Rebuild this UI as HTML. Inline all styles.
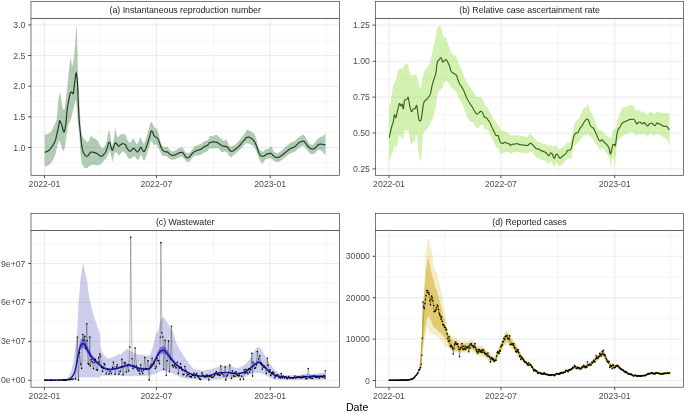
<!DOCTYPE html>
<html><head><meta charset="utf-8"><title>Figure</title>
<style>
html,body{margin:0;padding:0;background:#fff;}
svg{display:block;font-family:"Liberation Sans",Arial,Helvetica,sans-serif;}
</style></head><body>
<svg width="685" height="413" viewBox="0 0 685 413">
<rect width="685" height="413" fill="#fff"/>
<defs><clipPath id="cp_a"><rect x="31.0" y="18.5" width="308.5" height="156.8"/></clipPath><clipPath id="cp_b"><rect x="375.5" y="18.5" width="307.9" height="156.8"/></clipPath><clipPath id="cp_c"><rect x="31.0" y="230.4" width="308.5" height="156.8"/></clipPath><clipPath id="cp_d"><rect x="375.5" y="230.4" width="307.9" height="156.8"/></clipPath></defs>
<rect x="31.0" y="18.5" width="308.5" height="156.8" fill="#fff"/>
<line x1="31.0" x2="339.5" y1="162.8" y2="162.8" stroke="#ebebeb" stroke-width="0.5"/>
<line x1="31.0" x2="339.5" y1="132.2" y2="132.2" stroke="#ebebeb" stroke-width="0.5"/>
<line x1="31.0" x2="339.5" y1="101.5" y2="101.5" stroke="#ebebeb" stroke-width="0.5"/>
<line x1="31.0" x2="339.5" y1="70.9" y2="70.9" stroke="#ebebeb" stroke-width="0.5"/>
<line x1="31.0" x2="339.5" y1="40.2" y2="40.2" stroke="#ebebeb" stroke-width="0.5"/>
<line x1="100.5" x2="100.5" y1="18.5" y2="175.3" stroke="#ebebeb" stroke-width="0.5"/>
<line x1="213.3" x2="213.3" y1="18.5" y2="175.3" stroke="#ebebeb" stroke-width="0.5"/>
<line x1="326.2" x2="326.2" y1="18.5" y2="175.3" stroke="#ebebeb" stroke-width="0.5"/>
<line x1="31.0" x2="339.5" y1="147.5" y2="147.5" stroke="#ebebeb" stroke-width="1.0"/>
<line x1="31.0" x2="339.5" y1="116.8" y2="116.8" stroke="#ebebeb" stroke-width="1.0"/>
<line x1="31.0" x2="339.5" y1="86.2" y2="86.2" stroke="#ebebeb" stroke-width="1.0"/>
<line x1="31.0" x2="339.5" y1="55.5" y2="55.5" stroke="#ebebeb" stroke-width="1.0"/>
<line x1="31.0" x2="339.5" y1="24.9" y2="24.9" stroke="#ebebeb" stroke-width="1.0"/>
<line x1="44.5" x2="44.5" y1="18.5" y2="175.3" stroke="#ebebeb" stroke-width="1.0"/>
<line x1="156.4" x2="156.4" y1="18.5" y2="175.3" stroke="#ebebeb" stroke-width="1.0"/>
<line x1="270.2" x2="270.2" y1="18.5" y2="175.3" stroke="#ebebeb" stroke-width="1.0"/>
<g clip-path="url(#cp_a)">
<path d="M44.7 134.6L45.1 134.6L45.5 134.5L45.9 134.5L46.3 134.4L46.7 134.2L47.1 134.1L47.5 133.9L47.9 133.8L48.3 133.6L48.7 133.4L49.1 133.2L49.5 133.0L49.9 132.6L50.3 132.3L50.7 131.9L51.1 131.4L51.5 130.9L51.9 130.3L52.3 129.7L52.7 128.8L53.1 127.8L53.5 126.7L53.9 125.8L54.3 124.9L54.7 124.2L55.1 123.4L55.5 122.6L55.9 121.7L56.3 120.8L56.7 118.6L57.1 114.4L57.5 109.7L57.9 105.2L58.3 100.5L58.7 97.0L59.1 94.6L59.5 93.3L59.9 93.5L60.3 94.3L60.7 95.5L61.1 98.6L61.5 102.1L61.9 104.3L62.3 106.0L62.7 107.6L63.1 109.0L63.5 109.9L63.9 110.3L64.3 109.7L64.7 107.7L65.1 104.9L65.5 101.7L65.9 98.7L66.3 95.7L66.7 92.5L67.1 89.1L67.5 85.3L67.9 81.1L68.3 76.8L68.7 72.8L69.1 69.2L69.5 65.4L69.9 61.7L70.3 58.9L70.7 58.1L71.1 59.8L71.5 62.7L71.9 65.3L72.3 65.8L72.7 64.7L73.1 62.6L73.5 59.9L73.9 56.9L74.3 53.4L74.7 48.6L75.1 43.2L75.5 38.0L75.9 31.9L76.3 27.0L76.7 26.6L77.1 36.0L77.5 52.3L77.9 72.1L78.3 80.2L78.7 86.5L79.1 94.6L79.5 103.3L79.9 111.5L80.3 119.1L80.7 126.0L81.1 130.4L81.5 132.7L81.9 134.5L82.3 135.8L82.7 136.8L83.1 137.6L83.5 138.2L83.9 138.7L84.3 139.2L84.7 139.6L85.1 140.0L85.5 140.4L85.9 140.8L86.3 141.2L86.7 141.6L87.1 141.9L87.5 142.1L87.9 142.2L88.3 141.8L88.7 141.1L89.1 140.0L89.5 139.0L89.9 138.1L90.3 137.2L90.7 136.4L91.1 136.1L91.5 136.3L91.9 136.7L92.3 137.1L92.7 137.6L93.1 137.8L93.5 138.1L93.9 138.3L94.3 138.4L94.7 138.6L95.1 138.8L95.5 139.0L95.9 139.3L96.3 139.5L96.7 139.8L97.1 140.1L97.5 140.4L97.9 140.8L98.3 141.4L98.7 142.3L99.1 143.4L99.5 144.5L99.9 145.4L100.3 146.2L100.7 147.1L101.1 147.9L101.5 148.4L101.9 148.4L102.3 148.3L102.7 148.1L103.1 147.8L103.5 147.4L103.9 147.0L104.3 146.5L104.7 146.0L105.1 145.3L105.5 144.5L105.9 143.5L106.3 142.4L106.7 141.2L107.1 139.4L107.5 136.6L107.9 133.8L108.3 132.1L108.7 131.2L109.1 130.7L109.5 130.8L109.9 132.4L110.3 134.5L110.7 137.5L111.1 141.5L111.5 144.8L111.9 145.9L112.3 145.4L112.7 144.4L113.1 143.0L113.5 141.4L113.9 138.7L114.3 135.5L114.7 132.7L115.1 129.7L115.5 127.8L115.9 129.1L116.3 132.9L116.7 134.6L117.1 135.7L117.5 136.6L117.9 137.0L118.3 137.1L118.7 136.8L119.1 136.4L119.5 135.8L119.9 135.3L120.3 134.8L120.7 134.6L121.1 134.4L121.5 134.2L121.9 134.1L122.3 134.0L122.7 134.0L123.1 134.0L123.5 134.1L123.9 134.2L124.3 134.3L124.7 134.4L125.1 134.6L125.5 135.1L125.9 136.1L126.3 137.3L126.7 138.4L127.1 139.3L127.5 140.0L127.9 140.9L128.3 141.6L128.7 142.2L129.1 142.6L129.5 142.8L129.9 142.7L130.3 142.5L130.7 142.2L131.1 141.8L131.5 141.4L131.9 140.7L132.3 139.8L132.7 138.9L133.1 138.4L133.5 138.5L133.9 139.0L134.3 139.8L134.7 140.6L135.1 141.2L135.5 142.0L135.9 142.7L136.3 143.4L136.7 143.9L137.1 144.0L137.5 143.7L137.9 143.1L138.3 142.3L138.7 141.4L139.1 140.5L139.5 139.2L139.9 138.0L140.3 137.2L140.7 137.3L141.1 138.2L141.5 139.4L141.9 140.5L142.3 141.3L142.7 142.1L143.1 142.9L143.5 143.3L143.9 143.4L144.3 142.9L144.7 142.1L145.1 141.2L145.5 140.2L145.9 139.0L146.3 137.6L146.7 136.1L147.1 134.7L147.5 133.3L147.9 132.0L148.3 130.7L148.7 129.4L149.1 128.0L149.5 126.2L149.9 124.4L150.3 123.0L150.7 122.5L151.1 122.2L151.5 122.0L151.9 122.0L152.3 122.7L152.7 123.7L153.1 124.6L153.5 125.5L153.9 126.4L154.3 127.2L154.7 127.7L155.1 128.0L155.5 128.2L155.9 128.4L156.3 128.7L156.7 129.1L157.1 129.8L157.5 130.7L157.9 131.7L158.3 132.9L158.7 134.1L159.1 135.7L159.5 137.5L159.9 139.2L160.3 140.8L160.7 142.1L161.1 143.3L161.5 144.5L161.9 145.4L162.3 146.0L162.7 146.4L163.1 146.8L163.5 147.0L163.9 147.2L164.3 147.2L164.7 147.1L165.1 147.0L165.5 146.8L165.9 146.7L166.3 146.6L166.7 146.6L167.1 146.7L167.5 147.1L167.9 147.5L168.3 148.1L168.7 148.6L169.1 149.0L169.5 149.4L169.9 149.8L170.3 150.2L170.7 150.7L171.1 151.0L171.5 151.3L171.9 151.5L172.3 151.6L172.7 151.6L173.1 151.5L173.5 151.3L173.9 151.1L174.3 150.9L174.7 150.7L175.1 150.5L175.5 150.3L175.9 150.1L176.3 149.9L176.7 149.6L177.1 149.3L177.5 149.1L177.9 148.8L178.3 148.6L178.7 148.4L179.1 148.2L179.5 148.0L179.9 147.8L180.3 147.6L180.7 147.4L181.1 147.3L181.5 147.2L181.9 147.2L182.3 147.4L182.7 147.8L183.1 148.4L183.5 148.9L183.9 149.5L184.3 150.2L184.7 151.0L185.1 151.7L185.5 152.2L185.9 152.5L186.3 152.8L186.7 153.1L187.1 153.3L187.5 153.4L187.9 153.5L188.3 153.5L188.7 153.3L189.1 153.0L189.5 152.6L189.9 152.3L190.3 151.9L190.7 151.4L191.1 150.9L191.5 150.3L191.9 149.8L192.3 149.3L192.7 148.8L193.1 148.3L193.5 147.9L193.9 147.4L194.3 147.0L194.7 146.6L195.1 146.3L195.5 146.0L195.9 145.8L196.3 145.6L196.7 145.4L197.1 145.3L197.5 145.1L197.9 145.0L198.3 144.8L198.7 144.7L199.1 144.5L199.5 144.4L199.9 144.3L200.3 144.1L200.7 144.0L201.1 143.8L201.5 143.6L201.9 143.4L202.3 143.0L202.7 142.7L203.1 142.3L203.5 142.0L203.9 141.6L204.3 141.3L204.7 141.1L205.1 140.9L205.5 140.8L205.9 140.7L206.3 140.6L206.7 140.5L207.1 140.4L207.5 140.3L207.9 139.9L208.3 139.0L208.7 137.9L209.1 137.1L209.5 136.7L209.9 136.3L210.3 136.0L210.7 135.9L211.1 135.9L211.5 136.1L211.9 136.3L212.3 136.4L212.7 136.5L213.1 136.3L213.5 136.0L213.9 135.6L214.3 135.3L214.7 135.2L215.1 135.1L215.5 135.0L215.9 134.9L216.3 134.8L216.7 134.9L217.1 135.1L217.5 135.5L217.9 136.0L218.3 136.5L218.7 136.9L219.1 137.2L219.5 137.6L219.9 137.9L220.3 138.2L220.7 138.5L221.1 138.7L221.5 139.0L221.9 139.4L222.3 139.8L222.7 140.2L223.1 140.5L223.5 140.8L223.9 140.9L224.3 140.8L224.7 140.5L225.1 140.1L225.5 139.8L225.9 139.6L226.3 139.8L226.7 140.3L227.1 140.9L227.5 141.7L227.9 142.9L228.3 143.9L228.7 144.6L229.1 145.4L229.5 146.0L229.9 146.4L230.3 146.6L230.7 146.5L231.1 146.5L231.5 146.4L231.9 146.2L232.3 146.1L232.7 146.0L233.1 145.8L233.5 145.6L233.9 145.4L234.3 145.1L234.7 144.9L235.1 144.6L235.5 144.3L235.9 144.0L236.3 143.6L236.7 143.3L237.1 142.9L237.5 142.5L237.9 142.1L238.3 141.6L238.7 141.1L239.1 140.6L239.5 140.1L239.9 139.6L240.3 139.1L240.7 138.6L241.1 138.1L241.5 137.6L241.9 137.1L242.3 136.6L242.7 136.1L243.1 135.6L243.5 135.1L243.9 134.6L244.3 134.1L244.7 133.6L245.1 133.1L245.5 132.5L245.9 131.7L246.3 130.8L246.7 130.1L247.1 129.6L247.5 129.6L247.9 129.7L248.3 130.0L248.7 130.3L249.1 130.5L249.5 130.8L249.9 131.0L250.3 131.2L250.7 131.5L251.1 131.7L251.5 132.0L251.9 132.2L252.3 132.5L252.7 132.7L253.1 133.0L253.5 133.3L253.9 133.6L254.3 134.1L254.7 134.7L255.1 135.6L255.5 136.6L255.9 137.8L256.3 139.2L256.7 141.1L257.1 143.1L257.5 144.5L257.9 145.6L258.3 146.6L258.7 147.5L259.1 148.2L259.5 148.9L259.9 149.6L260.3 150.2L260.7 150.8L261.1 151.3L261.5 151.5L261.9 151.6L262.3 151.6L262.7 151.6L263.1 151.6L263.5 151.6L263.9 151.5L264.3 150.9L264.7 150.1L265.1 149.4L265.5 149.1L265.9 149.1L266.3 149.1L266.7 149.1L267.1 149.1L267.5 149.1L267.9 149.1L268.3 149.0L268.7 148.6L269.1 148.1L269.5 147.6L269.9 147.2L270.3 147.0L270.7 146.8L271.1 146.7L271.5 146.6L271.9 146.6L272.3 147.6L272.7 149.2L273.1 150.4L273.5 150.9L273.9 151.4L274.3 151.8L274.7 152.1L275.1 152.3L275.5 152.5L275.9 152.7L276.3 152.9L276.7 153.1L277.1 153.2L277.5 153.2L277.9 153.1L278.3 152.8L278.7 152.5L279.1 152.2L279.5 152.0L279.9 151.8L280.3 151.6L280.7 151.3L281.1 151.1L281.5 150.8L281.9 150.4L282.3 150.0L282.7 149.6L283.1 149.1L283.5 148.7L283.9 148.3L284.3 147.9L284.7 147.5L285.1 147.2L285.5 146.9L285.9 146.6L286.3 146.3L286.7 145.9L287.1 145.6L287.5 145.3L287.9 145.0L288.3 144.6L288.7 144.3L289.1 143.9L289.5 143.6L289.9 143.3L290.3 143.0L290.7 142.8L291.1 142.6L291.5 142.4L291.9 142.3L292.3 142.1L292.7 142.0L293.1 141.8L293.5 141.7L293.9 141.5L294.3 141.2L294.7 141.0L295.1 140.7L295.5 140.3L295.9 140.0L296.3 139.7L296.7 139.3L297.1 138.9L297.5 138.4L297.9 138.0L298.3 137.6L298.7 137.2L299.1 137.0L299.5 136.7L299.9 136.6L300.3 136.4L300.7 136.2L301.1 136.0L301.5 135.8L301.9 135.5L302.3 135.1L302.7 134.8L303.1 134.6L303.5 134.6L303.9 134.9L304.3 135.4L304.7 136.0L305.1 136.6L305.5 137.3L305.9 137.9L306.3 138.6L306.7 139.3L307.1 140.1L307.5 140.9L307.9 141.6L308.3 142.1L308.7 142.7L309.1 143.2L309.5 143.7L309.9 144.2L310.3 144.5L310.7 144.7L311.1 144.7L311.5 144.7L311.9 144.7L312.3 144.7L312.7 144.7L313.1 144.6L313.5 144.3L313.9 143.9L314.3 143.3L314.7 142.8L315.1 142.3L315.5 141.8L315.9 141.3L316.3 140.8L316.7 140.2L317.1 139.7L317.5 139.3L317.9 138.9L318.3 138.5L318.7 138.2L319.1 137.9L319.5 137.6L319.9 137.3L320.3 137.1L320.7 136.9L321.1 136.8L321.5 136.6L321.9 136.5L322.3 136.4L322.7 136.2L323.1 135.9L323.5 135.5L323.9 135.1L324.3 134.6L324.7 134.1L325.1 133.5L325.5 132.8L325.5 132.7L325.5 155.8L325.5 155.7L325.1 155.1L324.7 154.5L324.3 154.0L323.9 153.4L323.5 152.9L323.1 152.5L322.7 152.0L322.3 151.5L321.9 151.0L321.5 150.7L321.1 150.4L320.7 150.3L320.3 150.2L319.9 150.1L319.5 150.0L319.1 150.0L318.7 150.0L318.3 150.0L317.9 150.1L317.5 150.4L317.1 150.9L316.7 151.3L316.3 151.8L315.9 152.2L315.5 152.6L315.1 152.9L314.7 153.3L314.3 153.7L313.9 154.0L313.5 154.1L313.1 154.1L312.7 154.1L312.3 154.1L311.9 154.1L311.5 154.1L311.1 154.1L310.7 154.1L310.3 153.9L309.9 153.6L309.5 153.1L309.1 152.6L308.7 152.1L308.3 151.6L307.9 151.1L307.5 150.6L307.1 150.1L306.7 149.6L306.3 149.1L305.9 148.6L305.5 148.1L305.1 147.5L304.7 146.8L304.3 146.3L303.9 146.0L303.5 145.9L303.1 146.0L302.7 146.1L302.3 146.2L301.9 146.4L301.5 146.5L301.1 146.7L300.7 146.8L300.3 147.0L299.9 147.2L299.5 147.4L299.1 147.7L298.7 147.9L298.3 148.3L297.9 148.7L297.5 149.1L297.1 149.6L296.7 150.0L296.3 150.4L295.9 150.7L295.5 151.1L295.1 151.4L294.7 151.7L294.3 152.0L293.9 152.2L293.5 152.4L293.1 152.5L292.7 152.6L292.3 152.7L291.9 152.8L291.5 152.9L291.1 153.1L290.7 153.2L290.3 153.4L289.9 153.6L289.5 153.9L289.1 154.2L288.7 154.5L288.3 154.8L287.9 155.1L287.5 155.4L287.1 155.7L286.7 156.0L286.3 156.3L285.9 156.7L285.5 157.0L285.1 157.3L284.7 157.6L284.3 158.0L283.9 158.3L283.5 158.6L283.1 159.0L282.7 159.3L282.3 159.6L281.9 159.9L281.5 160.2L281.1 160.5L280.7 160.8L280.3 161.0L279.9 161.3L279.5 161.6L279.1 161.8L278.7 161.9L278.3 162.0L277.9 162.1L277.5 162.1L277.1 162.1L276.7 162.0L276.3 162.0L275.9 161.9L275.5 161.8L275.1 161.6L274.7 161.5L274.3 161.3L273.9 161.0L273.5 160.7L273.1 160.4L272.7 160.0L272.3 159.6L271.9 159.1L271.5 158.6L271.1 158.2L270.7 157.9L270.3 157.9L269.9 158.0L269.5 158.2L269.1 158.4L268.7 158.5L268.3 158.6L267.9 158.7L267.5 158.8L267.1 158.9L266.7 159.0L266.3 159.1L265.9 159.3L265.5 159.6L265.1 160.1L264.7 160.5L264.3 161.0L263.9 161.6L263.5 162.3L263.1 162.9L262.7 163.4L262.3 163.6L261.9 163.3L261.5 162.8L261.1 162.3L260.7 161.7L260.3 161.1L259.9 160.4L259.5 159.7L259.1 158.9L258.7 157.9L258.3 156.8L257.9 155.7L257.5 154.5L257.1 153.4L256.7 152.3L256.3 151.1L255.9 150.0L255.5 149.2L255.1 148.5L254.7 147.9L254.3 147.4L253.9 146.9L253.5 146.5L253.1 146.1L252.7 145.8L252.3 145.5L251.9 145.2L251.5 144.9L251.1 144.7L250.7 144.4L250.3 144.2L249.9 143.9L249.5 143.7L249.1 143.5L248.7 143.4L248.3 143.4L247.9 143.4L247.5 143.4L247.1 143.4L246.7 143.4L246.3 143.4L245.9 143.4L245.5 143.6L245.1 143.9L244.7 144.4L244.3 144.9L243.9 145.5L243.5 145.9L243.1 146.3L242.7 146.8L242.3 147.2L241.9 147.7L241.5 148.1L241.1 148.6L240.7 149.0L240.3 149.4L239.9 149.8L239.5 150.2L239.1 150.6L238.7 151.0L238.3 151.4L237.9 151.7L237.5 152.0L237.1 152.3L236.7 152.7L236.3 153.0L235.9 153.3L235.5 153.5L235.1 153.8L234.7 154.1L234.3 154.4L233.9 154.6L233.5 154.9L233.1 155.3L232.7 155.7L232.3 156.2L231.9 156.7L231.5 157.0L231.1 157.2L230.7 157.2L230.3 157.0L229.9 156.5L229.5 156.0L229.1 155.5L228.7 155.0L228.3 154.4L227.9 153.8L227.5 153.3L227.1 152.8L226.7 152.5L226.3 152.1L225.9 151.8L225.5 151.6L225.1 151.6L224.7 151.6L224.3 151.7L223.9 151.8L223.5 152.0L223.1 152.1L222.7 152.2L222.3 152.2L221.9 152.2L221.5 152.0L221.1 151.6L220.7 151.1L220.3 150.5L219.9 150.0L219.5 149.7L219.1 149.3L218.7 148.9L218.3 148.5L217.9 148.2L217.5 147.9L217.1 147.8L216.7 147.9L216.3 148.0L215.9 148.1L215.5 148.2L215.1 148.4L214.7 148.4L214.3 148.4L213.9 148.4L213.5 148.4L213.1 148.3L212.7 148.2L212.3 148.2L211.9 148.2L211.5 148.2L211.1 148.2L210.7 148.3L210.3 148.3L209.9 148.4L209.5 148.4L209.1 148.7L208.7 149.3L208.3 150.0L207.9 150.6L207.5 151.0L207.1 151.3L206.7 151.5L206.3 151.7L205.9 151.9L205.5 152.0L205.1 152.2L204.7 152.4L204.3 152.6L203.9 152.8L203.5 152.9L203.1 153.1L202.7 153.4L202.3 153.7L201.9 154.1L201.5 154.4L201.1 154.6L200.7 154.8L200.3 154.9L199.9 155.1L199.5 155.2L199.1 155.3L198.7 155.4L198.3 155.4L197.9 155.5L197.5 155.5L197.1 155.5L196.7 155.6L196.3 155.6L195.9 155.6L195.5 155.7L195.1 155.7L194.7 155.8L194.3 156.0L193.9 156.3L193.5 156.7L193.1 157.1L192.7 157.6L192.3 158.0L191.9 158.4L191.5 158.9L191.1 159.5L190.7 160.1L190.3 160.7L189.9 161.2L189.5 161.6L189.1 161.8L188.7 162.0L188.3 162.1L187.9 162.2L187.5 162.3L187.1 162.2L186.7 161.9L186.3 161.4L185.9 160.9L185.5 160.4L185.1 159.9L184.7 159.3L184.3 158.7L183.9 158.2L183.5 157.8L183.1 157.4L182.7 157.1L182.3 156.8L181.9 156.6L181.5 156.6L181.1 156.7L180.7 156.8L180.3 156.9L179.9 157.1L179.5 157.2L179.1 157.4L178.7 157.6L178.3 157.8L177.9 157.9L177.5 158.1L177.1 158.4L176.7 158.6L176.3 158.9L175.9 159.1L175.5 159.3L175.1 159.5L174.7 159.5L174.3 159.6L173.9 159.6L173.5 159.7L173.1 159.7L172.7 159.8L172.3 159.8L171.9 159.8L171.5 159.8L171.1 159.7L170.7 159.5L170.3 159.2L169.9 158.9L169.5 158.6L169.1 158.3L168.7 158.0L168.3 157.7L167.9 157.4L167.5 157.0L167.1 156.6L166.7 156.3L166.3 156.1L165.9 156.0L165.5 156.0L165.1 156.0L164.7 156.0L164.3 156.0L163.9 156.0L163.5 156.0L163.1 155.9L162.7 155.7L162.3 155.3L161.9 154.8L161.5 154.2L161.1 153.7L160.7 153.0L160.3 152.1L159.9 151.1L159.5 150.1L159.1 149.1L158.7 148.2L158.3 147.3L157.9 146.4L157.5 145.7L157.1 145.2L156.7 144.8L156.3 144.4L155.9 144.1L155.5 144.0L155.1 144.5L154.7 145.2L154.3 145.8L153.9 145.8L153.5 145.0L153.1 143.7L152.7 142.5L152.3 141.8L151.9 141.3L151.5 141.0L151.1 141.0L150.7 141.9L150.3 143.4L149.9 145.0L149.5 146.3L149.1 147.6L148.7 148.7L148.3 149.9L147.9 151.1L147.5 152.4L147.1 153.6L146.7 154.9L146.3 156.1L145.9 157.2L145.5 158.2L145.1 159.2L144.7 160.0L144.3 160.4L143.9 160.3L143.5 159.9L143.1 159.4L142.7 158.5L142.3 157.1L141.9 155.5L141.5 154.8L141.1 155.0L140.7 155.7L140.3 156.5L139.9 157.2L139.5 158.0L139.1 158.9L138.7 159.5L138.3 159.8L137.9 159.7L137.5 159.6L137.1 159.5L136.7 159.3L136.3 159.1L135.9 158.4L135.5 157.5L135.1 156.6L134.7 156.1L134.3 156.0L133.9 156.2L133.5 156.5L133.1 156.9L132.7 157.2L132.3 157.5L131.9 157.9L131.5 158.3L131.1 158.7L130.7 159.0L130.3 159.1L129.9 159.1L129.5 159.0L129.1 158.7L128.7 158.4L128.3 158.0L127.9 157.6L127.5 157.2L127.1 156.5L126.7 155.8L126.3 154.9L125.9 154.1L125.5 153.4L125.1 152.9L124.7 152.6L124.3 152.3L123.9 152.0L123.5 151.8L123.1 151.7L122.7 151.6L122.3 151.7L121.9 152.0L121.5 152.4L121.1 153.0L120.7 153.4L120.3 153.9L119.9 154.4L119.5 154.9L119.1 155.3L118.7 155.4L118.3 155.1L117.9 154.4L117.5 153.7L117.1 153.1L116.7 152.8L116.3 152.6L115.9 152.4L115.5 152.3L115.1 152.2L114.7 152.5L114.3 153.7L113.9 155.3L113.5 156.9L113.1 159.1L112.7 160.9L112.3 161.1L111.9 159.7L111.5 157.5L111.1 155.6L110.7 153.5L110.3 151.7L109.9 151.0L109.5 151.5L109.1 152.5L108.7 153.4L108.3 154.3L107.9 155.1L107.5 156.0L107.1 156.7L106.7 157.4L106.3 158.0L105.9 158.5L105.5 159.0L105.1 159.5L104.7 159.9L104.3 160.4L103.9 160.8L103.5 161.2L103.1 161.7L102.7 162.1L102.3 162.4L101.9 162.8L101.5 163.2L101.1 163.5L100.7 163.9L100.3 164.2L99.9 164.5L99.5 164.7L99.1 164.9L98.7 165.0L98.3 165.2L97.9 165.3L97.5 165.4L97.1 165.4L96.7 165.5L96.3 165.4L95.9 165.3L95.5 165.2L95.1 165.0L94.7 164.9L94.3 164.8L93.9 164.8L93.5 164.8L93.1 164.8L92.7 164.8L92.3 164.8L91.9 164.8L91.5 164.8L91.1 165.0L90.7 165.2L90.3 165.4L89.9 165.8L89.5 166.1L89.1 166.4L88.7 166.7L88.3 167.1L87.9 167.6L87.5 167.9L87.1 168.2L86.7 168.3L86.3 168.3L85.9 168.2L85.5 168.1L85.1 167.9L84.7 167.7L84.3 167.5L83.9 167.2L83.5 166.7L83.1 166.1L82.7 165.3L82.3 164.4L81.9 163.2L81.5 161.6L81.1 159.4L80.7 155.9L80.3 150.3L79.9 144.1L79.5 136.9L79.1 132.2L78.7 129.0L78.3 126.2L77.9 122.8L77.5 117.6L77.1 111.3L76.7 106.7L76.3 103.1L75.9 100.6L75.5 100.4L75.1 101.5L74.7 103.4L74.3 105.4L73.9 107.1L73.5 108.7L73.1 110.4L72.7 112.1L72.3 113.7L71.9 115.2L71.5 116.7L71.1 118.1L70.7 119.4L70.3 120.6L69.9 121.7L69.5 122.5L69.1 123.1L68.7 123.8L68.3 124.8L67.9 126.7L67.5 129.4L67.1 132.2L66.7 135.0L66.3 137.8L65.9 140.6L65.5 143.3L65.1 146.0L64.7 148.1L64.3 149.3L63.9 150.3L63.5 150.9L63.1 150.8L62.7 150.1L62.3 148.9L61.9 147.5L61.5 146.0L61.1 144.7L60.7 143.8L60.3 142.9L59.9 142.0L59.5 141.3L59.1 140.9L58.7 141.1L58.3 142.0L57.9 143.5L57.5 145.3L57.1 147.0L56.7 148.6L56.3 150.5L55.9 152.5L55.5 154.2L55.1 155.5L54.7 156.6L54.3 157.5L53.9 158.3L53.5 159.0L53.1 159.7L52.7 160.3L52.3 160.9L51.9 161.5L51.5 162.0L51.1 162.6L50.7 163.1L50.3 163.5L49.9 164.0L49.5 164.3L49.1 164.6L48.7 164.9L48.3 165.2L47.9 165.4L47.5 165.7L47.1 165.9L46.7 166.1L46.3 166.3L45.9 166.4L45.5 166.6L45.1 166.7L44.7 166.7Z" fill="#236a28" fill-opacity="0.35" stroke="none"/>
<path d="M44.7 152.2L45.1 152.2L45.5 152.1L45.9 152.0L46.3 151.8L46.7 151.6L47.1 151.4L47.5 151.2L47.9 151.0L48.3 150.7L48.7 150.4L49.1 150.2L49.5 149.8L49.9 149.4L50.3 148.9L50.7 148.4L51.1 147.9L51.5 147.3L51.9 146.7L52.3 146.1L52.7 145.6L53.1 144.9L53.5 144.3L53.9 143.6L54.3 142.8L54.7 142.0L55.1 141.0L55.5 139.9L55.9 138.4L56.3 136.6L56.7 134.8L57.1 133.1L57.5 131.4L57.9 129.6L58.3 127.7L58.7 125.8L59.1 123.3L59.5 120.7L59.9 120.9L60.3 121.5L60.7 122.4L61.1 123.4L61.5 124.4L61.9 125.5L62.3 127.0L62.7 128.6L63.1 130.1L63.5 131.3L63.9 131.9L64.3 131.8L64.7 130.5L65.1 128.6L65.5 126.2L65.9 123.6L66.3 119.6L66.7 114.6L67.1 110.4L67.5 107.5L67.9 104.8L68.3 102.5L68.7 100.4L69.1 98.5L69.5 96.6L69.9 94.7L70.3 93.1L70.7 92.2L71.1 92.1L71.5 92.2L71.9 92.5L72.3 92.8L72.7 93.6L73.1 93.9L73.5 92.4L73.9 89.2L74.3 85.6L74.7 82.4L75.1 79.2L75.5 75.9L75.9 73.4L76.3 72.9L76.7 74.8L77.1 78.5L77.5 83.4L77.9 93.5L78.3 103.6L78.7 111.7L79.1 118.7L79.5 124.0L79.9 128.0L80.3 131.7L80.7 135.9L81.1 140.3L81.5 143.9L81.9 146.6L82.3 148.7L82.7 150.4L83.1 151.6L83.5 152.7L83.9 153.5L84.3 154.2L84.7 154.7L85.1 155.1L85.5 155.4L85.9 155.7L86.3 156.0L86.7 156.2L87.1 156.2L87.5 156.2L87.9 155.9L88.3 155.3L88.7 154.7L89.1 154.2L89.5 153.7L89.9 153.1L90.3 152.5L90.7 152.1L91.1 152.0L91.5 152.0L91.9 152.0L92.3 152.1L92.7 152.2L93.1 152.3L93.5 152.3L93.9 152.4L94.3 152.5L94.7 152.6L95.1 152.7L95.5 152.9L95.9 153.0L96.3 153.2L96.7 153.4L97.1 153.6L97.5 153.8L97.9 154.1L98.3 154.4L98.7 154.8L99.1 155.2L99.5 155.5L99.9 155.8L100.3 155.9L100.7 156.1L101.1 156.2L101.5 156.3L101.9 156.2L102.3 155.9L102.7 155.5L103.1 155.1L103.5 154.6L103.9 154.2L104.3 153.8L104.7 153.4L105.1 152.9L105.5 152.3L105.9 151.5L106.3 150.5L106.7 149.3L107.1 148.1L107.5 146.9L107.9 145.5L108.3 143.8L108.7 142.6L109.1 142.2L109.5 142.3L109.9 142.7L110.3 143.8L110.7 145.7L111.1 147.5L111.5 148.6L111.9 149.7L112.3 150.3L112.7 150.1L113.1 148.8L113.5 147.2L113.9 146.1L114.3 144.8L114.7 143.7L115.1 142.9L115.5 142.8L115.9 143.0L116.3 143.4L116.7 143.9L117.1 144.3L117.5 144.9L117.9 145.5L118.3 145.9L118.7 146.2L119.1 146.1L119.5 145.8L119.9 145.4L120.3 144.9L120.7 144.6L121.1 144.4L121.5 144.1L121.9 143.8L122.3 143.7L122.7 143.7L123.1 143.7L123.5 143.8L123.9 143.9L124.3 144.1L124.7 144.2L125.1 144.4L125.5 144.8L125.9 145.6L126.3 146.5L126.7 147.4L127.1 148.3L127.5 149.0L127.9 149.4L128.3 149.9L128.7 150.4L129.1 150.7L129.5 151.0L129.9 151.2L130.3 151.2L130.7 151.0L131.1 150.6L131.5 150.2L131.9 149.8L132.3 149.4L132.7 148.9L133.1 148.5L133.5 148.2L133.9 148.3L134.3 148.6L134.7 149.1L135.1 149.6L135.5 150.1L135.9 150.5L136.3 151.1L136.7 151.6L137.1 151.9L137.5 152.0L137.9 151.7L138.3 151.3L138.7 150.7L139.1 150.1L139.5 149.4L139.9 148.5L140.3 147.7L140.7 147.2L141.1 147.4L141.5 148.0L141.9 148.9L142.3 149.7L142.7 150.3L143.1 150.9L143.5 151.4L143.9 151.6L144.3 151.4L144.7 150.9L145.1 150.1L145.5 149.3L145.9 148.4L146.3 147.4L146.7 146.2L147.1 144.9L147.5 143.6L147.9 142.3L148.3 141.0L148.7 139.6L149.1 138.3L149.5 136.9L149.9 135.5L150.3 133.8L150.7 132.2L151.1 131.2L151.5 131.1L151.9 131.3L152.3 131.6L152.7 132.1L153.1 133.2L153.5 134.5L153.9 135.4L154.3 135.9L154.7 136.4L155.1 136.7L155.5 137.0L155.9 137.2L156.3 137.3L156.7 137.5L157.1 137.7L157.5 138.1L157.9 138.7L158.3 139.6L158.7 140.6L159.1 141.6L159.5 142.7L159.9 144.0L160.3 145.3L160.7 146.5L161.1 147.5L161.5 148.3L161.9 149.0L162.3 149.7L162.7 150.2L163.1 150.6L163.5 150.9L163.9 151.2L164.3 151.4L164.7 151.6L165.1 151.7L165.5 151.7L165.9 151.8L166.3 151.8L166.7 151.9L167.1 151.9L167.5 152.1L167.9 152.3L168.3 152.7L168.7 153.1L169.1 153.5L169.5 153.9L169.9 154.2L170.3 154.5L170.7 154.7L171.1 155.0L171.5 155.2L171.9 155.3L172.3 155.4L172.7 155.4L173.1 155.3L173.5 155.3L173.9 155.2L174.3 155.1L174.7 155.0L175.1 154.9L175.5 154.8L175.9 154.5L176.3 154.3L176.7 154.1L177.1 153.9L177.5 153.7L177.9 153.5L178.3 153.3L178.7 153.1L179.1 152.9L179.5 152.7L179.9 152.6L180.3 152.5L180.7 152.4L181.1 152.3L181.5 152.3L181.9 152.2L182.3 152.3L182.7 152.6L183.1 153.1L183.5 153.6L183.9 154.1L184.3 154.7L184.7 155.4L185.1 156.1L185.5 156.6L185.9 157.0L186.3 157.3L186.7 157.6L187.1 157.8L187.5 157.9L187.9 157.8L188.3 157.7L188.7 157.5L189.1 157.2L189.5 156.9L189.9 156.4L190.3 155.9L190.7 155.4L191.1 154.9L191.5 154.4L191.9 154.0L192.3 153.5L192.7 153.1L193.1 152.7L193.5 152.4L193.9 152.1L194.3 151.8L194.7 151.5L195.1 151.3L195.5 151.1L195.9 150.9L196.3 150.7L196.7 150.5L197.1 150.4L197.5 150.3L197.9 150.2L198.3 150.1L198.7 150.0L199.1 149.9L199.5 149.7L199.9 149.6L200.3 149.5L200.7 149.3L201.1 149.2L201.5 148.9L201.9 148.5L202.3 148.1L202.7 147.7L203.1 147.4L203.5 147.1L203.9 146.8L204.3 146.6L204.7 146.4L205.1 146.2L205.5 146.0L205.9 145.9L206.3 145.8L206.7 145.7L207.1 145.5L207.5 145.4L207.9 145.0L208.3 144.4L208.7 143.8L209.1 143.1L209.5 142.8L209.9 142.6L210.3 142.4L210.7 142.3L211.1 142.2L211.5 142.1L211.9 142.1L212.3 142.0L212.7 142.0L213.1 141.9L213.5 141.9L213.9 141.9L214.3 141.9L214.7 141.9L215.1 142.0L215.5 142.0L215.9 142.1L216.3 142.1L216.7 142.2L217.1 142.4L217.5 142.6L217.9 142.9L218.3 143.2L218.7 143.5L219.1 143.8L219.5 144.0L219.9 144.3L220.3 144.6L220.7 144.9L221.1 145.1L221.5 145.3L221.9 145.5L222.3 145.7L222.7 145.8L223.1 145.9L223.5 146.1L223.9 146.2L224.3 146.2L224.7 146.3L225.1 146.3L225.5 146.4L225.9 146.4L226.3 146.5L226.7 146.6L227.1 146.9L227.5 147.4L227.9 147.9L228.3 148.4L228.7 148.9L229.1 149.5L229.5 150.2L229.9 150.7L230.3 151.0L230.7 151.1L231.1 151.1L231.5 151.2L231.9 151.2L232.3 151.2L232.7 151.1L233.1 150.9L233.5 150.6L233.9 150.3L234.3 150.0L234.7 149.7L235.1 149.4L235.5 149.1L235.9 148.8L236.3 148.5L236.7 148.2L237.1 147.9L237.5 147.5L237.9 147.2L238.3 146.8L238.7 146.4L239.1 146.0L239.5 145.5L239.9 145.1L240.3 144.6L240.7 144.1L241.1 143.6L241.5 143.0L241.9 142.5L242.3 142.1L242.7 141.7L243.1 141.3L243.5 140.9L243.9 140.5L244.3 140.1L244.7 139.7L245.1 139.2L245.5 138.6L245.9 138.0L246.3 137.6L246.7 137.4L247.1 137.3L247.5 137.2L247.9 137.1L248.3 137.1L248.7 137.1L249.1 137.2L249.5 137.3L249.9 137.5L250.3 137.7L250.7 137.9L251.1 138.1L251.5 138.4L251.9 138.7L252.3 139.0L252.7 139.4L253.1 139.8L253.5 140.3L253.9 140.8L254.3 141.4L254.7 142.0L255.1 142.7L255.5 143.5L255.9 144.4L256.3 145.5L256.7 146.6L257.1 147.8L257.5 148.9L257.9 150.0L258.3 151.2L258.7 152.3L259.1 153.2L259.5 154.0L259.9 154.7L260.3 155.3L260.7 155.8L261.1 156.0L261.5 156.1L261.9 156.2L262.3 156.2L262.7 156.2L263.1 156.3L263.5 156.2L263.9 156.0L264.3 155.7L264.7 155.5L265.1 155.3L265.5 155.0L265.9 154.6L266.3 154.4L266.7 154.1L267.1 154.0L267.5 153.9L267.9 153.9L268.3 153.8L268.7 153.7L269.1 153.6L269.5 153.5L269.9 153.3L270.3 153.3L270.7 153.2L271.1 153.4L271.5 153.8L271.9 154.2L272.3 154.6L272.7 155.0L273.1 155.4L273.5 155.9L273.9 156.3L274.3 156.6L274.7 156.9L275.1 157.1L275.5 157.3L275.9 157.5L276.3 157.5L276.7 157.5L277.1 157.5L277.5 157.4L277.9 157.4L278.3 157.3L278.7 157.3L279.1 157.2L279.5 157.0L279.9 156.7L280.3 156.4L280.7 156.1L281.1 155.8L281.5 155.6L281.9 155.3L282.3 155.0L282.7 154.6L283.1 154.3L283.5 154.0L283.9 153.6L284.3 153.3L284.7 153.0L285.1 152.7L285.5 152.3L285.9 152.0L286.3 151.7L286.7 151.4L287.1 151.0L287.5 150.7L287.9 150.4L288.3 150.1L288.7 149.8L289.1 149.5L289.5 149.2L289.9 148.9L290.3 148.7L290.7 148.4L291.1 148.2L291.5 148.1L291.9 147.9L292.3 147.8L292.7 147.7L293.1 147.5L293.5 147.3L293.9 147.1L294.3 146.9L294.7 146.6L295.1 146.3L295.5 146.0L295.9 145.7L296.3 145.3L296.7 145.0L297.1 144.5L297.5 144.1L297.9 143.7L298.3 143.2L298.7 142.9L299.1 142.6L299.5 142.4L299.9 142.1L300.3 141.9L300.7 141.7L301.1 141.6L301.5 141.5L301.9 141.4L302.3 141.3L302.7 141.2L303.1 141.2L303.5 141.1L303.9 141.2L304.3 141.5L304.7 141.9L305.1 142.5L305.5 143.1L305.9 143.5L306.3 144.0L306.7 144.6L307.1 145.1L307.5 145.6L307.9 146.1L308.3 146.6L308.7 147.0L309.1 147.4L309.5 147.8L309.9 148.2L310.3 148.5L310.7 148.7L311.1 148.8L311.5 148.9L311.9 148.9L312.3 149.0L312.7 149.0L313.1 149.1L313.5 149.1L313.9 148.9L314.3 148.7L314.7 148.3L315.1 147.9L315.5 147.5L315.9 147.2L316.3 146.8L316.7 146.3L317.1 145.8L317.5 145.4L317.9 145.0L318.3 144.7L318.7 144.5L319.1 144.3L319.5 144.2L319.9 144.1L320.3 144.0L320.7 144.1L321.1 144.1L321.5 144.2L321.9 144.2L322.3 144.3L322.7 144.4L323.1 144.5L323.5 144.5L323.9 144.6L324.3 144.7L324.7 144.8L325.1 144.8L325.5 144.9L325.5 144.9" fill="none" stroke="#1c3a1f" stroke-width="1.15" stroke-opacity="1" stroke-linejoin="round"/>
</g>
<rect x="31.0" y="18.5" width="308.5" height="156.8" fill="none" stroke="#333" stroke-width="0.65"/>
<rect x="31.0" y="1.5" width="308.5" height="17.0" fill="#fff" stroke="#333" stroke-width="0.65"/>
<text x="185.2" y="13.3" text-anchor="middle" font-size="8.75" fill="#1a1a1a">(a) Instantaneous reproduction number</text>
<line x1="28.1" x2="31.0" y1="147.5" y2="147.5" stroke="#333" stroke-width="0.85"/>
<text x="25.4" y="150.5" text-anchor="end" font-size="8.70" fill="#4d4d4d">1.0</text>
<line x1="28.1" x2="31.0" y1="116.8" y2="116.8" stroke="#333" stroke-width="0.85"/>
<text x="25.4" y="119.8" text-anchor="end" font-size="8.70" fill="#4d4d4d">1.5</text>
<line x1="28.1" x2="31.0" y1="86.2" y2="86.2" stroke="#333" stroke-width="0.85"/>
<text x="25.4" y="89.2" text-anchor="end" font-size="8.70" fill="#4d4d4d">2.0</text>
<line x1="28.1" x2="31.0" y1="55.5" y2="55.5" stroke="#333" stroke-width="0.85"/>
<text x="25.4" y="58.5" text-anchor="end" font-size="8.70" fill="#4d4d4d">2.5</text>
<line x1="28.1" x2="31.0" y1="24.9" y2="24.9" stroke="#333" stroke-width="0.85"/>
<text x="25.4" y="27.9" text-anchor="end" font-size="8.70" fill="#4d4d4d">3.0</text>
<line x1="44.5" x2="44.5" y1="175.3" y2="178.2" stroke="#333" stroke-width="0.85"/>
<text x="44.5" y="187.0" text-anchor="middle" font-size="8.70" fill="#4d4d4d">2022-01</text>
<line x1="156.4" x2="156.4" y1="175.3" y2="178.2" stroke="#333" stroke-width="0.85"/>
<text x="156.4" y="187.0" text-anchor="middle" font-size="8.70" fill="#4d4d4d">2022-07</text>
<line x1="270.2" x2="270.2" y1="175.3" y2="178.2" stroke="#333" stroke-width="0.85"/>
<text x="270.2" y="187.0" text-anchor="middle" font-size="8.70" fill="#4d4d4d">2023-01</text>
<rect x="375.5" y="18.5" width="307.9" height="156.8" fill="#fff"/>
<line x1="375.5" x2="683.4" y1="151.0" y2="151.0" stroke="#ebebeb" stroke-width="0.5"/>
<line x1="375.5" x2="683.4" y1="115.0" y2="115.0" stroke="#ebebeb" stroke-width="0.5"/>
<line x1="375.5" x2="683.4" y1="79.2" y2="79.2" stroke="#ebebeb" stroke-width="0.5"/>
<line x1="375.5" x2="683.4" y1="43.2" y2="43.2" stroke="#ebebeb" stroke-width="0.5"/>
<line x1="445.0" x2="445.0" y1="18.5" y2="175.3" stroke="#ebebeb" stroke-width="0.5"/>
<line x1="557.8" x2="557.8" y1="18.5" y2="175.3" stroke="#ebebeb" stroke-width="0.5"/>
<line x1="670.7" x2="670.7" y1="18.5" y2="175.3" stroke="#ebebeb" stroke-width="0.5"/>
<line x1="375.5" x2="683.4" y1="168.9" y2="168.9" stroke="#ebebeb" stroke-width="1.0"/>
<line x1="375.5" x2="683.4" y1="133.0" y2="133.0" stroke="#ebebeb" stroke-width="1.0"/>
<line x1="375.5" x2="683.4" y1="97.1" y2="97.1" stroke="#ebebeb" stroke-width="1.0"/>
<line x1="375.5" x2="683.4" y1="61.3" y2="61.3" stroke="#ebebeb" stroke-width="1.0"/>
<line x1="375.5" x2="683.4" y1="25.2" y2="25.2" stroke="#ebebeb" stroke-width="1.0"/>
<line x1="389.0" x2="389.0" y1="18.5" y2="175.3" stroke="#ebebeb" stroke-width="1.0"/>
<line x1="500.9" x2="500.9" y1="18.5" y2="175.3" stroke="#ebebeb" stroke-width="1.0"/>
<line x1="614.7" x2="614.7" y1="18.5" y2="175.3" stroke="#ebebeb" stroke-width="1.0"/>
<g clip-path="url(#cp_b)">
<path d="M389.1 107.8L389.5 106.6L389.9 105.1L390.3 103.4L390.7 101.5L391.1 99.2L391.5 96.2L391.9 93.2L392.3 90.5L392.7 88.4L393.1 86.8L393.5 85.3L393.9 84.0L394.3 83.0L394.7 82.2L395.1 81.7L395.5 81.2L395.9 80.3L396.3 78.6L396.7 76.5L397.1 74.6L397.5 72.7L397.9 70.9L398.3 70.0L398.7 69.5L399.1 69.1L399.5 68.8L399.9 68.6L400.3 68.4L400.7 68.4L401.1 68.5L401.5 68.8L401.9 69.0L402.3 68.9L402.7 68.4L403.1 67.6L403.5 66.8L403.9 65.9L404.3 65.0L404.7 64.5L405.1 64.2L405.5 64.0L405.9 63.8L406.3 63.6L406.7 63.5L407.1 63.4L407.5 63.3L407.9 63.7L408.3 65.8L408.7 68.6L409.1 70.5L409.5 72.0L409.9 73.3L410.3 74.4L410.7 75.0L411.1 75.0L411.5 74.7L411.9 74.5L412.3 74.4L412.7 74.7L413.1 75.1L413.5 75.4L413.9 75.7L414.3 75.5L414.7 75.1L415.1 74.5L415.5 74.0L415.9 73.8L416.3 74.4L416.7 75.8L417.1 77.4L417.5 78.8L417.9 80.5L418.3 82.2L418.7 83.7L419.1 85.3L419.5 86.6L419.9 87.4L420.3 88.0L420.7 88.3L421.1 86.8L421.5 84.2L421.9 81.9L422.3 79.3L422.7 76.9L423.1 74.9L423.5 73.1L423.9 71.6L424.3 71.0L424.7 70.6L425.1 70.3L425.5 69.8L425.9 69.4L426.3 69.0L426.7 68.5L427.1 68.0L427.5 67.5L427.9 66.9L428.3 66.2L428.7 65.4L429.1 64.5L429.5 63.4L429.9 62.2L430.3 60.8L430.7 59.4L431.1 58.0L431.5 56.2L431.9 54.3L432.3 52.3L432.7 50.4L433.1 48.6L433.5 47.1L433.9 45.6L434.3 44.1L434.7 42.3L435.1 40.2L435.5 37.7L435.9 35.2L436.3 32.9L436.7 30.5L437.1 28.6L437.5 27.7L437.9 27.1L438.3 26.7L438.7 26.3L439.1 26.2L439.5 26.2L439.9 26.2L440.3 26.3L440.7 26.4L441.1 26.6L441.5 28.0L441.9 30.6L442.3 32.9L442.7 34.5L443.1 35.9L443.5 36.8L443.9 37.0L444.3 37.1L444.7 37.2L445.1 37.2L445.5 37.3L445.9 37.4L446.3 37.8L446.7 39.1L447.1 40.9L447.5 42.3L447.9 43.4L448.3 44.5L448.7 45.5L449.1 46.5L449.5 47.6L449.9 48.7L450.3 49.9L450.7 50.9L451.1 51.9L451.5 52.7L451.9 53.6L452.3 54.3L452.7 54.9L453.1 55.2L453.5 55.3L453.9 55.4L454.3 55.5L454.7 55.5L455.1 55.6L455.5 55.8L455.9 56.1L456.3 56.8L456.7 57.7L457.1 58.7L457.5 59.7L457.9 60.8L458.3 62.1L458.7 63.4L459.1 64.6L459.5 65.6L459.9 66.4L460.3 67.1L460.7 67.8L461.1 68.5L461.5 69.2L461.9 70.1L462.3 71.1L462.7 72.2L463.1 73.3L463.5 74.5L463.9 75.7L464.3 76.9L464.7 78.0L465.1 79.0L465.5 79.9L465.9 80.7L466.3 81.5L466.7 82.3L467.1 83.1L467.5 83.8L467.9 84.4L468.3 85.0L468.7 85.6L469.1 86.1L469.5 86.6L469.9 87.2L470.3 87.7L470.7 88.3L471.1 88.8L471.5 89.4L471.9 89.9L472.3 90.5L472.7 91.1L473.1 91.6L473.5 92.2L473.9 92.7L474.3 93.4L474.7 94.1L475.1 94.8L475.5 95.5L475.9 96.2L476.3 96.7L476.7 97.0L477.1 97.1L477.5 97.1L477.9 97.1L478.3 97.1L478.7 97.1L479.1 97.1L479.5 97.1L479.9 97.1L480.3 97.1L480.7 97.1L481.1 97.2L481.5 97.4L481.9 97.9L482.3 98.5L482.7 99.2L483.1 99.9L483.5 100.6L483.9 101.7L484.3 103.0L484.7 104.2L485.1 105.1L485.5 105.7L485.9 106.1L486.3 106.5L486.7 106.8L487.1 107.1L487.5 107.5L487.9 108.1L488.3 108.7L488.7 109.5L489.1 110.4L489.5 111.3L489.9 112.2L490.3 113.0L490.7 113.7L491.1 114.5L491.5 115.2L491.9 116.0L492.3 116.7L492.7 117.4L493.1 118.0L493.5 118.7L493.9 119.3L494.3 119.9L494.7 120.4L495.1 121.0L495.5 121.5L495.9 122.0L496.3 122.5L496.7 122.9L497.1 123.4L497.5 123.8L497.9 124.3L498.3 124.9L498.7 125.7L499.1 126.5L499.5 127.3L499.9 128.1L500.3 128.9L500.7 129.8L501.1 130.4L501.5 130.8L501.9 130.9L502.3 130.9L502.7 130.9L503.1 131.0L503.5 131.0L503.9 131.0L504.3 131.1L504.7 131.2L505.1 131.4L505.5 131.5L505.9 131.7L506.3 131.9L506.7 132.1L507.1 132.4L507.5 132.7L507.9 133.0L508.3 133.4L508.7 133.7L509.1 134.0L509.5 134.2L509.9 134.5L510.3 134.7L510.7 135.0L511.1 135.1L511.5 135.2L511.9 135.2L512.3 135.2L512.7 135.2L513.1 135.2L513.5 135.2L513.9 135.2L514.3 135.2L514.7 135.2L515.1 135.2L515.5 135.2L515.9 135.2L516.3 135.3L516.7 135.3L517.1 135.3L517.5 135.4L517.9 135.4L518.3 135.5L518.7 135.5L519.1 135.6L519.5 135.6L519.9 135.7L520.3 135.7L520.7 135.8L521.1 135.8L521.5 135.9L521.9 135.9L522.3 136.0L522.7 136.1L523.1 136.1L523.5 136.2L523.9 136.4L524.3 136.5L524.7 136.6L525.1 136.8L525.5 136.9L525.9 137.0L526.3 137.1L526.7 137.1L527.1 137.0L527.5 136.6L527.9 136.1L528.3 135.6L528.7 135.2L529.1 134.7L529.5 134.2L529.9 133.7L530.3 133.6L530.7 133.8L531.1 134.3L531.5 134.8L531.9 135.4L532.3 135.8L532.7 136.4L533.1 136.9L533.5 137.4L533.9 137.9L534.3 138.4L534.7 138.8L535.1 139.3L535.5 139.7L535.9 140.1L536.3 140.5L536.7 140.8L537.1 141.1L537.5 141.3L537.9 141.5L538.3 141.7L538.7 141.9L539.1 142.0L539.5 142.2L539.9 142.4L540.3 142.6L540.7 142.7L541.1 142.9L541.5 143.1L541.9 143.2L542.3 143.4L542.7 143.5L543.1 143.7L543.5 143.8L543.9 143.9L544.3 143.9L544.7 144.0L545.1 144.1L545.5 144.1L545.9 144.2L546.3 144.4L546.7 144.6L547.1 145.0L547.5 145.9L547.9 145.9L548.3 145.8L548.7 145.7L549.1 145.5L549.5 145.4L549.9 145.3L550.3 145.3L550.7 145.4L551.1 145.6L551.5 145.7L551.9 145.9L552.3 146.1L552.7 146.2L553.1 146.4L553.5 146.5L553.9 146.6L554.3 146.5L554.7 146.2L555.1 145.9L555.5 145.7L555.9 145.4L556.3 145.3L556.7 145.6L557.1 146.5L557.5 147.7L557.9 148.7L558.3 149.1L558.7 149.1L559.1 149.0L559.5 148.9L559.9 148.8L560.3 148.6L560.7 148.5L561.1 148.3L561.5 148.1L561.9 147.8L562.3 147.4L562.7 147.1L563.1 146.7L563.5 146.4L563.9 146.0L564.3 145.6L564.7 145.2L565.1 144.8L565.5 144.4L565.9 144.0L566.3 143.5L566.7 142.9L567.1 142.5L567.5 142.2L567.9 142.2L568.3 142.3L568.7 142.5L569.1 142.7L569.5 142.8L569.9 142.6L570.3 142.1L570.7 141.2L571.1 140.2L571.5 139.0L571.9 137.2L572.3 134.7L572.7 132.3L573.1 130.2L573.5 128.1L573.9 126.2L574.3 124.7L574.7 123.3L575.1 122.3L575.5 121.7L575.9 121.2L576.3 120.9L576.7 120.6L577.1 120.3L577.5 120.0L577.9 119.7L578.3 119.3L578.7 118.7L579.1 118.0L579.5 117.2L579.9 116.4L580.3 115.5L580.7 114.6L581.1 113.7L581.5 112.7L581.9 111.7L582.3 110.7L582.7 109.7L583.1 108.9L583.5 108.4L583.9 107.9L584.3 107.5L584.7 107.3L585.1 107.2L585.5 107.3L585.9 107.6L586.3 107.8L586.7 107.1L587.1 105.4L587.5 104.1L587.9 104.3L588.3 105.4L588.7 106.7L589.1 107.7L589.5 108.8L589.9 109.8L590.3 110.8L590.7 111.6L591.1 112.4L591.5 113.2L591.9 114.0L592.3 114.8L592.7 115.5L593.1 116.3L593.5 117.1L593.9 117.9L594.3 118.8L594.7 119.9L595.1 121.1L595.5 122.3L595.9 123.5L596.3 124.8L596.7 125.8L597.1 126.8L597.5 127.7L597.9 128.5L598.3 129.3L598.7 129.8L599.1 130.2L599.5 130.3L599.9 130.3L600.3 130.4L600.7 130.4L601.1 130.4L601.5 130.5L601.9 130.6L602.3 130.9L602.7 131.4L603.1 131.9L603.5 132.5L603.9 133.0L604.3 133.4L604.7 133.7L605.1 134.0L605.5 134.3L605.9 134.6L606.3 134.9L606.7 135.2L607.1 135.5L607.5 135.8L607.9 136.1L608.3 136.4L608.7 136.7L609.1 137.0L609.5 137.3L609.9 137.8L610.3 138.2L610.7 138.4L611.1 137.8L611.5 135.9L611.9 134.1L612.3 132.2L612.7 130.4L613.1 129.5L613.5 129.3L613.9 129.2L614.3 129.2L614.7 129.0L615.1 128.8L615.5 128.4L615.9 127.7L616.3 126.7L616.7 124.3L617.1 121.9L617.5 120.4L617.9 119.0L618.3 117.8L618.7 116.7L619.1 115.5L619.5 114.5L619.9 113.5L620.3 112.5L620.7 111.2L621.1 109.8L621.5 109.2L621.9 108.6L622.3 108.2L622.7 107.8L623.1 107.6L623.5 107.4L623.9 107.2L624.3 107.1L624.7 107.0L625.1 107.0L625.5 106.9L625.9 106.8L626.3 106.6L626.7 106.4L627.1 106.2L627.5 105.9L627.9 105.6L628.3 105.4L628.7 105.2L629.1 105.1L629.5 105.1L629.9 105.1L630.3 105.1L630.7 105.2L631.1 105.2L631.5 105.3L631.9 105.3L632.3 105.4L632.7 105.5L633.1 105.7L633.5 106.0L633.9 106.3L634.3 106.7L634.7 107.5L635.1 108.7L635.5 109.9L635.9 110.9L636.3 111.1L636.7 110.9L637.1 110.6L637.5 110.3L637.9 110.1L638.3 110.1L638.7 110.2L639.1 110.2L639.5 110.3L639.9 110.5L640.3 110.7L640.7 111.2L641.1 111.8L641.5 112.2L641.9 112.4L642.3 112.2L642.7 111.8L643.1 111.5L643.5 111.2L643.9 111.2L644.3 111.6L644.7 112.3L645.1 113.0L645.5 113.5L645.9 113.8L646.3 114.0L646.7 114.1L647.1 114.2L647.5 114.3L647.9 114.1L648.3 113.6L648.7 113.0L649.1 112.6L649.5 112.4L649.9 112.3L650.3 112.2L650.7 112.2L651.1 112.1L651.5 112.2L651.9 112.4L652.3 112.7L652.7 113.1L653.1 113.4L653.5 113.4L653.9 113.5L654.3 113.6L654.7 113.6L655.1 113.6L655.5 113.4L655.9 112.9L656.3 112.3L656.7 111.9L657.1 111.7L657.5 111.8L657.9 111.9L658.3 112.0L658.7 112.1L659.1 112.3L659.5 112.4L659.9 112.5L660.3 112.6L660.7 112.7L661.1 112.8L661.5 112.9L661.9 113.0L662.3 113.1L662.7 113.2L663.1 113.3L663.5 113.5L663.9 113.6L664.3 113.6L664.7 113.6L665.1 113.6L665.5 113.4L665.9 113.3L666.3 113.1L666.7 113.0L667.1 113.0L667.5 113.1L667.9 113.2L668.3 113.5L668.7 113.8L669.1 114.1L669.5 114.6L669.5 114.6L669.5 144.9L669.5 144.7L669.1 144.0L668.7 143.3L668.3 142.6L667.9 141.7L667.5 140.8L667.1 139.9L666.7 139.1L666.3 138.7L665.9 138.5L665.5 138.2L665.1 138.1L664.7 137.9L664.3 137.8L663.9 137.6L663.5 137.3L663.1 137.1L662.7 136.9L662.3 136.6L661.9 136.4L661.5 136.1L661.1 135.9L660.7 135.6L660.3 135.3L659.9 135.0L659.5 134.7L659.1 134.5L658.7 134.4L658.3 134.2L657.9 134.1L657.5 134.0L657.1 133.9L656.7 133.8L656.3 133.8L655.9 134.1L655.5 134.7L655.1 135.4L654.7 136.0L654.3 136.0L653.9 135.8L653.5 135.4L653.1 134.9L652.7 134.5L652.3 134.2L651.9 134.0L651.5 133.8L651.1 133.6L650.7 133.5L650.3 133.6L649.9 133.9L649.5 134.3L649.1 134.7L648.7 135.1L648.3 135.7L647.9 136.4L647.5 136.9L647.1 136.9L646.7 136.6L646.3 136.1L645.9 135.6L645.5 135.1L645.1 134.8L644.7 134.4L644.3 134.0L643.9 133.8L643.5 133.8L643.1 134.1L642.7 134.5L642.3 134.9L641.9 135.0L641.5 134.9L641.1 134.6L640.7 134.2L640.3 133.9L639.9 133.8L639.5 133.8L639.1 134.0L638.7 134.1L638.3 134.3L637.9 134.5L637.5 135.0L637.1 135.6L636.7 136.0L636.3 136.0L635.9 135.5L635.5 134.7L635.1 134.0L634.7 133.6L634.3 133.2L633.9 132.9L633.5 132.6L633.1 132.5L632.7 132.5L632.3 132.5L631.9 132.6L631.5 132.6L631.1 132.6L630.7 132.7L630.3 132.7L629.9 132.8L629.5 132.8L629.1 132.9L628.7 133.1L628.3 133.2L627.9 133.3L627.5 133.5L627.1 133.6L626.7 133.8L626.3 134.0L625.9 134.2L625.5 134.3L625.1 134.6L624.7 134.8L624.3 135.0L623.9 135.2L623.5 135.5L623.1 135.8L622.7 136.0L622.3 136.3L621.9 136.6L621.5 137.0L621.1 137.3L620.7 137.7L620.3 138.1L619.9 138.5L619.5 138.9L619.1 139.3L618.7 139.8L618.3 140.5L617.9 141.3L617.5 142.6L617.1 144.4L616.7 146.5L616.3 149.3L615.9 153.3L615.5 158.4L615.1 166.2L614.7 166.1L614.3 161.6L613.9 159.2L613.5 157.9L613.1 157.3L612.7 157.5L612.3 158.3L611.9 159.4L611.5 162.0L611.1 166.3L610.7 167.8L610.3 164.6L609.9 161.0L609.5 159.2L609.1 157.8L608.7 156.8L608.3 155.9L607.9 155.2L607.5 154.6L607.1 154.0L606.7 153.4L606.3 152.7L605.9 152.0L605.5 151.3L605.1 150.6L604.7 150.1L604.3 149.6L603.9 149.2L603.5 148.8L603.1 148.5L602.7 148.3L602.3 148.1L601.9 148.0L601.5 147.9L601.1 147.8L600.7 149.1L600.3 151.1L599.9 151.3L599.5 149.5L599.1 147.6L598.7 146.9L598.3 146.6L597.9 146.4L597.5 146.1L597.1 145.7L596.7 145.1L596.3 144.3L595.9 143.6L595.5 142.9L595.1 142.3L594.7 141.8L594.3 141.3L593.9 140.7L593.5 140.2L593.1 139.7L592.7 139.1L592.3 138.5L591.9 138.0L591.5 137.6L591.1 137.3L590.7 137.1L590.3 136.9L589.9 136.6L589.5 136.2L589.1 135.5L588.7 134.8L588.3 134.2L587.9 134.0L587.5 134.1L587.1 134.6L586.7 135.2L586.3 135.7L585.9 135.8L585.5 135.4L585.1 134.9L584.7 134.6L584.3 134.8L583.9 135.1L583.5 135.7L583.1 136.2L582.7 136.6L582.3 137.0L581.9 137.4L581.5 137.8L581.1 138.2L580.7 138.7L580.3 139.2L579.9 139.7L579.5 140.3L579.1 140.8L578.7 141.4L578.3 142.0L577.9 142.5L577.5 143.1L577.1 143.5L576.7 143.8L576.3 144.0L575.9 144.2L575.5 144.5L575.1 144.8L574.7 145.2L574.3 145.7L573.9 146.2L573.5 146.9L573.1 148.1L572.7 150.0L572.3 152.4L571.9 155.5L571.5 158.5L571.1 158.8L570.7 159.0L570.3 159.1L569.9 159.1L569.5 159.1L569.1 158.9L568.7 158.6L568.3 158.2L567.9 157.9L567.5 158.0L567.1 158.4L566.7 159.0L566.3 159.7L565.9 160.3L565.5 160.8L565.1 161.2L564.7 161.6L564.3 162.0L563.9 162.4L563.5 162.7L563.1 163.1L562.7 163.6L562.3 164.0L561.9 164.4L561.5 164.8L561.1 165.2L560.7 165.5L560.3 165.9L559.9 166.2L559.5 166.5L559.1 166.7L558.7 166.6L558.3 165.8L557.9 164.7L557.5 163.6L557.1 163.0L556.7 163.0L556.3 163.1L555.9 163.2L555.5 163.5L555.1 164.2L554.7 166.1L554.3 167.7L553.9 167.8L553.5 166.8L553.1 165.5L552.7 164.4L552.3 163.1L551.9 161.9L551.5 161.1L551.1 161.1L550.7 161.6L550.3 162.2L549.9 162.9L549.5 163.5L549.1 164.0L548.7 164.2L548.3 164.0L547.9 163.7L547.5 163.2L547.1 162.6L546.7 162.1L546.3 161.6L545.9 161.2L545.5 161.0L545.1 160.8L544.7 160.6L544.3 160.5L543.9 160.4L543.5 160.3L543.1 160.1L542.7 160.0L542.3 159.9L541.9 159.8L541.5 159.7L541.1 159.5L540.7 159.4L540.3 159.3L539.9 159.2L539.5 159.1L539.1 158.9L538.7 158.8L538.3 158.6L537.9 158.4L537.5 158.2L537.1 157.9L536.7 157.6L536.3 157.3L535.9 156.9L535.5 156.6L535.1 156.1L534.7 155.6L534.3 155.0L533.9 154.5L533.5 154.0L533.1 153.5L532.7 153.1L532.3 152.7L531.9 152.3L531.5 152.0L531.1 151.7L530.7 151.6L530.3 151.6L529.9 151.8L529.5 152.2L529.1 152.5L528.7 152.9L528.3 153.1L527.9 153.3L527.5 153.3L527.1 153.4L526.7 153.4L526.3 153.5L525.9 153.5L525.5 153.5L525.1 153.5L524.7 153.4L524.3 153.4L523.9 153.3L523.5 153.2L523.1 153.2L522.7 153.1L522.3 153.0L521.9 152.9L521.5 152.8L521.1 152.7L520.7 152.6L520.3 152.5L519.9 152.3L519.5 152.2L519.1 152.1L518.7 152.0L518.3 152.0L517.9 152.0L517.5 152.0L517.1 152.0L516.7 152.0L516.3 152.0L515.9 152.1L515.5 152.1L515.1 152.1L514.7 152.2L514.3 152.2L513.9 152.3L513.5 152.4L513.1 152.6L512.7 152.8L512.3 153.1L511.9 153.3L511.5 153.4L511.1 153.5L510.7 153.4L510.3 153.3L509.9 153.1L509.5 152.8L509.1 152.5L508.7 152.2L508.3 152.1L507.9 152.0L507.5 152.0L507.1 152.0L506.7 152.0L506.3 152.0L505.9 152.0L505.5 152.1L505.1 152.1L504.7 152.2L504.3 152.2L503.9 152.3L503.5 152.5L503.1 152.9L502.7 153.4L502.3 153.7L501.9 154.0L501.5 154.1L501.1 153.9L500.7 153.4L500.3 152.7L499.9 152.0L499.5 151.2L499.1 149.9L498.7 148.5L498.3 147.4L497.9 147.2L497.5 147.4L497.1 147.6L496.7 147.8L496.3 147.7L495.9 147.0L495.5 145.9L495.1 144.6L494.7 143.5L494.3 142.7L493.9 141.9L493.5 141.1L493.1 140.3L492.7 139.5L492.3 138.7L491.9 137.9L491.5 137.1L491.1 136.3L490.7 135.5L490.3 134.7L489.9 133.9L489.5 133.1L489.1 132.3L488.7 131.3L488.3 130.4L487.9 129.7L487.5 129.1L487.1 128.9L486.7 129.1L486.3 129.4L485.9 129.8L485.5 130.1L485.1 130.2L484.7 129.6L484.3 128.5L483.9 127.2L483.5 125.9L483.1 124.9L482.7 124.5L482.3 124.6L481.9 124.7L481.5 124.8L481.1 125.0L480.7 125.2L480.3 125.5L479.9 126.0L479.5 126.4L479.1 126.9L478.7 127.2L478.3 127.6L477.9 127.9L477.5 128.2L477.1 128.3L476.7 128.2L476.3 127.7L475.9 127.1L475.5 126.4L475.1 125.7L474.7 125.1L474.3 124.3L473.9 123.5L473.5 122.8L473.1 122.3L472.7 122.0L472.3 122.0L471.9 122.0L471.5 122.0L471.1 122.0L470.7 122.0L470.3 121.8L469.9 121.2L469.5 120.5L469.1 119.9L468.7 119.3L468.3 118.6L467.9 117.9L467.5 117.2L467.1 116.3L466.7 115.4L466.3 114.4L465.9 113.4L465.5 112.4L465.1 111.4L464.7 110.3L464.3 109.2L463.9 108.1L463.5 107.1L463.1 106.1L462.7 105.2L462.3 104.3L461.9 103.4L461.5 102.7L461.1 102.0L460.7 101.4L460.3 100.8L459.9 100.1L459.5 99.3L459.1 98.5L458.7 97.7L458.3 96.9L457.9 96.0L457.5 95.0L457.1 93.9L456.7 93.0L456.3 92.2L455.9 91.6L455.5 91.2L455.1 90.8L454.7 90.5L454.3 90.1L453.9 89.9L453.5 89.6L453.1 89.4L452.7 89.1L452.3 88.8L451.9 88.3L451.5 87.7L451.1 87.1L450.7 86.4L450.3 85.7L449.9 85.1L449.5 84.5L449.1 84.0L448.7 83.4L448.3 82.9L447.9 82.5L447.5 82.0L447.1 81.6L446.7 81.3L446.3 81.1L445.9 81.1L445.5 81.3L445.1 81.6L444.7 82.0L444.3 82.5L443.9 83.2L443.5 84.4L443.1 85.7L442.7 86.9L442.3 87.7L441.9 88.2L441.5 88.6L441.1 88.9L440.7 89.2L440.3 89.6L439.9 90.1L439.5 90.6L439.1 91.3L438.7 92.1L438.3 93.0L437.9 94.0L437.5 95.3L437.1 96.8L436.7 98.9L436.3 102.9L435.9 106.1L435.5 107.8L435.1 109.2L434.7 110.7L434.3 112.3L433.9 113.9L433.5 115.5L433.1 117.0L432.7 118.5L432.3 119.7L431.9 120.5L431.5 121.2L431.1 121.8L430.7 122.7L430.3 123.7L429.9 124.7L429.5 125.7L429.1 126.4L428.7 127.1L428.3 127.6L427.9 128.1L427.5 128.6L427.1 129.0L426.7 129.5L426.3 129.9L425.9 130.2L425.5 130.6L425.1 131.0L424.7 131.3L424.3 131.8L423.9 132.3L423.5 132.9L423.1 133.7L422.7 135.7L422.3 143.9L421.9 152.5L421.5 156.4L421.1 159.3L420.7 160.9L420.3 160.7L419.9 159.2L419.5 157.1L419.1 154.9L418.7 152.4L418.3 149.4L417.9 145.7L417.5 140.2L417.1 136.9L416.7 135.7L416.3 134.9L415.9 134.6L415.5 136.6L415.1 140.3L414.7 142.7L414.3 142.4L413.9 141.6L413.5 140.9L413.1 141.2L412.7 142.2L412.3 143.6L411.9 144.8L411.5 145.3L411.1 144.8L410.7 143.6L410.3 141.8L409.9 139.8L409.5 137.8L409.1 134.9L408.7 132.0L408.3 130.8L407.9 130.6L407.5 130.5L407.1 130.3L406.7 130.3L406.3 130.2L405.9 130.2L405.5 130.2L405.1 130.3L404.7 130.6L404.3 131.0L403.9 131.6L403.5 139.3L403.1 141.2L402.7 139.4L402.3 137.6L401.9 137.1L401.5 137.4L401.1 137.6L400.7 137.7L400.3 136.7L399.9 135.3L399.5 134.6L399.1 135.3L398.7 137.1L398.3 139.3L397.9 141.5L397.5 143.4L397.1 145.6L396.7 147.6L396.3 148.9L395.9 148.5L395.5 146.1L395.1 144.7L394.7 145.2L394.3 146.4L393.9 148.0L393.5 149.5L393.1 150.7L392.7 151.6L392.3 152.5L391.9 153.3L391.5 154.3L391.1 155.5L390.7 156.7L390.3 158.1L389.9 159.6L389.5 161.2L389.1 162.9Z" fill="#91de3c" fill-opacity="0.40" stroke="none"/>
<path d="M389.2 137.7L389.6 135.8L390.0 134.0L390.4 132.2L390.8 130.4L391.2 128.7L391.6 127.1L392.0 125.7L392.4 124.5L392.8 123.4L393.2 122.1L393.6 119.8L394.0 116.7L394.4 114.8L394.8 115.2L395.2 116.6L395.6 117.7L396.0 117.5L396.4 115.9L396.8 113.8L397.2 112.0L397.6 110.4L398.0 108.8L398.4 107.3L398.8 105.4L399.2 103.9L399.6 103.4L400.0 104.2L400.4 105.3L400.8 105.9L401.2 105.4L401.6 104.5L402.0 104.0L402.4 105.0L402.8 107.3L403.2 108.9L403.6 107.9L404.0 104.1L404.4 100.8L404.8 100.0L405.2 99.8L405.6 99.7L406.0 99.5L406.4 99.4L406.8 99.2L407.2 98.8L407.6 97.9L408.0 97.1L408.4 98.0L408.8 100.5L409.2 102.7L409.6 104.8L410.0 106.8L410.4 108.4L410.8 110.0L411.2 111.2L411.6 111.5L412.0 111.2L412.4 110.5L412.8 109.8L413.2 109.2L413.6 108.9L414.0 108.8L414.4 108.7L414.8 108.6L415.2 108.5L415.6 107.8L416.0 106.4L416.4 105.4L416.8 105.8L417.2 108.1L417.6 110.7L418.0 114.1L418.4 117.1L418.8 118.9L419.2 120.3L419.6 121.0L420.0 121.0L420.4 120.8L420.8 120.5L421.2 119.7L421.6 117.2L422.0 114.2L422.4 111.4L422.8 108.2L423.2 105.3L423.6 103.5L424.0 102.3L424.4 101.3L424.8 100.8L425.2 100.4L425.6 100.2L426.0 100.0L426.4 99.8L426.8 99.4L427.2 98.9L427.6 98.4L428.0 97.8L428.4 97.2L428.8 96.6L429.2 96.1L429.6 95.5L430.0 94.8L430.4 93.9L430.8 92.2L431.2 90.0L431.6 87.8L432.0 86.1L432.4 84.5L432.8 83.0L433.2 81.6L433.6 80.4L434.0 79.3L434.4 78.1L434.8 76.9L435.2 75.7L435.6 74.5L436.0 72.8L436.4 68.8L436.8 65.1L437.2 62.5L437.6 61.5L438.0 60.8L438.4 60.4L438.8 60.0L439.2 59.6L439.6 59.1L440.0 58.5L440.4 58.1L440.8 57.7L441.2 57.7L441.6 58.7L442.0 60.2L442.4 61.6L442.8 62.1L443.2 61.9L443.6 61.5L444.0 61.0L444.4 60.7L444.8 60.3L445.2 60.0L445.6 59.7L446.0 59.6L446.4 59.7L446.8 60.2L447.2 60.9L447.6 61.8L448.0 62.7L448.4 63.5L448.8 64.3L449.2 65.2L449.6 66.2L450.0 67.4L450.4 69.3L450.8 70.7L451.2 71.3L451.6 71.8L452.0 72.2L452.4 72.5L452.8 72.8L453.2 73.1L453.6 73.3L454.0 73.6L454.4 73.8L454.8 74.1L455.2 74.3L455.6 74.5L456.0 74.8L456.4 75.3L456.8 76.2L457.2 77.4L457.6 78.7L458.0 79.8L458.4 80.9L458.8 81.9L459.2 82.9L459.6 83.8L460.0 84.5L460.4 85.1L460.8 85.6L461.2 86.1L461.6 86.6L462.0 87.2L462.4 87.9L462.8 88.7L463.2 89.6L463.6 90.4L464.0 91.3L464.4 92.3L464.8 93.3L465.2 94.3L465.6 95.3L466.0 96.3L466.4 97.2L466.8 98.1L467.2 98.9L467.6 99.6L468.0 100.3L468.4 101.0L468.8 101.7L469.2 102.3L469.6 103.0L470.0 103.6L470.4 104.2L470.8 104.8L471.2 105.3L471.6 105.9L472.0 106.6L472.4 107.3L472.8 108.0L473.2 108.7L473.6 109.5L474.0 110.2L474.4 110.8L474.8 111.4L475.2 112.1L475.6 112.7L476.0 113.3L476.4 113.8L476.8 114.0L477.2 114.1L477.6 113.9L478.0 113.6L478.4 113.2L478.8 112.9L479.2 112.6L479.6 112.1L480.0 111.7L480.4 111.4L480.8 111.3L481.2 111.4L481.6 111.7L482.0 112.0L482.4 112.5L482.8 113.0L483.2 113.9L483.6 115.1L484.0 116.3L484.4 117.1L484.8 117.3L485.2 117.5L485.6 117.6L486.0 117.7L486.4 117.8L486.8 118.1L487.2 118.6L487.6 119.3L488.0 119.9L488.4 120.5L488.8 120.9L489.2 121.4L489.6 122.0L490.0 122.7L490.4 123.6L490.8 124.5L491.2 125.5L491.6 126.5L492.0 127.4L492.4 128.3L492.8 129.1L493.2 129.9L493.6 130.7L494.0 131.5L494.4 132.3L494.8 133.0L495.2 133.9L495.6 134.7L496.0 135.4L496.4 135.8L496.8 135.8L497.2 135.6L497.6 135.4L498.0 135.2L498.4 135.9L498.8 137.6L499.2 139.3L499.6 140.4L500.0 141.3L500.4 142.1L500.8 142.7L501.2 142.9L501.6 143.1L502.0 143.3L502.4 143.4L502.8 143.4L503.2 143.3L503.6 143.0L504.0 142.6L504.4 142.2L504.8 142.2L505.2 142.3L505.6 142.6L506.0 142.9L506.4 143.1L506.8 143.2L507.2 143.2L507.6 143.3L508.0 143.3L508.4 143.4L508.8 143.6L509.2 144.1L509.6 144.6L510.0 145.1L510.4 145.3L510.8 145.2L511.2 145.0L511.6 144.7L512.0 144.5L512.4 144.4L512.8 144.3L513.2 144.2L513.6 144.2L514.0 144.1L514.4 144.1L514.8 144.0L515.2 144.0L515.6 143.9L516.0 143.8L516.4 143.7L516.8 143.7L517.2 143.7L517.6 143.7L518.0 143.8L518.4 144.0L518.8 144.2L519.2 144.5L519.6 144.6L520.0 144.7L520.4 144.7L520.8 144.8L521.2 144.8L521.6 144.8L522.0 144.9L522.4 144.9L522.8 145.0L523.2 145.0L523.6 145.1L524.0 145.2L524.4 145.2L524.8 145.3L525.2 145.3L525.6 145.4L526.0 145.4L526.4 145.5L526.8 145.5L527.2 145.5L527.6 145.5L528.0 145.3L528.4 144.9L528.8 144.5L529.2 144.1L529.6 143.8L530.0 143.4L530.4 143.2L530.8 143.2L531.2 143.5L531.6 143.8L532.0 144.2L532.4 144.6L532.8 145.0L533.2 145.4L533.6 145.8L534.0 146.2L534.4 146.7L534.8 147.2L535.2 147.7L535.6 148.2L536.0 148.6L536.4 148.7L536.8 148.8L537.2 148.9L537.6 148.9L538.0 149.0L538.4 149.0L538.8 149.1L539.2 149.3L539.6 149.5L540.0 149.8L540.4 150.2L540.8 150.5L541.2 150.7L541.6 150.9L542.0 151.0L542.4 151.1L542.8 151.3L543.2 151.4L543.6 151.5L544.0 151.7L544.4 151.9L544.8 152.0L545.2 152.2L545.6 152.4L546.0 152.7L546.4 153.0L546.8 153.4L547.2 154.0L547.6 154.6L548.0 155.2L548.4 155.6L548.8 155.8L549.2 155.4L549.6 154.7L550.0 153.8L550.4 153.1L550.8 152.9L551.2 153.0L551.6 153.2L552.0 153.5L552.4 154.3L552.8 155.5L553.2 156.6L553.6 157.4L554.0 158.1L554.4 158.5L554.8 157.9L555.2 156.2L555.6 154.7L556.0 154.4L556.4 154.2L556.8 154.1L557.2 154.2L557.6 154.8L558.0 155.6L558.4 156.2L558.8 156.8L559.2 157.4L559.6 158.0L560.0 158.2L560.4 158.2L560.8 158.0L561.2 157.5L561.6 157.1L562.0 156.7L562.4 156.3L562.8 156.0L563.2 155.6L563.6 155.3L564.0 154.9L564.4 154.6L564.8 154.4L565.2 154.1L565.6 153.7L566.0 153.3L566.4 152.5L566.8 151.6L567.2 150.8L567.6 150.4L568.0 150.3L568.4 150.3L568.8 150.3L569.2 150.3L569.6 150.3L570.0 150.2L570.4 149.8L570.8 149.2L571.2 148.4L571.6 147.5L572.0 145.5L572.4 142.9L572.8 140.7L573.2 138.9L573.6 137.2L574.0 135.9L574.4 135.0L574.8 134.3L575.2 133.7L575.6 133.3L576.0 133.1L576.4 133.0L576.8 132.9L577.2 132.8L577.6 132.8L578.0 132.5L578.4 131.9L578.8 130.9L579.2 129.9L579.6 129.1L580.0 128.4L580.4 127.9L580.8 127.4L581.2 126.9L581.6 126.4L582.0 125.7L582.4 125.1L582.8 124.4L583.2 123.7L583.6 123.0L584.0 122.3L584.4 121.7L584.8 121.0L585.2 120.5L585.6 120.1L586.0 119.8L586.4 119.4L586.8 119.2L587.2 119.1L587.6 119.3L588.0 119.7L588.4 120.2L588.8 121.0L589.2 122.2L589.6 123.5L590.0 124.5L590.4 125.4L590.8 126.1L591.2 126.6L591.6 126.9L592.0 127.2L592.4 127.4L592.8 127.7L593.2 128.0L593.6 128.4L594.0 129.0L594.4 129.8L594.8 130.7L595.2 131.6L595.6 132.5L596.0 133.4L596.4 134.4L596.8 135.3L597.2 136.2L597.6 137.1L598.0 138.1L598.4 139.0L598.8 139.7L599.2 140.3L599.6 140.7L600.0 141.0L600.4 141.1L600.8 140.9L601.2 140.4L601.6 139.9L602.0 139.6L602.4 139.9L602.8 140.4L603.2 141.0L603.6 141.5L604.0 141.9L604.4 142.3L604.8 142.7L605.2 143.1L605.6 143.5L606.0 143.9L606.4 144.2L606.8 144.6L607.2 145.1L607.6 145.6L608.0 146.2L608.4 147.0L608.8 147.9L609.2 149.0L609.6 150.9L610.0 152.8L610.4 154.0L610.8 153.7L611.2 152.0L611.6 149.9L612.0 148.2L612.4 146.4L612.8 145.0L613.2 144.6L613.6 144.5L614.0 144.4L614.4 144.4L614.8 145.1L615.2 145.9L615.6 144.9L616.0 141.3L616.4 138.1L616.8 135.1L617.2 132.8L617.6 131.0L618.0 129.8L618.4 129.0L618.8 128.4L619.2 128.0L619.6 127.6L620.0 127.0L620.4 126.3L620.8 125.4L621.2 124.5L621.6 123.8L622.0 123.4L622.4 123.0L622.8 122.7L623.2 122.4L623.6 122.2L624.0 121.9L624.4 121.7L624.8 121.6L625.2 121.4L625.6 121.3L626.0 121.2L626.4 121.1L626.8 120.9L627.2 120.7L627.6 120.5L628.0 120.3L628.4 120.0L628.8 119.8L629.2 119.7L629.6 119.6L630.0 119.5L630.4 119.4L630.8 119.4L631.2 119.3L631.6 119.3L632.0 119.3L632.4 119.3L632.8 119.3L633.2 119.3L633.6 119.3L634.0 119.4L634.4 119.9L634.8 120.5L635.2 121.2L635.6 121.9L636.0 122.7L636.4 123.5L636.8 124.0L637.2 123.8L637.6 123.3L638.0 122.8L638.4 122.3L638.8 122.2L639.2 122.2L639.6 122.3L640.0 122.3L640.4 122.4L640.8 122.5L641.2 122.9L641.6 123.3L642.0 123.7L642.4 123.9L642.8 123.8L643.2 123.4L643.6 122.8L644.0 122.5L644.4 122.5L644.8 122.9L645.2 123.4L645.6 123.9L646.0 124.4L646.4 125.0L646.8 125.5L647.2 125.9L647.6 126.0L648.0 125.7L648.4 125.2L648.8 124.7L649.2 124.1L649.6 123.8L650.0 123.6L650.4 123.3L650.8 123.2L651.2 123.1L651.6 123.1L652.0 123.4L652.4 123.7L652.8 124.0L653.2 124.3L653.6 124.6L654.0 125.0L654.4 125.3L654.8 125.5L655.2 125.6L655.6 125.1L656.0 124.4L656.4 123.6L656.8 123.1L657.2 123.1L657.6 123.2L658.0 123.3L658.4 123.5L658.8 123.7L659.2 123.9L659.6 124.1L660.0 124.3L660.4 124.5L660.8 124.7L661.2 124.9L661.6 125.1L662.0 125.3L662.4 125.5L662.8 125.7L663.2 125.9L663.6 126.2L664.0 126.4L664.4 126.5L664.8 126.5L665.2 126.4L665.6 126.3L666.0 126.3L666.4 126.2L666.8 126.4L667.2 126.9L667.6 127.5L668.0 128.1L668.4 128.6L668.8 129.0L669.2 129.4L669.5 129.8" fill="none" stroke="#3a5a18" stroke-width="1.1" stroke-opacity="1" stroke-linejoin="round"/>
</g>
<rect x="375.5" y="18.5" width="307.9" height="156.8" fill="none" stroke="#333" stroke-width="0.65"/>
<rect x="375.5" y="1.5" width="307.9" height="17.0" fill="#fff" stroke="#333" stroke-width="0.65"/>
<text x="529.5" y="13.3" text-anchor="middle" font-size="8.75" fill="#1a1a1a">(b) Relative case ascertainment rate</text>
<line x1="372.6" x2="375.5" y1="168.9" y2="168.9" stroke="#333" stroke-width="0.85"/>
<text x="369.9" y="171.9" text-anchor="end" font-size="8.70" fill="#4d4d4d">0.25</text>
<line x1="372.6" x2="375.5" y1="133.0" y2="133.0" stroke="#333" stroke-width="0.85"/>
<text x="369.9" y="136.0" text-anchor="end" font-size="8.70" fill="#4d4d4d">0.50</text>
<line x1="372.6" x2="375.5" y1="97.1" y2="97.1" stroke="#333" stroke-width="0.85"/>
<text x="369.9" y="100.1" text-anchor="end" font-size="8.70" fill="#4d4d4d">0.75</text>
<line x1="372.6" x2="375.5" y1="61.3" y2="61.3" stroke="#333" stroke-width="0.85"/>
<text x="369.9" y="64.3" text-anchor="end" font-size="8.70" fill="#4d4d4d">1.00</text>
<line x1="372.6" x2="375.5" y1="25.2" y2="25.2" stroke="#333" stroke-width="0.85"/>
<text x="369.9" y="28.2" text-anchor="end" font-size="8.70" fill="#4d4d4d">1.25</text>
<line x1="389.0" x2="389.0" y1="175.3" y2="178.2" stroke="#333" stroke-width="0.85"/>
<text x="389.0" y="187.0" text-anchor="middle" font-size="8.70" fill="#4d4d4d">2022-01</text>
<line x1="500.9" x2="500.9" y1="175.3" y2="178.2" stroke="#333" stroke-width="0.85"/>
<text x="500.9" y="187.0" text-anchor="middle" font-size="8.70" fill="#4d4d4d">2022-07</text>
<line x1="614.7" x2="614.7" y1="175.3" y2="178.2" stroke="#333" stroke-width="0.85"/>
<text x="614.7" y="187.0" text-anchor="middle" font-size="8.70" fill="#4d4d4d">2023-01</text>
<rect x="31.0" y="230.4" width="308.5" height="156.8" fill="#fff"/>
<line x1="31.0" x2="339.5" y1="360.9" y2="360.9" stroke="#ebebeb" stroke-width="0.5"/>
<line x1="31.0" x2="339.5" y1="321.9" y2="321.9" stroke="#ebebeb" stroke-width="0.5"/>
<line x1="31.0" x2="339.5" y1="283.0" y2="283.0" stroke="#ebebeb" stroke-width="0.5"/>
<line x1="31.0" x2="339.5" y1="244.0" y2="244.0" stroke="#ebebeb" stroke-width="0.5"/>
<line x1="100.5" x2="100.5" y1="230.4" y2="387.2" stroke="#ebebeb" stroke-width="0.5"/>
<line x1="213.3" x2="213.3" y1="230.4" y2="387.2" stroke="#ebebeb" stroke-width="0.5"/>
<line x1="326.2" x2="326.2" y1="230.4" y2="387.2" stroke="#ebebeb" stroke-width="0.5"/>
<line x1="31.0" x2="339.5" y1="380.3" y2="380.3" stroke="#ebebeb" stroke-width="1.0"/>
<line x1="31.0" x2="339.5" y1="341.4" y2="341.4" stroke="#ebebeb" stroke-width="1.0"/>
<line x1="31.0" x2="339.5" y1="302.4" y2="302.4" stroke="#ebebeb" stroke-width="1.0"/>
<line x1="31.0" x2="339.5" y1="263.5" y2="263.5" stroke="#ebebeb" stroke-width="1.0"/>
<line x1="44.5" x2="44.5" y1="230.4" y2="387.2" stroke="#ebebeb" stroke-width="1.0"/>
<line x1="156.4" x2="156.4" y1="230.4" y2="387.2" stroke="#ebebeb" stroke-width="1.0"/>
<line x1="270.2" x2="270.2" y1="230.4" y2="387.2" stroke="#ebebeb" stroke-width="1.0"/>
<g clip-path="url(#cp_c)"><path d="M44.7 380.0L45.1 380.0L45.5 380.0L45.9 380.0L46.3 380.0L46.7 380.0L47.1 380.0L47.5 380.0L47.9 380.0L48.3 380.0L48.7 380.0L49.1 380.0L49.5 380.0L49.9 380.0L50.3 380.0L50.7 380.0L51.1 380.0L51.5 380.0L51.9 379.9L52.3 379.9L52.7 379.9L53.1 379.9L53.5 379.9L53.9 379.9L54.3 379.9L54.7 379.9L55.1 379.9L55.5 379.9L55.9 379.9L56.3 379.9L56.7 379.9L57.1 379.9L57.5 379.9L57.9 379.9L58.3 379.9L58.7 379.9L59.1 379.9L59.5 379.8L59.9 379.8L60.3 379.8L60.7 379.8L61.1 379.8L61.5 379.8L61.9 379.8L62.3 379.8L62.7 379.8L63.1 379.7L63.5 379.7L63.9 379.7L64.3 379.7L64.7 379.6L65.1 379.6L65.5 379.6L65.9 379.4L66.3 379.2L66.7 378.9L67.1 378.5L67.5 378.0L67.9 377.6L68.3 377.1L68.7 376.5L69.1 375.9L69.5 375.3L69.9 374.4L70.3 373.4L70.7 372.3L71.1 371.2L71.5 369.9L71.9 368.4L72.3 366.7L72.7 364.8L73.1 362.7L73.5 360.5L73.9 357.9L74.3 355.1L74.7 352.0L75.1 348.8L75.5 345.4L75.9 341.6L76.3 337.9L76.7 335.0L77.1 332.8L77.5 326.0L77.9 316.1L78.3 307.8L78.7 301.7L79.1 297.0L79.5 292.1L79.9 285.9L80.3 280.4L80.7 276.8L81.1 273.8L81.5 271.4L81.9 269.1L82.3 266.9L82.7 265.0L83.1 264.0L83.5 264.3L83.9 266.0L84.3 268.4L84.7 270.6L85.1 272.3L85.5 273.9L85.9 275.4L86.3 277.1L86.7 279.0L87.1 281.3L87.5 284.4L87.9 287.8L88.3 291.0L88.7 293.7L89.1 296.0L89.5 298.2L89.9 300.2L90.3 302.1L90.7 303.9L91.1 305.7L91.5 307.3L91.9 308.9L92.3 310.4L92.7 311.9L93.1 313.3L93.5 314.7L93.9 316.0L94.3 317.3L94.7 318.6L95.1 319.8L95.5 321.0L95.9 322.3L96.3 323.5L96.7 324.6L97.1 325.8L97.5 326.9L97.9 328.0L98.3 329.2L98.7 330.3L99.1 331.6L99.5 332.7L99.9 333.8L100.3 343.9L100.7 347.3L101.1 349.2L101.5 350.3L101.9 351.3L102.3 352.2L102.7 353.0L103.1 353.7L103.5 354.3L103.9 354.8L104.3 355.3L104.7 355.8L105.1 356.3L105.5 356.8L105.9 357.2L106.3 357.5L106.7 357.8L107.1 358.0L107.5 358.2L107.9 358.3L108.3 358.4L108.7 358.4L109.1 358.4L109.5 358.3L109.9 358.1L110.3 357.9L110.7 357.7L111.1 357.5L111.5 357.3L111.9 357.2L112.3 357.0L112.7 356.9L113.1 356.8L113.5 356.6L113.9 356.5L114.3 356.4L114.7 356.3L115.1 356.1L115.5 356.0L115.9 355.8L116.3 355.6L116.7 355.3L117.1 355.1L117.5 354.8L117.9 354.5L118.3 354.3L118.7 354.2L119.1 354.1L119.5 354.1L119.9 354.6L120.3 354.6L120.7 354.5L121.1 354.2L121.5 353.8L121.9 353.4L122.3 353.0L122.7 352.7L123.1 352.3L123.5 351.8L123.9 351.4L124.3 351.0L124.7 350.6L125.1 350.2L125.5 349.9L125.9 349.5L126.3 349.2L126.7 349.0L127.1 349.0L127.5 349.1L127.9 349.2L128.3 349.4L128.7 349.6L129.1 349.8L129.5 350.0L129.9 350.3L130.3 350.7L130.7 351.0L131.1 351.3L131.5 351.6L131.9 351.8L132.3 352.0L132.7 352.2L133.1 352.4L133.5 352.6L133.9 352.8L134.3 353.0L134.7 353.2L135.1 353.4L135.5 353.6L135.9 353.8L136.3 354.0L136.7 354.1L137.1 354.3L137.5 354.4L137.9 354.5L138.3 354.6L138.7 354.6L139.1 354.7L139.5 354.7L139.9 354.8L140.3 354.8L140.7 354.8L141.1 354.8L141.5 354.9L141.9 354.9L142.3 354.9L142.7 355.0L143.1 355.0L143.5 355.1L143.9 355.1L144.3 355.2L144.7 355.2L145.1 355.3L145.5 355.3L145.9 355.4L146.3 355.5L146.7 355.6L147.1 355.6L147.5 355.7L147.9 355.7L148.3 355.6L148.7 355.6L149.1 355.5L149.5 355.3L149.9 355.1L150.3 354.4L150.7 353.3L151.1 352.1L151.5 351.0L151.9 349.8L152.3 348.5L152.7 347.2L153.1 345.7L153.5 344.3L153.9 342.8L154.3 341.1L154.7 339.5L155.1 337.9L155.5 336.2L155.9 334.1L156.3 332.4L156.7 332.0L157.1 332.0L157.5 332.0L157.9 332.0L158.3 331.1L158.7 329.2L159.1 327.0L159.5 325.0L159.9 323.4L160.3 322.0L160.7 320.7L161.1 319.6L161.5 318.8L161.9 318.1L162.3 317.5L162.7 317.2L163.1 317.2L163.5 317.4L163.9 317.6L164.3 318.0L164.7 318.4L165.1 318.8L165.5 319.5L165.9 320.2L166.3 321.0L166.7 321.7L167.1 322.3L167.5 323.0L167.9 323.7L168.3 324.3L168.7 325.0L169.1 325.7L169.5 326.3L169.9 327.0L170.3 327.7L170.7 328.3L171.1 328.9L171.5 329.5L171.9 330.1L172.3 330.8L172.7 331.5L173.1 332.4L173.5 333.5L173.9 334.8L174.3 336.2L174.7 337.8L175.1 339.6L175.5 340.9L175.9 341.9L176.3 342.8L176.7 343.5L177.1 344.3L177.5 345.0L177.9 345.7L178.3 346.5L178.7 347.3L179.1 348.2L179.5 349.0L179.9 349.8L180.3 350.6L180.7 351.2L181.1 351.9L181.5 352.5L181.9 353.1L182.3 353.6L182.7 354.2L183.1 354.8L183.5 355.4L183.9 356.0L184.3 356.6L184.7 357.2L185.1 357.8L185.5 358.4L185.9 359.0L186.3 359.6L186.7 360.2L187.1 360.9L187.5 361.4L187.9 362.0L188.3 362.6L188.7 363.1L189.1 363.6L189.5 364.1L189.9 364.6L190.3 365.1L190.7 365.5L191.1 366.0L191.5 366.4L191.9 366.8L192.3 367.2L192.7 367.6L193.1 367.9L193.5 368.2L193.9 368.5L194.3 368.7L194.7 369.0L195.1 369.2L195.5 369.4L195.9 369.5L196.3 369.6L196.7 369.7L197.1 369.9L197.5 369.9L197.9 370.0L198.3 370.1L198.7 370.2L199.1 370.2L199.5 370.2L199.9 370.3L200.3 370.3L200.7 370.4L201.1 370.4L201.5 370.4L201.9 370.4L202.3 370.4L202.7 370.4L203.1 370.4L203.5 370.4L203.9 370.4L204.3 370.4L204.7 370.4L205.1 370.3L205.5 370.2L205.9 370.1L206.3 370.0L206.7 370.0L207.1 369.9L207.5 369.8L207.9 369.7L208.3 369.7L208.7 369.6L209.1 369.6L209.5 369.5L209.9 369.4L210.3 369.4L210.7 369.3L211.1 369.2L211.5 369.1L211.9 369.0L212.3 368.9L212.7 368.8L213.1 368.6L213.5 368.5L213.9 368.3L214.3 368.2L214.7 368.1L215.1 367.9L215.5 367.8L215.9 367.6L216.3 367.5L216.7 367.4L217.1 367.2L217.5 367.1L217.9 366.9L218.3 366.8L218.7 366.7L219.1 366.6L219.5 366.5L219.9 366.4L220.3 366.3L220.7 366.2L221.1 366.1L221.5 366.0L221.9 365.9L222.3 365.8L222.7 365.8L223.1 365.7L223.5 365.6L223.9 365.6L224.3 365.5L224.7 365.5L225.1 365.4L225.5 365.4L225.9 365.4L226.3 365.4L226.7 365.4L227.1 365.4L227.5 365.4L227.9 365.4L228.3 365.5L228.7 365.5L229.1 365.6L229.5 365.6L229.9 365.7L230.3 365.8L230.7 365.9L231.1 366.0L231.5 366.2L231.9 366.3L232.3 366.5L232.7 366.7L233.1 366.9L233.5 367.1L233.9 367.2L234.3 367.3L234.7 367.4L235.1 367.5L235.5 367.6L235.9 367.7L236.3 367.8L236.7 367.8L237.1 367.9L237.5 367.9L237.9 367.9L238.3 367.9L238.7 367.8L239.1 367.7L239.5 367.6L239.9 367.4L240.3 367.2L240.7 367.0L241.1 366.9L241.5 366.7L241.9 366.5L242.3 366.3L242.7 366.1L243.1 365.8L243.5 365.5L243.9 365.3L244.3 365.0L244.7 364.7L245.1 364.3L245.5 364.0L245.9 363.7L246.3 363.3L246.7 363.0L247.1 362.6L247.5 362.1L247.9 361.7L248.3 361.2L248.7 360.8L249.1 360.2L249.5 359.6L249.9 359.0L250.3 358.3L250.7 357.6L251.1 356.9L251.5 356.2L251.9 355.5L252.3 354.8L252.7 354.1L253.1 353.4L253.5 352.7L253.9 352.0L254.3 351.4L254.7 350.7L255.1 350.1L255.5 349.5L255.9 349.0L256.3 348.5L256.7 348.1L257.1 347.8L257.5 347.5L257.9 347.3L258.3 347.2L258.7 347.1L259.1 347.2L259.5 347.5L259.9 347.8L260.3 348.2L260.7 348.6L261.1 349.1L261.5 349.6L261.9 350.3L262.3 351.0L262.7 351.6L263.1 352.3L263.5 353.0L263.9 353.7L264.3 354.4L264.7 355.1L265.1 355.8L265.5 356.5L265.9 357.2L266.3 357.9L266.7 358.6L267.1 359.4L267.5 360.0L267.9 360.7L268.3 361.4L268.7 362.0L269.1 362.6L269.5 363.2L269.9 363.8L270.3 364.4L270.7 364.9L271.1 365.5L271.5 366.0L271.9 366.5L272.3 367.0L272.7 367.5L273.1 367.9L273.5 368.3L273.9 368.8L274.3 369.2L274.7 369.6L275.1 370.0L275.5 370.3L275.9 370.7L276.3 371.0L276.7 371.3L277.1 371.6L277.5 371.9L277.9 372.2L278.3 372.4L278.7 372.6L279.1 372.9L279.5 373.1L279.9 373.3L280.3 373.5L280.7 373.7L281.1 373.9L281.5 374.0L281.9 374.2L282.3 374.3L282.7 374.5L283.1 374.7L283.5 374.8L283.9 375.0L284.3 375.1L284.7 375.2L285.1 375.3L285.5 375.4L285.9 375.4L286.3 374.8L286.7 374.8L287.1 374.8L287.5 374.9L287.9 374.9L288.3 375.0L288.7 375.0L289.1 375.0L289.5 375.1L289.9 375.1L290.3 375.2L290.7 375.2L291.1 375.2L291.5 375.2L291.9 375.2L292.3 375.2L292.7 375.2L293.1 375.2L293.5 375.2L293.9 375.2L294.3 375.1L294.7 375.1L295.1 375.1L295.5 375.1L295.9 375.1L296.3 375.1L296.7 375.1L297.1 375.0L297.5 375.0L297.9 375.0L298.3 374.9L298.7 374.9L299.1 374.8L299.5 374.8L299.9 374.8L300.3 374.7L300.7 374.7L301.1 374.6L301.5 374.6L301.9 374.5L302.3 374.4L302.7 374.4L303.1 374.3L303.5 374.2L303.9 374.1L304.3 374.0L304.7 374.0L305.1 373.9L305.5 373.9L305.9 373.8L306.3 373.8L306.7 373.8L307.1 373.8L307.5 373.8L307.9 373.8L308.3 373.8L308.7 373.8L309.1 373.8L309.5 373.8L309.9 373.8L310.3 373.8L310.7 373.8L311.1 373.8L311.5 373.8L311.9 373.8L312.3 373.8L312.7 373.8L313.1 373.8L313.5 373.8L313.9 373.7L314.3 373.7L314.7 373.7L315.1 373.7L315.5 373.6L315.9 373.6L316.3 373.6L316.7 373.5L317.1 373.5L317.5 373.5L317.9 373.4L318.3 373.4L318.7 373.3L319.1 373.3L319.5 373.2L319.9 373.2L320.3 373.1L320.7 373.1L321.1 373.0L321.5 372.9L321.9 372.9L322.3 372.8L322.7 372.8L323.1 372.7L323.5 372.6L323.9 372.6L324.3 372.5L324.7 372.4L325.1 372.4L325.5 372.3L325.5 372.3L325.5 379.6L325.5 379.6L325.1 379.6L324.7 379.6L324.3 379.6L323.9 379.6L323.5 379.6L323.1 379.6L322.7 379.6L322.3 379.7L321.9 379.7L321.5 379.7L321.1 379.7L320.7 379.7L320.3 379.7L319.9 379.7L319.5 379.7L319.1 379.7L318.7 379.7L318.3 379.7L317.9 379.7L317.5 379.7L317.1 379.7L316.7 379.7L316.3 379.7L315.9 379.7L315.5 379.7L315.1 379.7L314.7 379.7L314.3 379.7L313.9 379.8L313.5 379.8L313.1 379.8L312.7 379.8L312.3 379.8L311.9 379.8L311.5 379.8L311.1 379.8L310.7 379.8L310.3 379.8L309.9 379.8L309.5 379.8L309.1 379.8L308.7 379.8L308.3 379.8L307.9 379.8L307.5 379.8L307.1 379.8L306.7 379.8L306.3 379.8L305.9 379.8L305.5 379.8L305.1 379.8L304.7 379.8L304.3 379.8L303.9 379.8L303.5 379.8L303.1 379.8L302.7 379.8L302.3 379.8L301.9 379.8L301.5 379.8L301.1 379.8L300.7 379.8L300.3 379.8L299.9 379.8L299.5 379.8L299.1 379.9L298.7 379.9L298.3 379.9L297.9 379.9L297.5 379.9L297.1 379.9L296.7 379.9L296.3 379.9L295.9 379.9L295.5 379.9L295.1 379.9L294.7 379.9L294.3 379.9L293.9 379.9L293.5 379.9L293.1 379.9L292.7 379.9L292.3 379.9L291.9 379.9L291.5 379.9L291.1 379.9L290.7 379.9L290.3 379.9L289.9 379.9L289.5 379.9L289.1 379.9L288.7 379.9L288.3 379.9L287.9 379.9L287.5 379.9L287.1 379.9L286.7 379.9L286.3 379.9L285.9 379.9L285.5 379.9L285.1 379.9L284.7 379.8L284.3 379.8L283.9 379.8L283.5 379.8L283.1 379.8L282.7 379.8L282.3 379.8L281.9 379.8L281.5 379.8L281.1 379.8L280.7 379.7L280.3 379.7L279.9 379.7L279.5 379.7L279.1 379.7L278.7 379.6L278.3 379.6L277.9 379.6L277.5 379.6L277.1 379.5L276.7 379.5L276.3 379.4L275.9 379.4L275.5 379.3L275.1 379.3L274.7 379.2L274.3 379.1L273.9 379.0L273.5 378.9L273.1 378.9L272.7 378.8L272.3 378.6L271.9 378.5L271.5 378.3L271.1 378.2L270.7 378.0L270.3 377.8L269.9 377.6L269.5 377.4L269.1 377.2L268.7 377.0L268.3 376.8L267.9 376.6L267.5 376.4L267.1 376.2L266.7 376.0L266.3 375.8L265.9 375.6L265.5 375.4L265.1 375.2L264.7 375.0L264.3 374.8L263.9 374.6L263.5 374.4L263.1 374.2L262.7 374.1L262.3 373.9L261.9 373.7L261.5 373.5L261.1 373.4L260.7 373.2L260.3 373.1L259.9 373.0L259.5 372.9L259.1 372.9L258.7 372.9L258.3 372.9L257.9 372.9L257.5 372.9L257.1 372.9L256.7 372.9L256.3 372.9L255.9 372.9L255.5 372.9L255.1 373.0L254.7 373.0L254.3 373.1L253.9 373.3L253.5 373.4L253.1 373.6L252.7 373.8L252.3 374.0L251.9 374.2L251.5 374.4L251.1 374.6L250.7 374.7L250.3 374.9L249.9 375.0L249.5 375.1L249.1 375.3L248.7 375.4L248.3 375.5L247.9 375.6L247.5 375.8L247.1 375.9L246.7 376.0L246.3 376.1L245.9 376.2L245.5 376.4L245.1 376.5L244.7 376.6L244.3 376.7L243.9 376.8L243.5 376.9L243.1 377.0L242.7 377.1L242.3 377.1L241.9 377.2L241.5 377.3L241.1 377.4L240.7 377.5L240.3 377.6L239.9 377.7L239.5 377.7L239.1 377.8L238.7 377.9L238.3 377.9L237.9 378.0L237.5 378.0L237.1 378.0L236.7 378.1L236.3 378.1L235.9 378.2L235.5 378.2L235.1 378.2L234.7 378.3L234.3 378.3L233.9 378.3L233.5 378.4L233.1 378.4L232.7 378.4L232.3 378.4L231.9 378.5L231.5 378.5L231.1 378.5L230.7 378.5L230.3 378.6L229.9 378.6L229.5 378.6L229.1 378.6L228.7 378.6L228.3 378.7L227.9 378.7L227.5 378.7L227.1 378.7L226.7 378.8L226.3 378.8L225.9 378.8L225.5 378.8L225.1 378.9L224.7 378.9L224.3 378.9L223.9 378.9L223.5 379.0L223.1 379.0L222.7 379.0L222.3 379.0L221.9 379.1L221.5 379.1L221.1 379.1L220.7 379.1L220.3 379.2L219.9 379.2L219.5 379.2L219.1 379.2L218.7 379.3L218.3 379.3L217.9 379.3L217.5 379.3L217.1 379.4L216.7 379.4L216.3 379.4L215.9 379.4L215.5 379.5L215.1 379.5L214.7 379.5L214.3 379.5L213.9 379.5L213.5 379.6L213.1 379.6L212.7 379.6L212.3 379.6L211.9 379.6L211.5 379.7L211.1 379.7L210.7 379.7L210.3 379.7L209.9 379.7L209.5 379.8L209.1 379.8L208.7 379.8L208.3 379.8L207.9 379.8L207.5 379.8L207.1 379.8L206.7 379.9L206.3 379.9L205.9 379.9L205.5 379.9L205.1 379.9L204.7 379.8L204.3 379.8L203.9 379.8L203.5 379.8L203.1 379.8L202.7 379.8L202.3 379.8L201.9 379.8L201.5 379.8L201.1 379.7L200.7 379.7L200.3 379.7L199.9 379.7L199.5 379.7L199.1 379.7L198.7 379.6L198.3 379.6L197.9 379.6L197.5 379.6L197.1 379.5L196.7 379.5L196.3 379.5L195.9 379.5L195.5 379.4L195.1 379.4L194.7 379.4L194.3 379.3L193.9 379.3L193.5 379.3L193.1 379.2L192.7 379.2L192.3 379.2L191.9 379.1L191.5 379.1L191.1 379.1L190.7 379.1L190.3 379.0L189.9 379.0L189.5 379.0L189.1 378.9L188.7 378.9L188.3 378.9L187.9 378.8L187.5 378.8L187.1 378.7L186.7 378.7L186.3 378.6L185.9 378.6L185.5 378.5L185.1 378.4L184.7 378.3L184.3 378.3L183.9 378.2L183.5 378.1L183.1 378.0L182.7 377.9L182.3 377.8L181.9 377.7L181.5 377.5L181.1 377.4L180.7 377.3L180.3 377.1L179.9 377.0L179.5 376.8L179.1 376.7L178.7 376.5L178.3 376.3L177.9 376.1L177.5 375.9L177.1 375.7L176.7 375.5L176.3 375.3L175.9 375.0L175.5 374.8L175.1 374.6L174.7 374.4L174.3 374.2L173.9 374.0L173.5 373.8L173.1 373.6L172.7 373.4L172.3 373.2L171.9 373.0L171.5 372.9L171.1 372.7L170.7 372.5L170.3 372.3L169.9 372.2L169.5 372.0L169.1 371.9L168.7 371.7L168.3 371.6L167.9 371.4L167.5 371.3L167.1 371.2L166.7 371.0L166.3 370.9L165.9 370.8L165.5 370.8L165.1 370.8L164.7 370.8L164.3 370.8L163.9 370.8L163.5 370.9L163.1 370.9L162.7 370.9L162.3 371.0L161.9 371.0L161.5 371.1L161.1 371.1L160.7 371.2L160.3 371.3L159.9 371.5L159.5 371.6L159.1 371.8L158.7 371.9L158.3 372.1L157.9 372.3L157.5 372.4L157.1 372.6L156.7 372.8L156.3 373.0L155.9 373.3L155.5 373.5L155.1 373.7L154.7 373.9L154.3 374.1L153.9 374.2L153.5 374.4L153.1 374.6L152.7 374.7L152.3 374.9L151.9 375.0L151.5 375.2L151.1 375.3L150.7 375.4L150.3 375.4L149.9 375.5L149.5 375.5L149.1 375.6L148.7 375.6L148.3 375.6L147.9 375.7L147.5 375.7L147.1 375.7L146.7 375.8L146.3 375.8L145.9 375.8L145.5 375.8L145.1 375.8L144.7 375.9L144.3 375.9L143.9 375.9L143.5 375.9L143.1 375.9L142.7 375.9L142.3 376.0L141.9 376.0L141.5 376.0L141.1 376.0L140.7 376.0L140.3 376.0L139.9 376.0L139.5 376.1L139.1 376.1L138.7 376.1L138.3 376.1L137.9 376.1L137.5 376.1L137.1 376.2L136.7 376.2L136.3 376.2L135.9 376.2L135.5 376.3L135.1 376.3L134.7 376.3L134.3 376.3L133.9 376.3L133.5 376.3L133.1 376.3L132.7 376.3L132.3 376.3L131.9 376.3L131.5 376.3L131.1 376.3L130.7 376.3L130.3 376.3L129.9 376.2L129.5 376.2L129.1 376.2L128.7 376.2L128.3 376.1L127.9 376.1L127.5 376.1L127.1 376.1L126.7 376.1L126.3 376.1L125.9 376.1L125.5 376.1L125.1 376.1L124.7 376.1L124.3 376.1L123.9 376.1L123.5 376.1L123.1 376.1L122.7 376.1L122.3 376.1L121.9 376.1L121.5 376.1L121.1 376.1L120.7 376.1L120.3 376.1L119.9 376.1L119.5 376.0L119.1 375.8L118.7 375.6L118.3 375.5L117.9 375.5L117.5 375.5L117.1 375.5L116.7 375.5L116.3 375.5L115.9 375.5L115.5 375.5L115.1 375.5L114.7 375.5L114.3 375.5L113.9 375.5L113.5 375.6L113.1 375.6L112.7 375.6L112.3 375.6L111.9 375.6L111.5 375.6L111.1 375.7L110.7 375.7L110.3 375.7L109.9 375.7L109.5 375.7L109.1 375.7L108.7 375.7L108.3 375.7L107.9 375.7L107.5 375.7L107.1 375.7L106.7 375.7L106.3 375.7L105.9 375.7L105.5 375.7L105.1 375.7L104.7 375.7L104.3 375.7L103.9 375.7L103.5 375.8L103.1 375.8L102.7 375.8L102.3 375.8L101.9 375.8L101.5 375.8L101.1 375.8L100.7 375.8L100.3 375.8L99.9 377.6L99.5 377.6L99.1 377.6L98.7 377.6L98.3 377.6L97.9 377.6L97.5 377.6L97.1 377.6L96.7 377.6L96.3 377.6L95.9 377.6L95.5 377.6L95.1 377.6L94.7 377.6L94.3 377.6L93.9 377.6L93.5 377.6L93.1 377.6L92.7 377.6L92.3 377.6L91.9 377.6L91.5 377.6L91.1 377.6L90.7 377.6L90.3 377.6L89.9 377.6L89.5 377.6L89.1 377.6L88.7 377.6L88.3 377.6L87.9 377.6L87.5 377.6L87.1 377.6L86.7 377.6L86.3 377.6L85.9 377.6L85.5 377.6L85.1 377.6L84.7 377.6L84.3 377.6L83.9 377.6L83.5 377.6L83.1 377.6L82.7 377.6L82.3 377.6L81.9 377.6L81.5 377.6L81.1 377.6L80.7 377.6L80.3 377.6L79.9 377.6L79.5 377.6L79.1 377.7L78.7 377.8L78.3 377.9L77.9 378.0L77.5 378.1L77.1 378.2L76.7 378.3L76.3 378.5L75.9 378.7L75.5 378.9L75.1 379.2L74.7 379.3L74.3 379.5L73.9 379.6L73.5 379.7L73.1 379.9L72.7 380.0L72.3 380.0L71.9 380.1L71.5 380.1L71.1 380.1L70.7 380.1L70.3 380.1L69.9 380.1L69.5 380.2L69.1 380.2L68.7 380.2L68.3 380.2L67.9 380.2L67.5 380.2L67.1 380.2L66.7 380.2L66.3 380.2L65.9 380.2L65.5 380.2L65.1 380.2L64.7 380.2L64.3 380.2L63.9 380.3L63.5 380.3L63.1 380.3L62.7 380.3L62.3 380.3L61.9 380.3L61.5 380.3L61.1 380.3L60.7 380.3L60.3 380.3L59.9 380.3L59.5 380.3L59.1 380.3L58.7 380.3L58.3 380.3L57.9 380.3L57.5 380.3L57.1 380.3L56.7 380.3L56.3 380.3L55.9 380.3L55.5 380.3L55.1 380.3L54.7 380.3L54.3 380.3L53.9 380.3L53.5 380.3L53.1 380.3L52.7 380.3L52.3 380.4L51.9 380.4L51.5 380.4L51.1 380.4L50.7 380.4L50.3 380.4L49.9 380.4L49.5 380.4L49.1 380.4L48.7 380.4L48.3 380.4L47.9 380.4L47.5 380.4L47.1 380.4L46.7 380.4L46.3 380.4L45.9 380.4L45.5 380.4L45.1 380.4L44.7 380.4Z" fill="#1e22a5" fill-opacity="0.225" stroke="none"/>
<path d="M44.7 380.0L45.9 380.0L47.1 380.2L49.6 380.0L50.9 380.0L52.7 380.0L55.2 380.2L57.6 380.1L59.5 380.2L62.0 380.0L63.2 380.2L64.5 380.1L65.7 380.2L66.9 380.0L69.4 379.8L70.6 379.5L71.9 379.4L73.1 379.1L75.6 378.9L77.4 337.3L78.4 379.9L79.5 352.6L80.7 364.1L81.6 368.5L82.8 334.5L83.8 340.3L84.7 336.4L86.0 348.4L86.8 323.8L87.2 340.8L88.1 363.6L88.9 364.4L89.8 337.1L90.3 366.0L91.2 359.7L92.3 361.8L93.4 368.6L94.1 362.6L95.3 359.4L96.4 369.7L97.5 370.1L98.6 357.5L99.1 362.3L99.7 354.1L100.5 356.3L101.5 367.2L102.6 371.4L103.2 368.2L104.1 363.5L104.8 364.8L106.3 373.9L107.9 368.9L109.1 374.1L110.2 371.2L111.4 373.6L112.6 367.6L113.4 362.3L115.1 374.2L116.4 366.7L117.3 364.8L118.9 374.2L120.2 371.4L121.7 366.7L121.9 359.4L123.1 374.7L124.3 362.9L125.2 362.6L126.4 371.9L127.5 365.8L128.7 371.0L129.8 347.1L130.7 237.3L132.0 358.7L133.0 368.6L134.1 365.8L135.1 348.1L136.4 366.0L137.3 369.4L138.3 371.0L139.1 370.1L139.9 374.0L140.8 364.7L141.7 371.2L142.7 373.6L143.7 370.0L144.8 357.6L145.9 368.6L146.9 368.9L148.0 360.7L149.2 379.9L150.2 366.3L151.2 364.5L152.1 358.2L153.2 364.0L154.2 362.4L155.3 368.5L156.1 366.8L156.9 358.2L157.8 360.3L158.6 360.9L159.5 363.8L160.3 337.3L160.9 242.6L161.9 332.8L162.8 337.0L163.8 369.2L165.1 340.2L166.3 375.5L167.2 360.7L168.5 341.1L169.4 371.7L170.4 358.7L171.4 326.3L172.3 365.4L173.2 367.0L174.2 364.9L175.1 366.2L176.0 367.9L177.3 362.2L178.4 373.4L179.4 367.9L180.5 363.5L181.3 367.3L182.1 369.9L183.0 374.8L183.9 374.5L184.9 366.6L185.8 370.3L186.8 376.1L187.7 374.2L188.6 374.5L189.6 376.3L190.5 376.7L191.4 376.9L192.2 375.1L193.0 375.5L194.0 373.3L194.9 377.4L195.9 374.6L196.8 373.6L197.8 376.4L198.7 377.7L199.7 379.1L200.6 379.6L201.9 372.9L202.8 375.1L203.8 376.1L205.0 377.3L206.0 376.5L206.9 374.8L207.9 376.8L208.8 379.9L209.8 376.2L210.7 376.3L211.6 377.5L212.6 377.3L213.5 377.0L214.5 375.5L215.4 373.0L216.4 371.7L217.3 374.7L218.3 374.8L219.2 374.9L220.2 375.5L220.8 365.8L221.7 373.5L222.7 374.2L223.9 376.1L225.2 367.0L225.8 379.9L226.8 375.9L227.7 374.8L228.8 372.3L229.8 365.0L231.5 378.6L232.4 370.7L233.4 376.1L234.2 373.2L235.1 376.4L235.9 371.7L236.8 374.7L237.8 375.5L238.6 375.9L239.5 374.9L240.3 379.6L241.8 376.1L243.5 379.2L244.3 369.7L245.1 373.4L246.0 369.2L246.9 372.5L247.9 373.6L248.8 368.9L249.7 372.3L250.8 369.8L251.9 353.4L252.6 376.1L253.1 362.2L254.8 368.5L255.6 367.7L256.5 365.0L257.3 351.5L258.6 359.1L259.8 355.7L260.7 363.4L261.5 364.7L262.3 369.2L263.3 367.0L264.2 366.0L265.3 367.7L266.3 373.5L267.4 358.2L268.0 365.4L269.0 371.9L269.9 369.8L270.8 375.4L271.8 373.6L272.7 372.1L273.7 372.9L274.6 378.0L275.6 376.1L276.5 375.4L277.5 374.8L279.1 377.6L280.6 378.0L281.2 373.6L282.2 377.8L283.1 376.1L284.4 378.0L286.0 377.0L287.2 378.7L288.5 376.5L289.7 377.6L290.9 377.7L292.2 377.7L293.4 378.3L294.7 376.1L295.9 378.1L297.1 377.1L298.4 377.4L299.6 376.7L300.8 378.1L301.8 377.6L302.7 376.1L303.9 377.5L305.2 376.2L306.1 378.9L307.0 378.3L308.3 368.5L309.5 377.8L310.4 377.5L311.4 378.2L312.6 378.4L313.8 375.8L315.1 377.3L316.0 376.5L316.9 377.6L318.2 377.2L319.4 378.1L320.6 376.6L321.9 376.8L323.1 377.3L324.0 375.5L325.0 378.2L325.3 370.8" fill="none" stroke="#000" stroke-width="0.28" stroke-linejoin="round"/>
<path d="M44.7 379.9L45.1 379.9L45.5 379.9L45.9 379.9L46.3 379.9L46.7 379.9L47.1 379.9L47.5 379.9L47.9 379.9L48.3 379.9L48.7 379.9L49.1 379.9L49.5 379.9L49.9 379.9L50.3 379.9L50.7 379.9L51.1 379.9L51.5 379.9L51.9 379.9L52.3 379.9L52.7 379.9L53.1 379.9L53.5 379.8L53.9 379.8L54.3 379.8L54.7 379.8L55.1 379.8L55.5 379.8L55.9 379.8L56.3 379.8L56.7 379.8L57.1 379.8L57.5 379.8L57.9 379.8L58.3 379.7L58.7 379.7L59.1 379.7L59.5 379.7L59.9 379.7L60.3 379.7L60.7 379.7L61.1 379.7L61.5 379.7L61.9 379.6L62.3 379.6L62.7 379.6L63.1 379.6L63.5 379.6L63.9 379.6L64.3 379.6L64.7 379.5L65.1 379.5L65.5 379.5L65.9 379.5L66.3 379.4L66.7 379.4L67.1 379.3L67.5 379.2L67.9 379.2L68.3 379.1L68.7 379.0L69.1 378.8L69.5 378.7L69.9 378.4L70.3 378.1L70.7 377.7L71.1 377.3L71.5 376.9L71.9 376.5L72.3 376.0L72.7 375.4L73.1 374.7L73.5 374.0L73.9 373.2L74.3 372.2L74.7 371.0L75.1 369.6L75.5 367.9L75.9 366.1L76.3 364.1L76.7 361.7L77.1 359.1L77.5 356.4L77.9 354.0L78.3 351.7L78.7 349.3L79.1 347.0L79.5 345.1L79.9 343.5L80.3 342.0L80.7 340.6L81.1 339.6L81.5 339.0L81.9 338.5L82.3 338.1L82.7 337.9L83.1 337.9L83.5 338.1L83.9 338.4L84.3 338.8L84.7 339.6L85.1 340.6L85.5 341.5L85.9 342.4L86.3 343.3L86.7 344.2L87.1 345.0L87.5 345.9L87.9 346.8L88.3 347.7L88.7 348.5L89.1 349.4L89.5 350.2L89.9 351.0L90.3 351.7L90.7 352.5L91.1 353.2L91.5 353.9L91.9 354.6L92.3 355.2L92.7 355.7L93.1 356.2L93.5 356.7L93.9 357.1L94.3 357.5L94.7 358.0L95.1 358.5L95.5 358.9L95.9 359.4L96.3 359.9L96.7 360.3L97.1 360.8L97.5 361.2L97.9 361.6L98.3 362.0L98.7 362.4L99.1 362.7L99.5 363.1L99.9 363.5L100.3 363.9L100.7 364.2L101.1 364.6L101.5 365.0L101.9 365.3L102.3 365.6L102.7 366.0L103.1 366.3L103.5 366.6L103.9 366.8L104.3 367.1L104.7 367.3L105.1 367.5L105.5 367.6L105.9 367.8L106.3 367.9L106.7 368.1L107.1 368.2L107.5 368.2L107.9 368.3L108.3 368.4L108.7 368.4L109.1 368.5L109.5 368.5L109.9 368.5L110.3 368.5L110.7 368.4L111.1 368.4L111.5 368.3L111.9 368.2L112.3 368.1L112.7 368.0L113.1 368.0L113.5 367.9L113.9 367.9L114.3 367.8L114.7 367.7L115.1 367.6L115.5 367.6L115.9 367.5L116.3 367.4L116.7 367.3L117.1 367.2L117.5 367.1L117.9 367.0L118.3 366.9L118.7 366.7L119.1 366.6L119.5 366.4L119.9 366.3L120.3 366.2L120.7 366.1L121.1 365.9L121.5 365.8L121.9 365.7L122.3 365.6L122.7 365.5L123.1 365.3L123.5 365.2L123.9 365.0L124.3 364.8L124.7 364.6L125.1 364.4L125.5 364.2L125.9 364.0L126.3 363.9L126.7 363.8L127.1 363.7L127.5 363.6L127.9 363.5L128.3 363.5L128.7 363.5L129.1 363.5L129.5 363.5L129.9 363.7L130.3 363.8L130.7 364.0L131.1 364.2L131.5 364.3L131.9 364.5L132.3 364.7L132.7 364.8L133.1 365.0L133.5 365.1L133.9 365.3L134.3 365.5L134.7 365.6L135.1 365.8L135.5 365.9L135.9 366.1L136.3 366.2L136.7 366.4L137.1 366.5L137.5 366.7L137.9 366.8L138.3 366.9L138.7 367.0L139.1 367.2L139.5 367.3L139.9 367.4L140.3 367.5L140.7 367.6L141.1 367.6L141.5 367.7L141.9 367.7L142.3 367.7L142.7 367.7L143.1 367.8L143.5 367.8L143.9 367.8L144.3 367.8L144.7 367.9L145.1 367.9L145.5 368.0L145.9 368.1L146.3 368.1L146.7 368.1L147.1 368.1L147.5 368.0L147.9 368.0L148.3 367.9L148.7 367.9L149.1 367.8L149.5 367.6L149.9 367.3L150.3 366.9L150.7 366.4L151.1 365.9L151.5 365.3L151.9 364.7L152.3 364.0L152.7 363.2L153.1 362.4L153.5 361.5L153.9 360.6L154.3 359.8L154.7 358.8L155.1 357.9L155.5 356.9L155.9 356.0L156.3 355.1L156.7 354.2L157.1 353.3L157.5 352.4L157.9 351.5L158.3 350.6L158.7 349.9L159.1 349.2L159.5 348.6L159.9 348.0L160.3 347.5L160.7 347.1L161.1 346.9L161.5 346.6L161.9 346.4L162.3 346.3L162.7 346.2L163.1 346.2L163.5 346.3L163.9 346.5L164.3 346.7L164.7 346.9L165.1 347.2L165.5 347.7L165.9 348.2L166.3 348.8L166.7 349.3L167.1 349.9L167.5 350.5L167.9 351.2L168.3 351.9L168.7 352.5L169.1 353.1L169.5 353.8L169.9 354.4L170.3 355.0L170.7 355.6L171.1 356.2L171.5 356.8L171.9 357.4L172.3 358.0L172.7 358.5L173.1 359.1L173.5 359.6L173.9 360.1L174.3 360.6L174.7 361.1L175.1 361.6L175.5 362.1L175.9 362.5L176.3 362.9L176.7 363.4L177.1 363.8L177.5 364.1L177.9 364.5L178.3 364.9L178.7 365.2L179.1 365.6L179.5 365.9L179.9 366.2L180.3 366.5L180.7 366.9L181.1 367.2L181.5 367.5L181.9 367.9L182.3 368.2L182.7 368.5L183.1 368.8L183.5 369.1L183.9 369.4L184.3 369.7L184.7 369.9L185.1 370.2L185.5 370.4L185.9 370.6L186.3 370.9L186.7 371.1L187.1 371.3L187.5 371.5L187.9 371.7L188.3 371.9L188.7 372.1L189.1 372.4L189.5 372.6L189.9 372.8L190.3 373.0L190.7 373.2L191.1 373.4L191.5 373.6L191.9 373.8L192.3 373.9L192.7 374.1L193.1 374.2L193.5 374.4L193.9 374.5L194.3 374.6L194.7 374.7L195.1 374.8L195.5 374.9L195.9 375.0L196.3 375.0L196.7 375.1L197.1 375.2L197.5 375.2L197.9 375.3L198.3 375.3L198.7 375.4L199.1 375.4L199.5 375.5L199.9 375.5L200.3 375.6L200.7 375.6L201.1 375.6L201.5 375.6L201.9 375.6L202.3 375.6L202.7 375.6L203.1 375.6L203.5 375.6L203.9 375.6L204.3 375.6L204.7 375.5L205.1 375.5L205.5 375.5L205.9 375.5L206.3 375.4L206.7 375.4L207.1 375.3L207.5 375.3L207.9 375.3L208.3 375.2L208.7 375.1L209.1 375.1L209.5 375.0L209.9 374.9L210.3 374.8L210.7 374.7L211.1 374.6L211.5 374.5L211.9 374.3L212.3 374.2L212.7 374.1L213.1 373.9L213.5 373.7L213.9 373.6L214.3 373.4L214.7 373.3L215.1 373.2L215.5 373.0L215.9 372.9L216.3 372.8L216.7 372.7L217.1 372.6L217.5 372.5L217.9 372.4L218.3 372.3L218.7 372.2L219.1 372.2L219.5 372.1L219.9 372.1L220.3 372.0L220.7 371.9L221.1 371.9L221.5 371.9L221.9 371.8L222.3 371.8L222.7 371.8L223.1 371.8L223.5 371.8L223.9 371.8L224.3 371.8L224.7 371.8L225.1 371.8L225.5 371.8L225.9 371.8L226.3 371.8L226.7 371.8L227.1 371.8L227.5 371.8L227.9 371.9L228.3 371.9L228.7 372.0L229.1 372.0L229.5 372.1L229.9 372.2L230.3 372.2L230.7 372.2L231.1 372.3L231.5 372.3L231.9 372.4L232.3 372.4L232.7 372.5L233.1 372.5L233.5 372.6L233.9 372.6L234.3 372.6L234.7 372.7L235.1 372.7L235.5 372.7L235.9 372.8L236.3 372.8L236.7 372.8L237.1 372.9L237.5 372.9L237.9 372.9L238.3 372.9L238.7 372.8L239.1 372.8L239.5 372.7L239.9 372.6L240.3 372.5L240.7 372.4L241.1 372.3L241.5 372.2L241.9 372.1L242.3 372.0L242.7 371.9L243.1 371.8L243.5 371.6L243.9 371.5L244.3 371.3L244.7 371.2L245.1 371.0L245.5 370.8L245.9 370.6L246.3 370.3L246.7 370.0L247.1 369.7L247.5 369.4L247.9 369.1L248.3 368.8L248.7 368.5L249.1 368.1L249.5 367.8L249.9 367.4L250.3 367.1L250.7 366.7L251.1 366.3L251.5 365.9L251.9 365.6L252.3 365.2L252.7 364.8L253.1 364.4L253.5 364.1L253.9 363.7L254.3 363.3L254.7 362.9L255.1 362.5L255.5 362.2L255.9 361.9L256.3 361.6L256.7 361.3L257.1 361.0L257.5 360.7L257.9 360.5L258.3 360.3L258.7 360.3L259.1 360.4L259.5 360.5L259.9 360.7L260.3 360.9L260.7 361.2L261.1 361.5L261.5 362.0L261.9 362.5L262.3 363.0L262.7 363.5L263.1 364.0L263.5 364.4L263.9 364.9L264.3 365.3L264.7 365.8L265.1 366.2L265.5 366.7L265.9 367.1L266.3 367.6L266.7 368.0L267.1 368.5L267.5 368.9L267.9 369.3L268.3 369.7L268.7 370.0L269.1 370.4L269.5 370.7L269.9 371.0L270.3 371.3L270.7 371.6L271.1 372.0L271.5 372.3L271.9 372.6L272.3 373.0L272.7 373.3L273.1 373.6L273.5 373.8L273.9 374.1L274.3 374.3L274.7 374.5L275.1 374.7L275.5 374.9L275.9 375.0L276.3 375.1L276.7 375.2L277.1 375.3L277.5 375.4L277.9 375.5L278.3 375.6L278.7 375.7L279.1 375.8L279.5 375.8L279.9 375.9L280.3 376.0L280.7 376.1L281.1 376.1L281.5 376.2L281.9 376.2L282.3 376.3L282.7 376.3L283.1 376.3L283.5 376.3L283.9 376.4L284.3 376.4L284.7 376.4L285.1 376.4L285.5 376.5L285.9 376.6L286.3 377.3L286.7 377.3L287.1 377.3L287.5 377.3L287.9 377.3L288.3 377.3L288.7 377.3L289.1 377.3L289.5 377.3L289.9 377.3L290.3 377.3L290.7 377.3L291.1 377.3L291.5 377.3L291.9 377.3L292.3 377.3L292.7 377.2L293.1 377.2L293.5 377.2L293.9 377.1L294.3 377.1L294.7 377.0L295.1 377.0L295.5 377.0L295.9 376.9L296.3 376.9L296.7 376.9L297.1 376.8L297.5 376.8L297.9 376.8L298.3 376.8L298.7 376.8L299.1 376.7L299.5 376.7L299.9 376.7L300.3 376.7L300.7 376.7L301.1 376.6L301.5 376.6L301.9 376.6L302.3 376.6L302.7 376.5L303.1 376.5L303.5 376.5L303.9 376.4L304.3 376.4L304.7 376.4L305.1 376.3L305.5 376.3L305.9 376.3L306.3 376.2L306.7 376.2L307.1 376.2L307.5 376.1L307.9 376.1L308.3 376.0L308.7 376.0L309.1 376.0L309.5 375.9L309.9 375.9L310.3 375.9L310.7 375.8L311.1 375.8L311.5 375.8L311.9 375.8L312.3 375.8L312.7 375.8L313.1 375.8L313.5 375.8L313.9 375.8L314.3 375.8L314.7 375.8L315.1 375.8L315.5 375.8L315.9 375.8L316.3 375.8L316.7 375.8L317.1 375.8L317.5 375.8L317.9 375.8L318.3 375.8L318.7 375.8L319.1 375.8L319.5 375.8L319.9 375.8L320.3 375.8L320.7 375.8L321.1 375.8L321.5 375.8L321.9 375.8L322.3 375.8L322.7 375.8L323.1 375.8L323.5 375.7L323.9 375.7L324.3 375.7L324.7 375.6L325.1 375.6L325.5 375.6L325.5 375.6L325.5 376.5L325.5 376.5L325.1 376.5L324.7 376.6L324.3 376.6L323.9 376.6L323.5 376.6L323.1 376.7L322.7 376.7L322.3 376.7L321.9 376.7L321.5 376.7L321.1 376.7L320.7 376.7L320.3 376.7L319.9 376.7L319.5 376.7L319.1 376.7L318.7 376.7L318.3 376.7L317.9 376.7L317.5 376.7L317.1 376.7L316.7 376.7L316.3 376.7L315.9 376.7L315.5 376.7L315.1 376.7L314.7 376.7L314.3 376.7L313.9 376.7L313.5 376.7L313.1 376.7L312.7 376.7L312.3 376.7L311.9 376.7L311.5 376.7L311.1 376.7L310.7 376.7L310.3 376.8L309.9 376.8L309.5 376.8L309.1 376.8L308.7 376.9L308.3 376.9L307.9 377.0L307.5 377.0L307.1 377.0L306.7 377.1L306.3 377.1L305.9 377.1L305.5 377.2L305.1 377.2L304.7 377.2L304.3 377.2L303.9 377.3L303.5 377.3L303.1 377.3L302.7 377.4L302.3 377.4L301.9 377.4L301.5 377.4L301.1 377.5L300.7 377.5L300.3 377.5L299.9 377.5L299.5 377.5L299.1 377.6L298.7 377.6L298.3 377.6L297.9 377.6L297.5 377.6L297.1 377.6L296.7 377.7L296.3 377.7L295.9 377.7L295.5 377.7L295.1 377.8L294.7 377.8L294.3 377.9L293.9 377.9L293.5 377.9L293.1 378.0L292.7 378.0L292.3 378.0L291.9 378.0L291.5 378.0L291.1 378.1L290.7 378.1L290.3 378.1L289.9 378.1L289.5 378.1L289.1 378.1L288.7 378.1L288.3 378.1L287.9 378.1L287.5 378.1L287.1 378.1L286.7 378.1L286.3 378.1L285.9 377.4L285.5 377.3L285.1 377.3L284.7 377.2L284.3 377.2L283.9 377.2L283.5 377.2L283.1 377.2L282.7 377.1L282.3 377.1L281.9 377.1L281.5 377.0L281.1 377.0L280.7 376.9L280.3 376.9L279.9 376.8L279.5 376.7L279.1 376.7L278.7 376.6L278.3 376.5L277.9 376.4L277.5 376.4L277.1 376.3L276.7 376.2L276.3 376.1L275.9 376.0L275.5 375.8L275.1 375.7L274.7 375.5L274.3 375.3L273.9 375.1L273.5 374.9L273.1 374.7L272.7 374.4L272.3 374.2L271.9 373.9L271.5 373.6L271.1 373.3L270.7 373.0L270.3 372.7L269.9 372.5L269.5 372.2L269.1 371.9L268.7 371.6L268.3 371.3L267.9 371.0L267.5 370.7L267.1 370.3L266.7 369.9L266.3 369.6L265.9 369.2L265.5 368.8L265.1 368.4L264.7 368.1L264.3 367.7L263.9 367.3L263.5 367.0L263.1 366.6L262.7 366.2L262.3 365.8L261.9 365.4L261.5 365.0L261.1 364.7L260.7 364.4L260.3 364.2L259.9 364.0L259.5 363.9L259.1 363.8L258.7 363.7L258.3 363.7L257.9 363.8L257.5 364.0L257.1 364.2L256.7 364.5L256.3 364.7L255.9 364.9L255.5 365.2L255.1 365.5L254.7 365.7L254.3 366.1L253.9 366.4L253.5 366.7L253.1 367.0L252.7 367.3L252.3 367.6L251.9 367.9L251.5 368.2L251.1 368.5L250.7 368.8L250.3 369.1L249.9 369.5L249.5 369.7L249.1 370.0L248.7 370.3L248.3 370.6L247.9 370.9L247.5 371.1L247.1 371.4L246.7 371.6L246.3 371.9L245.9 372.1L245.5 372.3L245.1 372.4L244.7 372.6L244.3 372.7L243.9 372.9L243.5 373.0L243.1 373.1L242.7 373.2L242.3 373.3L241.9 373.4L241.5 373.5L241.1 373.6L240.7 373.7L240.3 373.8L239.9 373.9L239.5 373.9L239.1 374.0L238.7 374.0L238.3 374.1L237.9 374.1L237.5 374.1L237.1 374.1L236.7 374.1L236.3 374.0L235.9 374.0L235.5 374.0L235.1 373.9L234.7 373.9L234.3 373.9L233.9 373.8L233.5 373.8L233.1 373.8L232.7 373.7L232.3 373.7L231.9 373.7L231.5 373.6L231.1 373.6L230.7 373.5L230.3 373.5L229.9 373.5L229.5 373.4L229.1 373.4L228.7 373.3L228.3 373.3L227.9 373.2L227.5 373.2L227.1 373.2L226.7 373.1L226.3 373.1L225.9 373.1L225.5 373.1L225.1 373.1L224.7 373.1L224.3 373.1L223.9 373.1L223.5 373.1L223.1 373.1L222.7 373.1L222.3 373.1L221.9 373.2L221.5 373.2L221.1 373.2L220.7 373.3L220.3 373.3L219.9 373.4L219.5 373.4L219.1 373.5L218.7 373.5L218.3 373.6L217.9 373.7L217.5 373.8L217.1 373.8L216.7 373.9L216.3 374.0L215.9 374.1L215.5 374.2L215.1 374.3L214.7 374.5L214.3 374.6L213.9 374.7L213.5 374.9L213.1 375.0L212.7 375.1L212.3 375.3L211.9 375.4L211.5 375.5L211.1 375.6L210.7 375.7L210.3 375.8L209.9 375.9L209.5 375.9L209.1 376.0L208.7 376.1L208.3 376.2L207.9 376.2L207.5 376.2L207.1 376.3L206.7 376.3L206.3 376.4L205.9 376.4L205.5 376.4L205.1 376.4L204.7 376.5L204.3 376.5L203.9 376.5L203.5 376.5L203.1 376.5L202.7 376.5L202.3 376.5L201.9 376.5L201.5 376.5L201.1 376.5L200.7 376.5L200.3 376.5L199.9 376.4L199.5 376.4L199.1 376.4L198.7 376.3L198.3 376.3L197.9 376.2L197.5 376.2L197.1 376.1L196.7 376.1L196.3 376.0L195.9 375.9L195.5 375.9L195.1 375.8L194.7 375.7L194.3 375.6L193.9 375.5L193.5 375.4L193.1 375.3L192.7 375.2L192.3 375.0L191.9 374.9L191.5 374.7L191.1 374.6L190.7 374.4L190.3 374.2L189.9 374.0L189.5 373.8L189.1 373.6L188.7 373.5L188.3 373.3L187.9 373.1L187.5 372.9L187.1 372.7L186.7 372.5L186.3 372.3L185.9 372.1L185.5 371.9L185.1 371.7L184.7 371.5L184.3 371.3L183.9 371.1L183.5 370.9L183.1 370.6L182.7 370.4L182.3 370.1L181.9 369.8L181.5 369.5L181.1 369.2L180.7 369.0L180.3 368.7L179.9 368.4L179.5 368.2L179.1 367.9L178.7 367.6L178.3 367.3L177.9 367.0L177.5 366.7L177.1 366.4L176.7 366.1L176.3 365.8L175.9 365.4L175.5 365.1L175.1 364.7L174.7 364.4L174.3 364.0L173.9 363.6L173.5 363.2L173.1 362.8L172.7 362.3L172.3 361.9L171.9 361.5L171.5 361.0L171.1 360.6L170.7 360.2L170.3 359.7L169.9 359.2L169.5 358.8L169.1 358.3L168.7 357.9L168.3 357.4L167.9 356.9L167.5 356.5L167.1 356.0L166.7 355.6L166.3 355.2L165.9 354.8L165.5 354.4L165.1 354.1L164.7 353.9L164.3 353.8L163.9 353.6L163.5 353.5L163.1 353.4L162.7 353.4L162.3 353.5L161.9 353.6L161.5 353.7L161.1 353.9L160.7 354.1L160.3 354.4L159.9 354.7L159.5 355.1L159.1 355.5L158.7 356.0L158.3 356.5L157.9 357.1L157.5 357.8L157.1 358.4L156.7 359.1L156.3 359.7L155.9 360.4L155.5 361.1L155.1 361.9L154.7 362.6L154.3 363.3L153.9 364.0L153.5 364.6L153.1 365.3L152.7 366.0L152.3 366.7L151.9 367.2L151.5 367.7L151.1 368.1L150.7 368.6L150.3 369.0L149.9 369.3L149.5 369.6L149.1 369.7L148.7 369.8L148.3 369.9L147.9 369.9L147.5 369.9L147.1 370.0L146.7 370.0L146.3 370.0L145.9 370.0L145.5 369.9L145.1 369.9L144.7 369.8L144.3 369.8L143.9 369.7L143.5 369.7L143.1 369.7L142.7 369.7L142.3 369.7L141.9 369.7L141.5 369.6L141.1 369.6L140.7 369.5L140.3 369.5L139.9 369.4L139.5 369.3L139.1 369.2L138.7 369.1L138.3 369.0L137.9 368.9L137.5 368.8L137.1 368.7L136.7 368.6L136.3 368.4L135.9 368.3L135.5 368.2L135.1 368.1L134.7 367.9L134.3 367.8L133.9 367.7L133.5 367.5L133.1 367.4L132.7 367.3L132.3 367.2L131.9 367.0L131.5 366.9L131.1 366.8L130.7 366.6L130.3 366.5L129.9 366.4L129.5 366.3L129.1 366.2L128.7 366.2L128.3 366.2L127.9 366.3L127.5 366.3L127.1 366.4L126.7 366.5L126.3 366.5L125.9 366.6L125.5 366.8L125.1 366.9L124.7 367.1L124.3 367.3L123.9 367.4L123.5 367.6L123.1 367.7L122.7 367.8L122.3 367.9L121.9 368.0L121.5 368.1L121.1 368.2L120.7 368.3L120.3 368.4L119.9 368.5L119.5 368.6L119.1 368.7L118.7 368.9L118.3 369.0L117.9 369.1L117.5 369.2L117.1 369.3L116.7 369.3L116.3 369.4L115.9 369.5L115.5 369.5L115.1 369.6L114.7 369.7L114.3 369.7L113.9 369.8L113.5 369.8L113.1 369.9L112.7 369.9L112.3 370.0L111.9 370.1L111.5 370.1L111.1 370.2L110.7 370.3L110.3 370.3L109.9 370.3L109.5 370.3L109.1 370.3L108.7 370.3L108.3 370.2L107.9 370.2L107.5 370.1L107.1 370.0L106.7 370.0L106.3 369.9L105.9 369.7L105.5 369.6L105.1 369.5L104.7 369.3L104.3 369.1L103.9 368.9L103.5 368.7L103.1 368.5L102.7 368.2L102.3 368.0L101.9 367.7L101.5 367.4L101.1 367.1L100.7 366.8L100.3 366.5L99.9 366.2L99.5 365.9L99.1 365.6L98.7 365.3L98.3 365.0L97.9 364.7L97.5 364.4L97.1 364.1L96.7 363.7L96.3 363.4L95.9 363.0L95.5 362.6L95.1 362.3L94.7 361.9L94.3 361.6L93.9 361.3L93.5 360.9L93.1 360.6L92.7 360.2L92.3 359.8L91.9 359.4L91.5 358.9L91.1 358.4L90.7 357.8L90.3 357.3L89.9 356.7L89.5 356.2L89.1 355.6L88.7 355.0L88.3 354.4L87.9 353.8L87.5 353.2L87.1 352.6L86.7 352.0L86.3 351.4L85.9 350.9L85.5 350.3L85.1 349.7L84.7 349.0L84.3 348.5L83.9 348.3L83.5 348.1L83.1 348.0L82.7 348.0L82.3 348.1L81.9 348.3L81.5 348.7L81.1 349.0L80.7 349.7L80.3 350.6L79.9 351.6L79.5 352.7L79.1 354.0L78.7 355.6L78.3 357.2L77.9 359.0L77.5 360.8L77.1 362.7L76.7 364.8L76.3 366.7L75.9 368.4L75.5 369.8L75.1 371.2L74.7 372.5L74.3 373.5L73.9 374.4L73.5 375.1L73.1 375.8L72.7 376.3L72.3 376.8L71.9 377.3L71.5 377.7L71.1 378.1L70.7 378.5L70.3 378.8L69.9 379.1L69.5 379.3L69.1 379.5L68.7 379.6L68.3 379.7L67.9 379.8L67.5 379.9L67.1 379.9L66.7 380.0L66.3 380.0L65.9 380.1L65.5 380.1L65.1 380.1L64.7 380.1L64.3 380.2L63.9 380.2L63.5 380.2L63.1 380.2L62.7 380.2L62.3 380.2L61.9 380.2L61.5 380.3L61.1 380.3L60.7 380.3L60.3 380.3L59.9 380.3L59.5 380.3L59.1 380.3L58.7 380.3L58.3 380.3L57.9 380.3L57.5 380.4L57.1 380.4L56.7 380.4L56.3 380.4L55.9 380.4L55.5 380.4L55.1 380.4L54.7 380.4L54.3 380.4L53.9 380.4L53.5 380.4L53.1 380.4L52.7 380.4L52.3 380.4L51.9 380.5L51.5 380.5L51.1 380.5L50.7 380.5L50.3 380.5L49.9 380.5L49.5 380.5L49.1 380.5L48.7 380.5L48.3 380.5L47.9 380.5L47.5 380.5L47.1 380.5L46.7 380.5L46.3 380.5L45.9 380.5L45.5 380.5L45.1 380.5L44.7 380.5Z" fill="#1e1eb4" fill-opacity="0.48" stroke="none"/>
<path d="M44.7 380.2L45.1 380.2L45.5 380.2L45.9 380.2L46.3 380.2L46.7 380.2L47.1 380.2L47.5 380.2L47.9 380.2L48.3 380.2L48.7 380.2L49.1 380.2L49.5 380.2L49.9 380.2L50.3 380.2L50.7 380.2L51.1 380.2L51.5 380.2L51.9 380.2L52.3 380.2L52.7 380.2L53.1 380.2L53.5 380.2L53.9 380.2L54.3 380.2L54.7 380.2L55.1 380.1L55.5 380.1L55.9 380.1L56.3 380.1L56.7 380.1L57.1 380.1L57.5 380.1L57.9 380.1L58.3 380.1L58.7 380.1L59.1 380.1L59.5 380.1L59.9 380.0L60.3 380.0L60.7 380.0L61.1 380.0L61.5 380.0L61.9 380.0L62.3 380.0L62.7 380.0L63.1 379.9L63.5 379.9L63.9 379.9L64.3 379.9L64.7 379.9L65.1 379.9L65.5 379.8L65.9 379.8L66.3 379.8L66.7 379.7L67.1 379.7L67.5 379.6L67.9 379.5L68.3 379.4L68.7 379.3L69.1 379.2L69.5 379.0L69.9 378.8L70.3 378.5L70.7 378.1L71.1 377.8L71.5 377.4L71.9 376.9L72.3 376.5L72.7 375.9L73.1 375.3L73.5 374.6L73.9 373.9L74.3 373.0L74.7 371.8L75.1 370.5L75.5 369.0L75.9 367.4L76.3 365.6L76.7 363.4L77.1 361.1L77.5 358.9L77.9 356.8L78.3 354.8L78.7 352.8L79.1 351.0L79.5 349.4L79.9 348.0L80.3 346.8L80.7 345.7L81.1 344.9L81.5 344.4L81.9 344.1L82.3 343.8L82.7 343.6L83.1 343.6L83.5 343.7L83.9 344.0L84.3 344.3L84.7 344.9L85.1 345.7L85.5 346.4L85.9 347.2L86.3 347.9L86.7 348.6L87.1 349.3L87.5 350.0L87.9 350.8L88.3 351.5L88.7 352.2L89.1 352.9L89.5 353.6L89.9 354.2L90.3 354.9L90.7 355.5L91.1 356.1L91.5 356.7L91.9 357.3L92.3 357.8L92.7 358.3L93.1 358.7L93.5 359.1L93.9 359.5L94.3 359.8L94.7 360.2L95.1 360.6L95.5 361.0L95.9 361.4L96.3 361.8L96.7 362.2L97.1 362.6L97.5 363.0L97.9 363.4L98.3 363.7L98.7 364.0L99.1 364.4L99.5 364.7L99.9 365.0L100.3 365.4L100.7 365.7L101.1 366.0L101.5 366.4L101.9 366.7L102.3 367.0L102.7 367.2L103.1 367.5L103.5 367.8L103.9 368.0L104.3 368.2L104.7 368.4L105.1 368.6L105.5 368.8L105.9 368.9L106.3 369.0L106.7 369.1L107.1 369.2L107.5 369.3L107.9 369.4L108.3 369.4L108.7 369.5L109.1 369.5L109.5 369.5L109.9 369.5L110.3 369.5L110.7 369.5L111.1 369.4L111.5 369.3L111.9 369.3L112.3 369.2L112.7 369.1L113.1 369.1L113.5 369.0L113.9 368.9L114.3 368.9L114.7 368.8L115.1 368.8L115.5 368.7L115.9 368.6L116.3 368.5L116.7 368.5L117.1 368.4L117.5 368.3L117.9 368.2L118.3 368.1L118.7 367.9L119.1 367.8L119.5 367.7L119.9 367.5L120.3 367.4L120.7 367.3L121.1 367.2L121.5 367.1L121.9 367.0L122.3 366.9L122.7 366.8L123.1 366.7L123.5 366.5L123.9 366.4L124.3 366.2L124.7 366.0L125.1 365.8L125.5 365.6L125.9 365.5L126.3 365.4L126.7 365.3L127.1 365.2L127.5 365.1L127.9 365.1L128.3 365.0L128.7 365.0L129.1 365.0L129.5 365.1L129.9 365.2L130.3 365.3L130.7 365.5L131.1 365.7L131.5 365.8L131.9 365.9L132.3 366.1L132.7 366.2L133.1 366.4L133.5 366.5L133.9 366.6L134.3 366.8L134.7 366.9L135.1 367.1L135.5 367.2L135.9 367.3L136.3 367.5L136.7 367.6L137.1 367.7L137.5 367.9L137.9 368.0L138.3 368.1L138.7 368.2L139.1 368.3L139.5 368.4L139.9 368.5L140.3 368.6L140.7 368.7L141.1 368.7L141.5 368.8L141.9 368.8L142.3 368.8L142.7 368.8L143.1 368.9L143.5 368.9L143.9 368.9L144.3 368.9L144.7 369.0L145.1 369.0L145.5 369.1L145.9 369.1L146.3 369.2L146.7 369.2L147.1 369.1L147.5 369.1L147.9 369.1L148.3 369.0L148.7 369.0L149.1 368.9L149.5 368.7L149.9 368.4L150.3 368.1L150.7 367.6L151.1 367.1L151.5 366.7L151.9 366.1L152.3 365.5L152.7 364.8L153.1 364.0L153.5 363.3L153.9 362.5L154.3 361.7L154.7 360.9L155.1 360.1L155.5 359.3L155.9 358.5L156.3 357.7L156.7 356.9L157.1 356.2L157.5 355.4L157.9 354.7L158.3 353.9L158.7 353.3L159.1 352.8L159.5 352.3L159.9 351.8L160.3 351.4L160.7 351.1L161.1 350.8L161.5 350.6L161.9 350.5L162.3 350.3L162.7 350.3L163.1 350.3L163.5 350.4L163.9 350.5L164.3 350.7L164.7 350.9L165.1 351.1L165.5 351.5L165.9 351.9L166.3 352.4L166.7 352.9L167.1 353.3L167.5 353.9L167.9 354.4L168.3 355.0L168.7 355.5L169.1 356.1L169.5 356.6L169.9 357.1L170.3 357.7L170.7 358.2L171.1 358.7L171.5 359.2L171.9 359.7L172.3 360.2L172.7 360.7L173.1 361.2L173.5 361.6L173.9 362.1L174.3 362.5L174.7 363.0L175.1 363.4L175.5 363.8L175.9 364.2L176.3 364.5L176.7 364.9L177.1 365.3L177.5 365.6L177.9 365.9L178.3 366.3L178.7 366.6L179.1 366.9L179.5 367.2L179.9 367.5L180.3 367.8L180.7 368.1L181.1 368.4L181.5 368.7L181.9 369.0L182.3 369.3L182.7 369.6L183.1 369.8L183.5 370.1L183.9 370.4L184.3 370.6L184.7 370.8L185.1 371.1L185.5 371.3L185.9 371.5L186.3 371.7L186.7 371.9L187.1 372.1L187.5 372.3L187.9 372.5L188.3 372.7L188.7 372.9L189.1 373.1L189.5 373.3L189.9 373.5L190.3 373.7L190.7 373.9L191.1 374.0L191.5 374.2L191.9 374.4L192.3 374.5L192.7 374.7L193.1 374.8L193.5 374.9L193.9 375.1L194.3 375.2L194.7 375.3L195.1 375.3L195.5 375.4L195.9 375.5L196.3 375.6L196.7 375.6L197.1 375.7L197.5 375.7L197.9 375.8L198.3 375.9L198.7 375.9L199.1 376.0L199.5 376.0L199.9 376.0L200.3 376.1L200.7 376.1L201.1 376.1L201.5 376.1L201.9 376.1L202.3 376.1L202.7 376.1L203.1 376.1L203.5 376.1L203.9 376.1L204.3 376.1L204.7 376.1L205.1 376.0L205.5 376.0L205.9 376.0L206.3 376.0L206.7 375.9L207.1 375.9L207.5 375.8L207.9 375.8L208.3 375.7L208.7 375.7L209.1 375.6L209.5 375.5L209.9 375.4L210.3 375.3L210.7 375.2L211.1 375.1L211.5 375.0L211.9 374.9L212.3 374.8L212.7 374.7L213.1 374.5L213.5 374.4L213.9 374.2L214.3 374.1L214.7 373.9L215.1 373.8L215.5 373.7L215.9 373.6L216.3 373.5L216.7 373.4L217.1 373.3L217.5 373.2L217.9 373.1L218.3 373.0L218.7 373.0L219.1 372.9L219.5 372.9L219.9 372.8L220.3 372.7L220.7 372.7L221.1 372.6L221.5 372.6L221.9 372.6L222.3 372.6L222.7 372.6L223.1 372.6L223.5 372.6L223.9 372.6L224.3 372.6L224.7 372.6L225.1 372.6L225.5 372.6L225.9 372.6L226.3 372.6L226.7 372.6L227.1 372.6L227.5 372.6L227.9 372.6L228.3 372.7L228.7 372.7L229.1 372.8L229.5 372.8L229.9 372.9L230.3 372.9L230.7 373.0L231.1 373.0L231.5 373.1L231.9 373.1L232.3 373.1L232.7 373.2L233.1 373.2L233.5 373.3L233.9 373.3L234.3 373.3L234.7 373.4L235.1 373.4L235.5 373.4L235.9 373.5L236.3 373.5L236.7 373.5L237.1 373.5L237.5 373.6L237.9 373.6L238.3 373.5L238.7 373.5L239.1 373.5L239.5 373.4L239.9 373.3L240.3 373.2L240.7 373.1L241.1 373.0L241.5 373.0L241.9 372.9L242.3 372.8L242.7 372.7L243.1 372.5L243.5 372.4L243.9 372.3L244.3 372.1L244.7 372.0L245.1 371.8L245.5 371.6L245.9 371.4L246.3 371.2L246.7 370.9L247.1 370.7L247.5 370.4L247.9 370.1L248.3 369.8L248.7 369.5L249.1 369.2L249.5 368.9L249.9 368.6L250.3 368.2L250.7 367.9L251.1 367.6L251.5 367.2L251.9 366.9L252.3 366.5L252.7 366.2L253.1 365.9L253.5 365.5L253.9 365.2L254.3 364.8L254.7 364.5L255.1 364.2L255.5 363.9L255.9 363.6L256.3 363.4L256.7 363.1L257.1 362.8L257.5 362.6L257.9 362.4L258.3 362.3L258.7 362.2L259.1 362.3L259.5 362.4L259.9 362.6L260.3 362.8L260.7 363.0L261.1 363.3L261.5 363.7L261.9 364.1L262.3 364.6L262.7 365.0L263.1 365.5L263.5 365.9L263.9 366.3L264.3 366.7L264.7 367.1L265.1 367.5L265.5 367.9L265.9 368.3L266.3 368.7L266.7 369.1L267.1 369.5L267.5 369.9L267.9 370.3L268.3 370.6L268.7 370.9L269.1 371.2L269.5 371.5L269.9 371.8L270.3 372.1L270.7 372.4L271.1 372.7L271.5 373.0L271.9 373.4L272.3 373.7L272.7 373.9L273.1 374.2L273.5 374.4L273.9 374.7L274.3 374.9L274.7 375.1L275.1 375.3L275.5 375.4L275.9 375.5L276.3 375.7L276.7 375.8L277.1 375.9L277.5 376.0L277.9 376.0L278.3 376.1L278.7 376.2L279.1 376.3L279.5 376.3L279.9 376.4L280.3 376.5L280.7 376.5L281.1 376.6L281.5 376.7L281.9 376.7L282.3 376.7L282.7 376.8L283.1 376.8L283.5 376.8L283.9 376.8L284.3 376.8L284.7 376.9L285.1 376.9L285.5 377.0L285.9 377.1L286.3 377.7L286.7 377.7L287.1 377.7L287.5 377.7L287.9 377.7L288.3 377.7L288.7 377.7L289.1 377.7L289.5 377.7L289.9 377.7L290.3 377.7L290.7 377.7L291.1 377.7L291.5 377.7L291.9 377.7L292.3 377.7L292.7 377.7L293.1 377.6L293.5 377.6L293.9 377.6L294.3 377.5L294.7 377.5L295.1 377.4L295.5 377.4L295.9 377.4L296.3 377.3L296.7 377.3L297.1 377.3L297.5 377.3L297.9 377.3L298.3 377.2L298.7 377.2L299.1 377.2L299.5 377.2L299.9 377.2L300.3 377.1L300.7 377.1L301.1 377.1L301.5 377.1L301.9 377.1L302.3 377.0L302.7 377.0L303.1 377.0L303.5 376.9L303.9 376.9L304.3 376.9L304.7 376.8L305.1 376.8L305.5 376.8L305.9 376.7L306.3 376.7L306.7 376.7L307.1 376.7L307.5 376.6L307.9 376.6L308.3 376.5L308.7 376.5L309.1 376.5L309.5 376.4L309.9 376.4L310.3 376.4L310.7 376.3L311.1 376.3L311.5 376.3L311.9 376.3L312.3 376.3L312.7 376.3L313.1 376.3L313.5 376.3L313.9 376.3L314.3 376.3L314.7 376.3L315.1 376.3L315.5 376.3L315.9 376.3L316.3 376.3L316.7 376.3L317.1 376.3L317.5 376.3L317.9 376.3L318.3 376.3L318.7 376.3L319.1 376.3L319.5 376.3L319.9 376.3L320.3 376.3L320.7 376.3L321.1 376.3L321.5 376.3L321.9 376.3L322.3 376.3L322.7 376.3L323.1 376.3L323.5 376.3L323.9 376.2L324.3 376.2L324.7 376.2L325.1 376.1L325.5 376.1L325.5 376.1" fill="none" stroke="#1212b4" stroke-width="1.4" stroke-opacity="1" stroke-linejoin="round"/>
<g fill="#000"><circle cx="44.7" cy="380.0" r="0.8"/><circle cx="45.9" cy="380.0" r="0.8"/><circle cx="47.1" cy="380.2" r="0.8"/><circle cx="49.6" cy="380.0" r="0.8"/><circle cx="50.9" cy="380.0" r="0.8"/><circle cx="52.7" cy="380.0" r="0.8"/><circle cx="55.2" cy="380.2" r="0.8"/><circle cx="57.6" cy="380.1" r="0.8"/><circle cx="59.5" cy="380.2" r="0.8"/><circle cx="62.0" cy="380.0" r="0.8"/><circle cx="63.2" cy="380.2" r="0.8"/><circle cx="64.5" cy="380.1" r="0.8"/><circle cx="65.7" cy="380.2" r="0.8"/><circle cx="66.9" cy="380.0" r="0.8"/><circle cx="69.4" cy="379.8" r="0.8"/><circle cx="70.6" cy="379.5" r="0.8"/><circle cx="71.9" cy="379.4" r="0.8"/><circle cx="73.1" cy="379.1" r="0.8"/><circle cx="75.6" cy="378.9" r="0.8"/><circle cx="77.4" cy="337.3" r="0.8"/><circle cx="78.4" cy="379.9" r="0.8"/><circle cx="79.5" cy="352.6" r="0.8"/><circle cx="80.7" cy="364.1" r="0.8"/><circle cx="81.6" cy="368.5" r="0.8"/><circle cx="82.8" cy="334.5" r="0.8"/><circle cx="83.8" cy="340.3" r="0.8"/><circle cx="84.7" cy="336.4" r="0.8"/><circle cx="86.0" cy="348.4" r="0.8"/><circle cx="86.8" cy="323.8" r="0.8"/><circle cx="87.2" cy="340.8" r="0.8"/><circle cx="88.1" cy="363.6" r="0.8"/><circle cx="88.9" cy="364.4" r="0.8"/><circle cx="89.8" cy="337.1" r="0.8"/><circle cx="90.3" cy="366.0" r="0.8"/><circle cx="91.2" cy="359.7" r="0.8"/><circle cx="92.3" cy="361.8" r="0.8"/><circle cx="93.4" cy="368.6" r="0.8"/><circle cx="94.1" cy="362.6" r="0.8"/><circle cx="95.3" cy="359.4" r="0.8"/><circle cx="96.4" cy="369.7" r="0.8"/><circle cx="97.5" cy="370.1" r="0.8"/><circle cx="98.6" cy="357.5" r="0.8"/><circle cx="99.1" cy="362.3" r="0.8"/><circle cx="99.7" cy="354.1" r="0.8"/><circle cx="100.5" cy="356.3" r="0.8"/><circle cx="101.5" cy="367.2" r="0.8"/><circle cx="102.6" cy="371.4" r="0.8"/><circle cx="103.2" cy="368.2" r="0.8"/><circle cx="104.1" cy="363.5" r="0.8"/><circle cx="104.8" cy="364.8" r="0.8"/><circle cx="106.3" cy="373.9" r="0.8"/><circle cx="107.9" cy="368.9" r="0.8"/><circle cx="109.1" cy="374.1" r="0.8"/><circle cx="110.2" cy="371.2" r="0.8"/><circle cx="111.4" cy="373.6" r="0.8"/><circle cx="112.6" cy="367.6" r="0.8"/><circle cx="113.4" cy="362.3" r="0.8"/><circle cx="115.1" cy="374.2" r="0.8"/><circle cx="116.4" cy="366.7" r="0.8"/><circle cx="117.3" cy="364.8" r="0.8"/><circle cx="118.9" cy="374.2" r="0.8"/><circle cx="120.2" cy="371.4" r="0.8"/><circle cx="121.7" cy="366.7" r="0.8"/><circle cx="121.9" cy="359.4" r="0.8"/><circle cx="123.1" cy="374.7" r="0.8"/><circle cx="124.3" cy="362.9" r="0.8"/><circle cx="125.2" cy="362.6" r="0.8"/><circle cx="126.4" cy="371.9" r="0.8"/><circle cx="127.5" cy="365.8" r="0.8"/><circle cx="128.7" cy="371.0" r="0.8"/><circle cx="129.8" cy="347.1" r="0.8"/><circle cx="130.7" cy="237.3" r="0.8"/><circle cx="132.0" cy="358.7" r="0.8"/><circle cx="133.0" cy="368.6" r="0.8"/><circle cx="134.1" cy="365.8" r="0.8"/><circle cx="135.1" cy="348.1" r="0.8"/><circle cx="136.4" cy="366.0" r="0.8"/><circle cx="137.3" cy="369.4" r="0.8"/><circle cx="138.3" cy="371.0" r="0.8"/><circle cx="139.1" cy="370.1" r="0.8"/><circle cx="139.9" cy="374.0" r="0.8"/><circle cx="140.8" cy="364.7" r="0.8"/><circle cx="141.7" cy="371.2" r="0.8"/><circle cx="142.7" cy="373.6" r="0.8"/><circle cx="143.7" cy="370.0" r="0.8"/><circle cx="144.8" cy="357.6" r="0.8"/><circle cx="145.9" cy="368.6" r="0.8"/><circle cx="146.9" cy="368.9" r="0.8"/><circle cx="148.0" cy="360.7" r="0.8"/><circle cx="149.2" cy="379.9" r="0.8"/><circle cx="150.2" cy="366.3" r="0.8"/><circle cx="151.2" cy="364.5" r="0.8"/><circle cx="152.1" cy="358.2" r="0.8"/><circle cx="153.2" cy="364.0" r="0.8"/><circle cx="154.2" cy="362.4" r="0.8"/><circle cx="155.3" cy="368.5" r="0.8"/><circle cx="156.1" cy="366.8" r="0.8"/><circle cx="156.9" cy="358.2" r="0.8"/><circle cx="157.8" cy="360.3" r="0.8"/><circle cx="158.6" cy="360.9" r="0.8"/><circle cx="159.5" cy="363.8" r="0.8"/><circle cx="160.3" cy="337.3" r="0.8"/><circle cx="160.9" cy="242.6" r="0.8"/><circle cx="161.9" cy="332.8" r="0.8"/><circle cx="162.8" cy="337.0" r="0.8"/><circle cx="163.8" cy="369.2" r="0.8"/><circle cx="165.1" cy="340.2" r="0.8"/><circle cx="166.3" cy="375.5" r="0.8"/><circle cx="167.2" cy="360.7" r="0.8"/><circle cx="168.5" cy="341.1" r="0.8"/><circle cx="169.4" cy="371.7" r="0.8"/><circle cx="170.4" cy="358.7" r="0.8"/><circle cx="171.4" cy="326.3" r="0.8"/><circle cx="172.3" cy="365.4" r="0.8"/><circle cx="173.2" cy="367.0" r="0.8"/><circle cx="174.2" cy="364.9" r="0.8"/><circle cx="175.1" cy="366.2" r="0.8"/><circle cx="176.0" cy="367.9" r="0.8"/><circle cx="177.3" cy="362.2" r="0.8"/><circle cx="178.4" cy="373.4" r="0.8"/><circle cx="179.4" cy="367.9" r="0.8"/><circle cx="180.5" cy="363.5" r="0.8"/><circle cx="181.3" cy="367.3" r="0.8"/><circle cx="182.1" cy="369.9" r="0.8"/><circle cx="183.0" cy="374.8" r="0.8"/><circle cx="183.9" cy="374.5" r="0.8"/><circle cx="184.9" cy="366.6" r="0.8"/><circle cx="185.8" cy="370.3" r="0.8"/><circle cx="186.8" cy="376.1" r="0.8"/><circle cx="187.7" cy="374.2" r="0.8"/><circle cx="188.6" cy="374.5" r="0.8"/><circle cx="189.6" cy="376.3" r="0.8"/><circle cx="190.5" cy="376.7" r="0.8"/><circle cx="191.4" cy="376.9" r="0.8"/><circle cx="192.2" cy="375.1" r="0.8"/><circle cx="193.0" cy="375.5" r="0.8"/><circle cx="194.0" cy="373.3" r="0.8"/><circle cx="194.9" cy="377.4" r="0.8"/><circle cx="195.9" cy="374.6" r="0.8"/><circle cx="196.8" cy="373.6" r="0.8"/><circle cx="197.8" cy="376.4" r="0.8"/><circle cx="198.7" cy="377.7" r="0.8"/><circle cx="199.7" cy="379.1" r="0.8"/><circle cx="200.6" cy="379.6" r="0.8"/><circle cx="201.9" cy="372.9" r="0.8"/><circle cx="202.8" cy="375.1" r="0.8"/><circle cx="203.8" cy="376.1" r="0.8"/><circle cx="205.0" cy="377.3" r="0.8"/><circle cx="206.0" cy="376.5" r="0.8"/><circle cx="206.9" cy="374.8" r="0.8"/><circle cx="207.9" cy="376.8" r="0.8"/><circle cx="208.8" cy="379.9" r="0.8"/><circle cx="209.8" cy="376.2" r="0.8"/><circle cx="210.7" cy="376.3" r="0.8"/><circle cx="211.6" cy="377.5" r="0.8"/><circle cx="212.6" cy="377.3" r="0.8"/><circle cx="213.5" cy="377.0" r="0.8"/><circle cx="214.5" cy="375.5" r="0.8"/><circle cx="215.4" cy="373.0" r="0.8"/><circle cx="216.4" cy="371.7" r="0.8"/><circle cx="217.3" cy="374.7" r="0.8"/><circle cx="218.3" cy="374.8" r="0.8"/><circle cx="219.2" cy="374.9" r="0.8"/><circle cx="220.2" cy="375.5" r="0.8"/><circle cx="220.8" cy="365.8" r="0.8"/><circle cx="221.7" cy="373.5" r="0.8"/><circle cx="222.7" cy="374.2" r="0.8"/><circle cx="223.9" cy="376.1" r="0.8"/><circle cx="225.2" cy="367.0" r="0.8"/><circle cx="225.8" cy="379.9" r="0.8"/><circle cx="226.8" cy="375.9" r="0.8"/><circle cx="227.7" cy="374.8" r="0.8"/><circle cx="228.8" cy="372.3" r="0.8"/><circle cx="229.8" cy="365.0" r="0.8"/><circle cx="231.5" cy="378.6" r="0.8"/><circle cx="232.4" cy="370.7" r="0.8"/><circle cx="233.4" cy="376.1" r="0.8"/><circle cx="234.2" cy="373.2" r="0.8"/><circle cx="235.1" cy="376.4" r="0.8"/><circle cx="235.9" cy="371.7" r="0.8"/><circle cx="236.8" cy="374.7" r="0.8"/><circle cx="237.8" cy="375.5" r="0.8"/><circle cx="238.6" cy="375.9" r="0.8"/><circle cx="239.5" cy="374.9" r="0.8"/><circle cx="240.3" cy="379.6" r="0.8"/><circle cx="241.8" cy="376.1" r="0.8"/><circle cx="243.5" cy="379.2" r="0.8"/><circle cx="244.3" cy="369.7" r="0.8"/><circle cx="245.1" cy="373.4" r="0.8"/><circle cx="246.0" cy="369.2" r="0.8"/><circle cx="246.9" cy="372.5" r="0.8"/><circle cx="247.9" cy="373.6" r="0.8"/><circle cx="248.8" cy="368.9" r="0.8"/><circle cx="249.7" cy="372.3" r="0.8"/><circle cx="250.8" cy="369.8" r="0.8"/><circle cx="251.9" cy="353.4" r="0.8"/><circle cx="252.6" cy="376.1" r="0.8"/><circle cx="253.1" cy="362.2" r="0.8"/><circle cx="254.8" cy="368.5" r="0.8"/><circle cx="255.6" cy="367.7" r="0.8"/><circle cx="256.5" cy="365.0" r="0.8"/><circle cx="257.3" cy="351.5" r="0.8"/><circle cx="258.6" cy="359.1" r="0.8"/><circle cx="259.8" cy="355.7" r="0.8"/><circle cx="260.7" cy="363.4" r="0.8"/><circle cx="261.5" cy="364.7" r="0.8"/><circle cx="262.3" cy="369.2" r="0.8"/><circle cx="263.3" cy="367.0" r="0.8"/><circle cx="264.2" cy="366.0" r="0.8"/><circle cx="265.3" cy="367.7" r="0.8"/><circle cx="266.3" cy="373.5" r="0.8"/><circle cx="267.4" cy="358.2" r="0.8"/><circle cx="268.0" cy="365.4" r="0.8"/><circle cx="269.0" cy="371.9" r="0.8"/><circle cx="269.9" cy="369.8" r="0.8"/><circle cx="270.8" cy="375.4" r="0.8"/><circle cx="271.8" cy="373.6" r="0.8"/><circle cx="272.7" cy="372.1" r="0.8"/><circle cx="273.7" cy="372.9" r="0.8"/><circle cx="274.6" cy="378.0" r="0.8"/><circle cx="275.6" cy="376.1" r="0.8"/><circle cx="276.5" cy="375.4" r="0.8"/><circle cx="277.5" cy="374.8" r="0.8"/><circle cx="279.1" cy="377.6" r="0.8"/><circle cx="280.6" cy="378.0" r="0.8"/><circle cx="281.2" cy="373.6" r="0.8"/><circle cx="282.2" cy="377.8" r="0.8"/><circle cx="283.1" cy="376.1" r="0.8"/><circle cx="284.4" cy="378.0" r="0.8"/><circle cx="286.0" cy="377.0" r="0.8"/><circle cx="287.2" cy="378.7" r="0.8"/><circle cx="288.5" cy="376.5" r="0.8"/><circle cx="289.7" cy="377.6" r="0.8"/><circle cx="290.9" cy="377.7" r="0.8"/><circle cx="292.2" cy="377.7" r="0.8"/><circle cx="293.4" cy="378.3" r="0.8"/><circle cx="294.7" cy="376.1" r="0.8"/><circle cx="295.9" cy="378.1" r="0.8"/><circle cx="297.1" cy="377.1" r="0.8"/><circle cx="298.4" cy="377.4" r="0.8"/><circle cx="299.6" cy="376.7" r="0.8"/><circle cx="300.8" cy="378.1" r="0.8"/><circle cx="301.8" cy="377.6" r="0.8"/><circle cx="302.7" cy="376.1" r="0.8"/><circle cx="303.9" cy="377.5" r="0.8"/><circle cx="305.2" cy="376.2" r="0.8"/><circle cx="306.1" cy="378.9" r="0.8"/><circle cx="307.0" cy="378.3" r="0.8"/><circle cx="308.3" cy="368.5" r="0.8"/><circle cx="309.5" cy="377.8" r="0.8"/><circle cx="310.4" cy="377.5" r="0.8"/><circle cx="311.4" cy="378.2" r="0.8"/><circle cx="312.6" cy="378.4" r="0.8"/><circle cx="313.8" cy="375.8" r="0.8"/><circle cx="315.1" cy="377.3" r="0.8"/><circle cx="316.0" cy="376.5" r="0.8"/><circle cx="316.9" cy="377.6" r="0.8"/><circle cx="318.2" cy="377.2" r="0.8"/><circle cx="319.4" cy="378.1" r="0.8"/><circle cx="320.6" cy="376.6" r="0.8"/><circle cx="321.9" cy="376.8" r="0.8"/><circle cx="323.1" cy="377.3" r="0.8"/><circle cx="324.0" cy="375.5" r="0.8"/><circle cx="325.0" cy="378.2" r="0.8"/><circle cx="325.3" cy="370.8" r="0.8"/></g></g>
<rect x="31.0" y="230.4" width="308.5" height="156.8" fill="none" stroke="#333" stroke-width="0.65"/>
<rect x="31.0" y="213.4" width="308.5" height="17.0" fill="#fff" stroke="#333" stroke-width="0.65"/>
<text x="185.2" y="225.2" text-anchor="middle" font-size="8.75" fill="#1a1a1a">(c) Wastewater</text>
<line x1="28.1" x2="31.0" y1="380.3" y2="380.3" stroke="#333" stroke-width="0.85"/>
<text x="25.4" y="383.3" text-anchor="end" font-size="8.70" fill="#4d4d4d">0e+00</text>
<line x1="28.1" x2="31.0" y1="341.4" y2="341.4" stroke="#333" stroke-width="0.85"/>
<text x="25.4" y="344.4" text-anchor="end" font-size="8.70" fill="#4d4d4d">3e+07</text>
<line x1="28.1" x2="31.0" y1="302.4" y2="302.4" stroke="#333" stroke-width="0.85"/>
<text x="25.4" y="305.4" text-anchor="end" font-size="8.70" fill="#4d4d4d">6e+07</text>
<line x1="28.1" x2="31.0" y1="263.5" y2="263.5" stroke="#333" stroke-width="0.85"/>
<text x="25.4" y="266.5" text-anchor="end" font-size="8.70" fill="#4d4d4d">9e+07</text>
<line x1="44.5" x2="44.5" y1="387.2" y2="390.1" stroke="#333" stroke-width="0.85"/>
<text x="44.5" y="398.9" text-anchor="middle" font-size="8.70" fill="#4d4d4d">2022-01</text>
<line x1="156.4" x2="156.4" y1="387.2" y2="390.1" stroke="#333" stroke-width="0.85"/>
<text x="156.4" y="398.9" text-anchor="middle" font-size="8.70" fill="#4d4d4d">2022-07</text>
<line x1="270.2" x2="270.2" y1="387.2" y2="390.1" stroke="#333" stroke-width="0.85"/>
<text x="270.2" y="398.9" text-anchor="middle" font-size="8.70" fill="#4d4d4d">2023-01</text>
<rect x="375.5" y="230.4" width="307.9" height="156.8" fill="#fff"/>
<line x1="375.5" x2="683.4" y1="359.8" y2="359.8" stroke="#ebebeb" stroke-width="0.5"/>
<line x1="375.5" x2="683.4" y1="318.4" y2="318.4" stroke="#ebebeb" stroke-width="0.5"/>
<line x1="375.5" x2="683.4" y1="277.0" y2="277.0" stroke="#ebebeb" stroke-width="0.5"/>
<line x1="375.5" x2="683.4" y1="235.6" y2="235.6" stroke="#ebebeb" stroke-width="0.5"/>
<line x1="445.0" x2="445.0" y1="230.4" y2="387.2" stroke="#ebebeb" stroke-width="0.5"/>
<line x1="557.8" x2="557.8" y1="230.4" y2="387.2" stroke="#ebebeb" stroke-width="0.5"/>
<line x1="670.7" x2="670.7" y1="230.4" y2="387.2" stroke="#ebebeb" stroke-width="0.5"/>
<line x1="375.5" x2="683.4" y1="380.5" y2="380.5" stroke="#ebebeb" stroke-width="1.0"/>
<line x1="375.5" x2="683.4" y1="339.1" y2="339.1" stroke="#ebebeb" stroke-width="1.0"/>
<line x1="375.5" x2="683.4" y1="297.7" y2="297.7" stroke="#ebebeb" stroke-width="1.0"/>
<line x1="375.5" x2="683.4" y1="256.3" y2="256.3" stroke="#ebebeb" stroke-width="1.0"/>
<line x1="389.0" x2="389.0" y1="230.4" y2="387.2" stroke="#ebebeb" stroke-width="1.0"/>
<line x1="500.9" x2="500.9" y1="230.4" y2="387.2" stroke="#ebebeb" stroke-width="1.0"/>
<line x1="614.7" x2="614.7" y1="230.4" y2="387.2" stroke="#ebebeb" stroke-width="1.0"/>
<g clip-path="url(#cp_d)"><path d="M389.1 379.7L389.7 379.7L390.3 379.7L390.9 379.7L391.5 379.7L392.1 379.7L392.8 379.7L393.4 379.7L394.0 379.7L394.6 379.7L395.2 379.7L395.9 379.7L396.5 379.7L397.1 379.6L397.7 379.6L398.3 379.6L398.9 379.6L399.6 379.6L400.2 379.6L400.8 379.6L401.4 379.6L402.0 379.6L402.7 379.6L403.3 379.6L403.9 379.6L404.5 379.6L405.1 379.5L405.7 379.5L406.4 379.5L407.0 379.4L407.6 379.3L408.2 379.3L408.8 379.2L409.5 379.1L410.1 379.0L410.7 378.8L411.3 378.6L411.9 378.4L412.5 378.1L413.2 377.7L413.8 377.1L414.4 376.5L415.0 375.8L415.6 375.1L416.3 374.3L416.9 373.3L417.5 372.3L418.1 371.1L418.7 369.7L419.3 367.8L420.0 364.6L420.6 358.8L421.2 350.4L421.8 340.9L422.4 332.0L422.7 320.6L423.0 309.9L423.3 301.7L423.6 295.8L423.9 290.8L424.2 287.2L424.5 283.2L424.8 275.5L425.1 264.4L425.4 257.9L425.7 253.9L426.0 251.0L426.3 248.7L426.6 246.6L426.9 244.4L427.2 242.3L427.5 240.3L427.8 238.9L428.1 238.1L428.4 238.3L428.7 239.3L429.0 240.8L429.3 242.5L429.6 243.9L429.9 245.1L430.2 246.0L430.5 246.9L430.8 247.8L431.1 248.7L431.4 249.9L431.7 251.2L432.0 252.9L432.3 254.8L432.6 257.0L432.9 259.6L433.2 262.5L433.5 264.6L433.8 266.0L434.1 267.3L434.4 268.3L434.7 269.2L435.0 270.0L435.3 270.7L435.6 271.2L435.9 271.6L436.2 271.9L436.5 272.2L436.8 272.5L437.1 273.0L437.4 273.7L437.7 275.2L438.0 277.0L438.3 278.9L438.6 280.4L438.9 281.7L439.2 282.8L439.5 284.0L439.8 285.1L440.1 286.3L440.4 287.5L440.7 288.8L441.0 290.1L441.3 291.4L441.6 292.8L441.9 294.2L442.2 295.8L442.5 297.6L442.8 299.7L443.1 301.9L443.4 304.1L443.7 306.1L444.0 307.9L444.3 309.7L444.6 311.5L444.9 313.2L445.2 315.0L445.5 316.8L445.8 318.6L446.1 320.4L446.4 322.2L446.7 324.0L447.0 325.8L447.3 327.6L447.6 329.9L447.9 331.8L448.2 332.5L448.5 332.9L448.8 333.3L449.1 333.6L449.4 333.8L449.7 334.0L450.0 334.2L450.3 334.4L450.6 334.6L450.9 334.8L451.2 335.0L451.5 335.1L451.8 335.3L452.1 335.4L452.4 335.6L452.7 335.7L453.0 335.8L453.3 336.0L453.6 336.1L453.9 336.2L454.2 336.4L454.5 336.5L454.8 336.6L455.1 336.8L455.4 337.0L455.7 337.2L456.0 337.4L456.3 337.6L456.6 337.9L456.9 338.2L457.2 338.5L457.5 338.8L457.8 339.1L458.1 339.4L458.4 339.6L458.7 339.9L459.0 340.2L459.3 340.4L459.6 340.5L459.9 340.7L460.2 340.8L460.5 340.8L460.8 340.8L461.1 340.8L461.4 340.8L461.7 340.8L462.0 340.8L462.3 340.8L462.6 340.8L462.9 340.8L463.2 340.8L463.5 340.8L463.8 340.8L464.1 340.8L464.4 340.8L464.7 340.8L465.0 340.8L465.3 340.8L465.6 340.8L465.9 340.8L466.2 340.8L466.5 340.8L466.8 340.7L467.1 340.7L467.4 340.6L467.7 340.6L468.0 340.5L468.3 340.4L468.6 340.3L468.9 340.3L469.2 340.2L469.5 340.1L469.8 340.0L470.1 339.9L470.4 339.8L470.7 339.7L471.0 339.6L471.0 339.6L471.3 338.9L471.9 339.0L472.5 339.4L473.1 339.9L473.7 340.6L474.3 341.4L475.0 342.2L475.6 343.0L476.2 343.7L476.8 344.4L477.4 344.8L478.1 345.1L478.7 345.3L479.3 345.3L479.9 345.3L480.5 345.3L481.1 345.4L481.8 345.6L482.4 345.9L483.0 346.3L483.6 346.8L484.2 347.3L484.8 347.9L485.5 348.5L486.1 349.1L486.7 349.7L487.3 350.4L487.9 351.1L488.6 351.8L489.2 352.6L489.8 353.3L490.4 353.9L491.0 354.5L491.6 354.9L492.3 355.3L492.9 355.6L493.5 355.9L494.1 356.2L494.7 355.9L495.4 355.1L496.0 354.0L496.6 352.8L497.2 351.2L497.8 349.4L498.4 347.5L499.1 345.9L499.7 344.6L500.3 343.3L500.9 341.9L501.5 340.5L502.2 338.9L502.8 337.3L503.4 335.8L504.0 334.3L504.6 333.0L505.2 332.0L505.9 331.3L506.5 330.9L507.1 330.8L507.7 331.1L508.3 331.7L509.0 332.6L509.6 333.6L510.2 334.6L510.8 335.7L511.4 336.8L512.0 337.9L512.7 338.8L513.3 339.6L513.9 340.5L514.5 341.4L515.1 342.4L515.7 343.4L516.4 344.4L517.0 345.5L517.6 346.6L518.2 347.8L518.8 349.0L519.5 350.1L520.1 351.2L520.7 352.3L521.3 353.3L521.9 354.3L522.5 355.2L523.2 356.1L523.8 357.0L524.4 357.8L525.0 358.6L525.6 359.4L526.3 360.0L526.9 360.5L527.5 360.9L528.1 361.2L528.7 361.5L529.3 361.8L530.0 362.3L530.6 362.8L531.2 363.5L531.8 364.3L532.4 365.3L533.1 366.2L533.7 367.0L534.3 367.8L534.9 368.4L535.5 369.0L536.1 369.5L536.8 369.9L537.4 370.3L538.0 370.6L538.6 370.8L539.2 371.1L539.9 371.3L540.5 371.5L541.1 371.6L541.7 371.8L542.3 372.0L542.9 372.1L543.6 372.3L544.2 372.5L544.8 372.6L545.4 372.8L546.0 373.0L546.6 373.2L547.3 373.4L547.9 373.5L548.5 373.6L549.1 373.7L549.7 373.7L550.4 373.7L551.0 373.6L551.6 373.6L552.2 373.7L552.8 373.8L553.4 373.8L554.1 373.7L554.7 373.5L555.3 373.4L555.9 373.2L556.5 372.9L557.2 372.7L557.8 372.5L558.4 372.4L559.0 372.4L559.6 372.3L560.2 372.1L560.9 372.0L561.5 371.8L562.1 371.5L562.7 371.2L563.3 370.9L564.0 370.6L564.6 370.2L565.2 369.9L565.8 369.6L566.4 369.3L567.0 369.1L567.7 369.0L568.3 368.9L568.9 368.8L569.5 368.7L570.1 368.4L570.8 367.9L571.4 367.4L572.0 366.8L572.6 366.3L573.2 365.8L573.8 365.3L574.5 365.2L575.1 365.3L575.7 365.5L576.3 365.7L576.9 365.9L577.5 366.1L578.2 366.2L578.8 366.3L579.4 366.3L580.0 366.2L580.6 366.1L581.3 365.9L581.9 365.6L582.5 365.4L583.1 365.2L583.7 365.1L584.3 365.0L585.0 364.8L585.6 364.5L586.2 364.2L586.8 363.9L587.4 363.6L588.1 363.2L588.7 362.9L589.3 362.6L589.9 362.3L590.5 361.9L591.1 361.4L591.8 360.8L592.4 360.1L593.0 359.3L593.6 358.6L594.2 357.9L594.9 357.3L595.5 356.7L596.1 356.1L596.7 355.5L597.3 354.8L597.9 354.3L598.6 353.7L599.2 353.0L599.8 352.2L600.4 351.4L601.0 350.8L601.7 350.4L602.3 350.3L602.9 350.5L603.5 350.9L604.1 351.7L604.7 352.8L605.4 353.9L606.0 355.1L606.6 356.3L607.2 357.5L607.8 358.8L608.4 360.1L609.1 361.2L609.7 362.0L610.3 362.6L610.9 363.0L611.5 363.4L612.2 363.8L612.8 364.1L613.4 364.2L614.0 364.2L614.6 364.3L615.2 364.4L615.9 364.3L616.5 364.1L617.1 363.9L617.7 364.1L618.3 364.5L619.0 365.0L619.6 365.6L620.2 366.2L620.8 366.9L621.4 367.5L622.0 368.1L622.7 368.6L623.3 369.1L623.9 369.6L624.5 370.1L625.1 370.5L625.8 370.9L626.4 371.3L627.0 371.7L627.6 372.0L628.2 372.4L628.8 372.7L629.5 373.0L630.1 373.2L630.7 373.5L631.3 373.7L631.9 373.9L632.6 374.0L633.2 374.2L633.8 374.3L634.4 374.4L635.0 374.5L635.6 374.6L636.3 374.7L636.9 374.7L637.5 374.8L638.1 374.8L638.7 374.8L639.3 374.8L640.0 374.8L640.6 374.8L641.2 374.8L641.8 374.8L642.4 374.7L643.1 374.6L643.7 374.5L644.3 374.4L644.9 374.2L645.5 374.0L646.1 373.7L646.8 373.4L647.4 373.2L648.0 372.9L648.6 372.7L649.2 372.5L649.9 372.4L650.5 372.3L651.1 372.2L651.7 372.2L652.3 372.1L652.9 372.1L653.6 372.1L654.2 372.0L654.8 372.0L655.4 372.0L656.0 372.0L656.7 372.0L657.3 372.0L657.9 372.1L658.5 372.1L659.1 372.2L659.7 372.2L660.4 372.3L661.0 372.3L661.6 372.3L662.2 372.4L662.8 372.4L663.5 372.3L664.1 372.3L664.7 372.2L665.3 372.1L665.9 372.0L666.5 372.0L667.2 371.9L667.8 371.8L668.4 371.8L669.0 371.9L669.6 371.9L669.6 374.4L669.0 374.4L668.4 374.3L667.8 374.3L667.2 374.4L666.5 374.4L665.9 374.5L665.3 374.6L664.7 374.7L664.1 374.7L663.5 374.7L662.8 374.8L662.2 374.8L661.6 374.8L661.0 374.7L660.4 374.7L659.7 374.7L659.1 374.6L658.5 374.6L657.9 374.5L657.3 374.5L656.7 374.5L656.0 374.5L655.4 374.5L654.8 374.5L654.2 374.5L653.6 374.5L652.9 374.6L652.3 374.6L651.7 374.6L651.1 374.7L650.5 374.7L649.9 374.8L649.2 374.9L648.6 375.1L648.0 375.3L647.4 375.5L646.8 375.7L646.1 375.9L645.5 376.1L644.9 376.3L644.3 376.4L643.7 376.5L643.1 376.6L642.4 376.7L641.8 376.8L641.2 376.8L640.6 376.8L640.0 376.8L639.3 376.8L638.7 376.8L638.1 376.8L637.5 376.8L636.9 376.7L636.3 376.7L635.6 376.6L635.0 376.6L634.4 376.5L633.8 376.4L633.2 376.3L632.6 376.2L631.9 376.0L631.3 375.9L630.7 375.7L630.1 375.5L629.5 375.3L628.8 375.1L628.2 374.8L627.6 374.6L627.0 374.3L626.4 374.0L625.8 373.7L625.1 373.3L624.5 373.0L623.9 372.6L623.3 372.2L622.7 371.8L622.0 371.4L621.4 370.9L620.8 370.4L620.2 369.9L619.6 369.4L619.0 368.9L618.3 368.5L617.7 368.2L617.1 368.0L616.5 368.2L615.9 368.4L615.2 368.4L614.6 368.4L614.0 368.3L613.4 368.3L612.8 368.2L612.2 368.0L611.5 367.6L610.9 367.3L610.3 367.0L609.7 366.5L609.1 365.9L608.4 365.0L607.8 364.0L607.2 362.9L606.6 362.0L606.0 361.0L605.4 360.1L604.7 359.1L604.1 358.3L603.5 357.6L602.9 357.3L602.3 357.2L601.7 357.3L601.0 357.6L600.4 358.1L599.8 358.7L599.2 359.4L598.6 359.9L597.9 360.4L597.3 360.8L596.7 361.3L596.1 361.8L595.5 362.3L594.9 362.8L594.2 363.3L593.6 363.8L593.0 364.4L592.4 365.0L591.8 365.6L591.1 366.1L590.5 366.5L589.9 366.8L589.3 367.0L588.7 367.3L588.1 367.5L587.4 367.8L586.8 368.1L586.2 368.3L585.6 368.6L585.0 368.8L584.3 369.0L583.7 369.1L583.1 369.2L582.5 369.3L581.9 369.5L581.3 369.7L580.6 369.8L580.0 369.9L579.4 370.0L578.8 370.0L578.2 369.9L577.5 369.8L576.9 369.7L576.3 369.5L575.7 369.4L575.1 369.2L574.5 369.1L573.8 369.3L573.2 369.6L572.6 370.0L572.0 370.5L571.4 370.9L570.8 371.3L570.1 371.7L569.5 371.9L568.9 372.0L568.3 372.1L567.7 372.1L567.0 372.3L566.4 372.4L565.8 372.6L565.2 372.9L564.6 373.1L564.0 373.4L563.3 373.7L562.7 374.0L562.1 374.2L561.5 374.4L560.9 374.6L560.2 374.7L559.6 374.8L559.0 374.9L558.4 374.9L557.8 375.0L557.2 375.1L556.5 375.4L555.9 375.6L555.3 375.7L554.7 375.9L554.1 376.0L553.4 376.0L552.8 376.0L552.2 376.0L551.6 375.9L551.0 376.0L550.4 376.0L549.7 376.0L549.1 376.0L548.5 376.0L547.9 375.9L547.3 375.8L546.6 375.6L546.0 375.5L545.4 375.4L544.8 375.2L544.2 375.1L543.6 375.0L542.9 374.8L542.3 374.7L541.7 374.6L541.1 374.5L540.5 374.3L539.9 374.2L539.2 374.0L538.6 373.8L538.0 373.7L537.4 373.4L536.8 373.2L536.1 372.8L535.5 372.5L534.9 372.0L534.3 371.5L533.7 370.9L533.1 370.3L532.4 369.6L531.8 368.9L531.2 368.3L530.6 367.8L530.0 367.4L529.3 367.0L528.7 366.8L528.1 366.6L527.5 366.3L526.9 366.1L526.3 365.7L525.6 365.2L525.0 364.6L524.4 364.0L523.8 363.4L523.2 362.8L522.5 362.1L521.9 361.4L521.3 360.7L520.7 359.9L520.1 359.1L519.5 358.3L518.8 357.5L518.2 356.6L517.6 355.7L517.0 354.9L516.4 354.1L515.7 353.3L515.1 352.6L514.5 351.9L513.9 351.3L513.3 350.6L512.7 350.0L512.0 349.3L511.4 348.6L510.8 347.8L510.2 347.0L509.6 346.2L509.0 345.5L508.3 344.9L507.7 344.5L507.1 344.3L506.5 344.4L505.9 344.7L505.2 345.3L504.6 346.1L504.0 347.0L503.4 348.2L502.8 349.3L502.2 350.5L501.5 351.7L500.9 352.8L500.3 353.9L499.7 354.9L499.1 355.9L498.4 357.2L497.8 358.7L497.2 360.1L496.6 361.3L496.0 362.3L495.4 363.1L494.7 363.8L494.1 364.0L493.5 363.8L492.9 363.6L492.3 363.3L491.6 363.0L491.0 362.7L490.4 362.3L489.8 361.9L489.2 361.4L488.6 360.8L487.9 360.3L487.3 359.8L486.7 359.3L486.1 358.9L485.5 358.5L484.8 358.0L484.2 357.6L483.6 357.2L483.0 356.9L482.4 356.6L481.8 356.4L481.1 356.2L480.5 356.2L479.9 356.2L479.3 356.2L478.7 356.1L478.1 356.0L477.4 355.8L476.8 355.5L476.2 355.0L475.6 354.5L475.0 354.0L474.3 353.4L473.7 352.8L473.1 352.3L472.5 351.9L471.9 351.7L471.3 351.6L471.0 350.9L471.0 350.9L470.7 351.1L470.4 351.4L470.1 351.6L469.8 351.8L469.5 352.0L469.2 352.2L468.9 352.4L468.6 352.5L468.3 352.7L468.0 352.8L467.7 353.0L467.4 353.1L467.1 353.2L466.8 353.3L466.5 353.3L466.2 353.4L465.9 353.4L465.6 353.4L465.3 353.4L465.0 353.4L464.7 353.4L464.4 353.3L464.1 353.3L463.8 353.3L463.5 353.2L463.2 353.2L462.9 353.1L462.6 353.1L462.3 353.0L462.0 353.0L461.7 352.9L461.4 352.9L461.1 352.9L460.8 352.8L460.5 352.8L460.2 352.7L459.9 352.7L459.6 352.7L459.3 352.6L459.0 352.6L458.7 352.6L458.4 352.5L458.1 352.5L457.8 352.5L457.5 352.4L457.2 352.4L456.9 352.4L456.6 352.3L456.3 352.3L456.0 352.2L455.7 352.2L455.4 352.1L455.1 352.1L454.8 352.0L454.5 351.9L454.2 351.8L453.9 351.7L453.6 351.6L453.3 351.5L453.0 351.4L452.7 351.3L452.4 351.2L452.1 351.0L451.8 350.9L451.5 350.8L451.2 350.6L450.9 350.5L450.6 350.3L450.3 350.2L450.0 350.0L449.7 349.7L449.4 349.5L449.1 349.3L448.8 349.0L448.5 348.7L448.2 348.4L447.9 348.2L447.6 347.9L447.3 347.6L447.0 347.3L446.7 347.1L446.4 346.9L446.1 346.7L445.8 346.5L445.5 346.3L445.2 346.1L444.9 345.9L444.6 345.6L444.3 345.3L444.0 345.0L443.7 344.5L443.4 344.0L443.1 343.5L442.8 342.9L442.5 342.4L442.2 341.9L441.9 341.5L441.6 341.1L441.3 340.7L441.0 340.3L440.7 339.9L440.4 339.6L440.1 339.2L439.8 338.9L439.5 338.6L439.2 338.3L438.9 338.1L438.6 337.8L438.3 337.6L438.0 337.4L437.7 337.2L437.4 337.0L437.1 336.8L436.8 336.6L436.5 336.5L436.2 336.3L435.9 336.1L435.6 335.9L435.3 335.7L435.0 335.6L434.7 335.4L434.4 335.3L434.1 335.1L433.8 335.0L433.5 334.9L433.2 334.8L432.9 334.6L432.6 334.5L432.3 334.4L432.0 334.3L431.7 334.1L431.4 334.0L431.1 333.8L430.8 333.6L430.5 333.4L430.2 333.2L429.9 332.9L429.6 332.6L429.3 332.3L429.0 331.9L428.7 330.7L428.4 329.2L428.1 327.8L427.8 327.2L427.5 327.8L427.2 329.0L426.9 330.4L426.6 331.9L426.3 333.0L426.0 334.1L425.7 335.3L425.4 336.4L425.1 337.6L424.8 338.9L424.5 340.4L424.2 342.0L423.9 344.0L423.6 346.4L423.3 349.1L423.0 352.0L422.4 339.3L421.8 347.9L421.2 355.9L420.6 363.0L420.0 367.9L419.3 370.6L418.7 372.2L418.1 373.5L417.5 374.5L416.9 375.3L416.3 376.1L415.6 376.8L415.0 377.5L414.4 378.0L413.8 378.6L413.2 379.0L412.5 379.3L411.9 379.6L411.3 379.8L410.7 380.0L410.1 380.1L409.5 380.2L408.8 380.3L408.2 380.4L407.6 380.4L407.0 380.5L406.4 380.5L405.7 380.6L405.1 380.6L404.5 380.6L403.9 380.6L403.3 380.6L402.7 380.7L402.0 380.7L401.4 380.7L400.8 380.7L400.2 380.7L399.6 380.7L398.9 380.7L398.3 380.7L397.7 380.7L397.1 380.7L396.5 380.7L395.9 380.7L395.2 380.7L394.6 380.7L394.0 380.7L393.4 380.7L392.8 380.7L392.1 380.7L391.5 380.7L390.9 380.7L390.3 380.7L389.7 380.7L389.1 380.7Z" fill="#c8a500" fill-opacity="0.2" stroke="none"/>
<path d="M389.1 379.9L389.7 379.9L390.3 379.9L390.9 379.9L391.5 379.9L392.1 379.9L392.8 379.9L393.4 379.9L394.0 379.9L394.6 379.9L395.2 379.9L395.9 379.9L396.5 379.9L397.1 379.9L397.7 379.9L398.3 379.9L398.9 379.8L399.6 379.8L400.2 379.8L400.8 379.8L401.4 379.8L402.0 379.8L402.7 379.8L403.3 379.8L403.9 379.8L404.5 379.8L405.1 379.7L405.7 379.7L406.4 379.7L407.0 379.6L407.6 379.6L408.2 379.5L408.8 379.4L409.5 379.3L410.1 379.2L410.7 379.1L411.3 378.9L411.9 378.6L412.5 378.3L413.2 377.9L413.8 377.4L414.4 376.9L415.0 376.2L415.6 375.5L416.3 374.7L416.9 373.8L417.5 372.8L418.1 371.7L418.7 370.3L419.3 368.4L420.0 365.4L420.6 359.8L421.2 351.8L421.8 342.6L422.4 332.8L422.7 332.0L423.0 318.4L423.3 307.8L423.6 300.3L423.9 294.6L424.2 290.0L424.5 286.3L424.8 282.8L425.1 279.1L425.4 274.9L425.7 271.8L426.0 269.3L426.3 267.3L426.6 265.4L426.9 263.6L427.2 261.7L427.5 260.1L427.8 258.9L428.1 258.3L428.4 258.4L428.7 259.1L429.0 260.3L429.3 261.6L429.6 262.9L429.9 264.2L430.2 265.6L430.5 267.2L430.8 268.8L431.1 270.3L431.4 271.9L431.7 273.5L432.0 275.0L432.3 276.2L432.6 277.2L432.9 278.1L433.2 279.0L433.5 280.1L433.8 281.6L434.1 283.3L434.4 285.0L434.7 286.2L435.0 287.0L435.3 287.6L435.6 288.2L435.9 288.7L436.2 289.2L436.5 289.8L436.8 290.6L437.1 291.4L437.4 292.4L437.7 293.4L438.0 294.5L438.3 295.6L438.6 296.7L438.9 297.9L439.2 299.0L439.5 300.3L439.8 301.5L440.1 302.7L440.4 303.9L440.7 305.1L441.0 306.3L441.3 307.5L441.6 308.7L441.9 309.9L442.2 311.1L442.5 312.3L442.8 313.5L443.1 314.7L443.4 315.9L443.7 317.1L444.0 318.3L444.3 319.5L444.6 320.7L444.9 321.9L445.2 323.1L445.5 324.3L445.8 325.5L446.1 326.8L446.4 328.1L446.7 329.6L447.0 330.9L447.3 332.0L447.6 332.7L447.9 333.3L448.2 333.8L448.5 334.3L448.8 334.8L449.1 335.2L449.4 335.6L449.7 336.0L450.0 336.4L450.3 336.8L450.6 337.2L450.9 337.8L451.2 338.4L451.5 339.0L451.8 339.5L452.1 340.0L452.4 340.5L452.7 340.7L453.0 340.8L453.3 340.8L453.6 340.7L453.9 340.6L454.2 340.5L454.5 340.4L454.8 340.3L455.1 340.2L455.4 340.2L455.7 340.2L456.0 340.4L456.3 340.7L456.6 341.1L456.9 341.5L457.2 341.9L457.5 342.2L457.8 342.6L458.1 342.7L458.4 342.9L458.7 343.0L459.0 343.2L459.3 343.3L459.6 343.5L459.9 343.6L460.2 343.7L460.5 343.8L460.8 343.8L461.1 343.9L461.4 343.9L461.7 344.0L462.0 344.0L462.3 343.9L462.6 343.9L462.9 343.9L463.2 343.8L463.5 343.8L463.8 343.7L464.1 343.7L464.4 343.6L464.7 343.5L465.0 343.5L465.3 343.4L465.6 343.3L465.9 343.3L466.2 343.2L466.5 343.2L466.8 343.1L467.1 343.0L467.4 343.0L467.7 342.9L468.0 342.8L468.3 342.8L468.6 342.7L468.9 342.6L469.2 342.5L469.5 342.5L469.8 342.4L470.1 342.3L470.4 342.2L470.7 342.2L471.0 342.1L471.3 341.8L471.9 341.9L472.5 342.2L473.1 342.7L473.7 343.3L474.3 344.1L475.0 344.9L475.6 345.6L476.2 346.3L476.8 346.9L477.4 347.3L478.1 347.6L478.7 347.7L479.3 347.8L479.9 347.7L480.5 347.8L481.1 347.8L481.8 348.0L482.4 348.3L483.0 348.6L483.6 349.1L484.2 349.6L484.8 350.2L485.5 350.7L486.1 351.3L486.7 351.9L487.3 352.5L487.9 353.2L488.6 353.9L489.2 354.6L489.8 355.2L490.4 355.8L491.0 356.3L491.6 356.7L492.3 357.1L492.9 357.4L493.5 357.7L494.1 358.0L494.7 357.7L495.4 356.9L496.0 355.8L496.6 354.5L497.2 353.0L497.8 351.2L498.4 349.3L499.1 347.7L499.7 346.4L500.3 345.1L500.9 343.8L501.5 342.4L502.2 340.9L502.8 339.3L503.4 337.8L504.0 336.4L504.6 335.2L505.2 334.3L505.9 333.6L506.5 333.2L507.1 333.1L507.7 333.3L508.3 333.9L509.0 334.7L509.6 335.7L510.2 336.7L510.8 337.7L511.4 338.8L512.0 339.8L512.7 340.6L513.3 341.4L513.9 342.3L514.5 343.2L515.1 344.1L515.7 345.0L516.4 346.0L517.0 347.0L517.6 348.1L518.2 349.2L518.8 350.3L519.5 351.5L520.1 352.5L520.7 353.6L521.3 354.5L521.9 355.4L522.5 356.3L523.2 357.2L523.8 358.0L524.4 358.8L525.0 359.6L525.6 360.3L526.3 360.9L526.9 361.4L527.5 361.8L528.1 362.1L528.7 362.3L529.3 362.7L530.0 363.1L530.6 363.6L531.2 364.3L531.8 365.1L532.4 366.0L533.1 366.9L533.7 367.7L534.3 368.4L534.9 369.0L535.5 369.6L536.1 370.0L536.8 370.4L537.4 370.8L538.0 371.1L538.6 371.3L539.2 371.5L539.9 371.7L540.5 371.9L541.1 372.1L541.7 372.3L542.3 372.4L542.9 372.6L543.6 372.8L544.2 372.9L544.8 373.1L545.4 373.2L546.0 373.4L546.6 373.6L547.3 373.8L547.9 373.9L548.5 374.0L549.1 374.1L549.7 374.1L550.4 374.1L551.0 374.0L551.6 374.0L552.2 374.1L552.8 374.1L553.4 374.1L554.1 374.1L554.7 373.9L555.3 373.8L555.9 373.6L556.5 373.3L557.2 373.1L557.8 372.9L558.4 372.8L559.0 372.8L559.6 372.7L560.2 372.6L560.9 372.4L561.5 372.2L562.1 371.9L562.7 371.7L563.3 371.3L564.0 371.0L564.6 370.7L565.2 370.3L565.8 370.1L566.4 369.8L567.0 369.6L567.7 369.5L568.3 369.4L568.9 369.3L569.5 369.2L570.1 368.9L570.8 368.4L571.4 367.9L572.0 367.4L572.6 366.9L573.2 366.4L573.8 365.9L574.5 365.8L575.1 365.9L575.7 366.1L576.3 366.3L576.9 366.4L577.5 366.6L578.2 366.8L578.8 366.9L579.4 366.9L580.0 366.8L580.6 366.7L581.3 366.5L581.9 366.2L582.5 366.0L583.1 365.8L583.7 365.7L584.3 365.6L585.0 365.4L585.6 365.1L586.2 364.8L586.8 364.5L587.4 364.2L588.1 363.9L588.7 363.5L589.3 363.3L589.9 363.0L590.5 362.6L591.1 362.1L591.8 361.5L592.4 360.8L593.0 360.1L593.6 359.3L594.2 358.7L594.9 358.1L595.5 357.5L596.1 356.9L596.7 356.3L597.3 355.7L597.9 355.1L598.6 354.6L599.2 353.9L599.8 353.2L600.4 352.4L601.0 351.8L601.7 351.4L602.3 351.3L602.9 351.5L603.5 351.9L604.1 352.7L604.7 353.7L605.4 354.8L606.0 356.0L606.6 357.1L607.2 358.3L607.8 359.6L608.4 360.8L609.1 361.9L609.7 362.7L610.3 363.2L610.9 363.6L611.5 364.0L612.2 364.4L612.8 364.7L613.4 364.8L614.0 364.9L614.6 365.0L615.2 365.0L615.9 364.9L616.5 364.7L617.1 364.6L617.7 364.7L618.3 365.1L619.0 365.6L619.6 366.2L620.2 366.8L620.8 367.4L621.4 368.0L622.0 368.6L622.7 369.1L623.3 369.6L623.9 370.1L624.5 370.5L625.1 371.0L625.8 371.4L626.4 371.7L627.0 372.1L627.6 372.4L628.2 372.8L628.8 373.1L629.5 373.4L630.1 373.6L630.7 373.8L631.3 374.0L631.9 374.2L632.6 374.4L633.2 374.5L633.8 374.7L634.4 374.8L635.0 374.9L635.6 375.0L636.3 375.0L636.9 375.1L637.5 375.1L638.1 375.2L638.7 375.2L639.3 375.2L640.0 375.2L640.6 375.2L641.2 375.2L641.8 375.1L642.4 375.1L643.1 375.0L643.7 374.9L644.3 374.7L644.9 374.5L645.5 374.3L646.1 374.1L646.8 373.8L647.4 373.6L648.0 373.3L648.6 373.1L649.2 372.9L649.9 372.8L650.5 372.7L651.1 372.6L651.7 372.6L652.3 372.5L652.9 372.5L653.6 372.5L654.2 372.4L654.8 372.4L655.4 372.4L656.0 372.4L656.7 372.4L657.3 372.4L657.9 372.5L658.5 372.5L659.1 372.6L659.7 372.6L660.4 372.7L661.0 372.7L661.6 372.8L662.2 372.8L662.8 372.8L663.5 372.8L664.1 372.7L664.7 372.6L665.3 372.6L665.9 372.5L666.5 372.4L667.2 372.3L667.8 372.3L668.4 372.3L669.0 372.3L669.6 372.3L669.6 374.0L669.0 373.9L668.4 373.9L667.8 373.9L667.2 373.9L666.5 374.0L665.9 374.1L665.3 374.2L664.7 374.2L664.1 374.3L663.5 374.3L662.8 374.4L662.2 374.4L661.6 374.3L661.0 374.3L660.4 374.3L659.7 374.3L659.1 374.2L658.5 374.2L657.9 374.1L657.3 374.1L656.7 374.1L656.0 374.0L655.4 374.0L654.8 374.1L654.2 374.1L653.6 374.1L652.9 374.1L652.3 374.2L651.7 374.2L651.1 374.2L650.5 374.3L649.9 374.4L649.2 374.5L648.6 374.7L648.0 374.9L647.4 375.1L646.8 375.3L646.1 375.5L645.5 375.7L644.9 375.9L644.3 376.1L643.7 376.2L643.1 376.3L642.4 376.4L641.8 376.4L641.2 376.5L640.6 376.5L640.0 376.5L639.3 376.5L638.7 376.5L638.1 376.5L637.5 376.4L636.9 376.4L636.3 376.3L635.6 376.3L635.0 376.2L634.4 376.1L633.8 376.0L633.2 375.9L632.6 375.8L631.9 375.7L631.3 375.5L630.7 375.3L630.1 375.1L629.5 374.9L628.8 374.7L628.2 374.4L627.6 374.1L627.0 373.8L626.4 373.5L625.8 373.2L625.1 372.9L624.5 372.5L623.9 372.1L623.3 371.7L622.7 371.3L622.0 370.9L621.4 370.4L620.8 369.8L620.2 369.3L619.6 368.8L619.0 368.3L618.3 367.9L617.7 367.5L617.1 367.4L616.5 367.5L615.9 367.7L615.2 367.8L614.6 367.8L614.0 367.7L613.4 367.6L612.8 367.6L612.2 367.3L611.5 367.0L610.9 366.6L610.3 366.3L609.7 365.8L609.1 365.2L608.4 364.2L607.8 363.2L607.2 362.1L606.6 361.1L606.0 360.1L605.4 359.2L604.7 358.2L604.1 357.3L603.5 356.7L602.9 356.3L602.3 356.2L601.7 356.3L601.0 356.6L600.4 357.1L599.8 357.8L599.2 358.4L598.6 359.0L597.9 359.5L597.3 360.0L596.7 360.5L596.1 361.0L595.5 361.5L594.9 362.0L594.2 362.5L593.6 363.0L593.0 363.6L592.4 364.3L591.8 364.9L591.1 365.4L590.5 365.8L589.9 366.2L589.3 366.4L588.7 366.6L588.1 366.9L587.4 367.2L586.8 367.5L586.2 367.7L585.6 368.0L585.0 368.2L584.3 368.4L583.7 368.5L583.1 368.6L582.5 368.7L581.9 368.9L581.3 369.1L580.6 369.3L580.0 369.4L579.4 369.4L578.8 369.4L578.2 369.4L577.5 369.2L576.9 369.1L576.3 368.9L575.7 368.8L575.1 368.6L574.5 368.5L573.8 368.7L573.2 369.0L572.6 369.5L572.0 369.9L571.4 370.3L570.8 370.8L570.1 371.2L569.5 371.4L568.9 371.5L568.3 371.6L567.7 371.7L567.0 371.8L566.4 371.9L565.8 372.2L565.2 372.4L564.6 372.7L564.0 373.0L563.3 373.3L562.7 373.5L562.1 373.8L561.5 374.0L560.9 374.1L560.2 374.3L559.6 374.4L559.0 374.5L558.4 374.5L557.8 374.6L557.2 374.7L556.5 375.0L555.9 375.2L555.3 375.4L554.7 375.5L554.1 375.6L553.4 375.7L552.8 375.7L552.2 375.6L551.6 375.6L551.0 375.6L550.4 375.6L549.7 375.6L549.1 375.6L548.5 375.6L547.9 375.5L547.3 375.4L546.6 375.2L546.0 375.1L545.4 374.9L544.8 374.8L544.2 374.7L543.6 374.5L542.9 374.4L542.3 374.3L541.7 374.1L541.1 374.0L540.5 373.8L539.9 373.7L539.2 373.5L538.6 373.3L538.0 373.1L537.4 372.9L536.8 372.6L536.1 372.3L535.5 371.9L534.9 371.4L534.3 370.9L533.7 370.3L533.1 369.6L532.4 368.9L531.8 368.2L531.2 367.5L530.6 367.0L530.0 366.5L529.3 366.2L528.7 365.9L528.1 365.7L527.5 365.5L526.9 365.2L526.3 364.8L525.6 364.3L525.0 363.7L524.4 363.0L523.8 362.4L523.2 361.7L522.5 361.0L521.9 360.2L521.3 359.5L520.7 358.7L520.1 357.8L519.5 357.0L518.8 356.1L518.2 355.1L517.6 354.2L517.0 353.3L516.4 352.5L515.7 351.7L515.1 350.9L514.5 350.2L513.9 349.5L513.3 348.8L512.7 348.1L512.0 347.4L511.4 346.7L510.8 345.8L510.2 344.9L509.6 344.1L509.0 343.4L508.3 342.7L507.7 342.3L507.1 342.0L506.5 342.1L505.9 342.5L505.2 343.1L504.6 343.9L504.0 344.9L503.4 346.1L502.8 347.3L502.2 348.6L501.5 349.8L500.9 351.0L500.3 352.1L499.7 353.1L499.1 354.2L498.4 355.4L497.8 357.0L497.2 358.4L496.6 359.6L496.0 360.6L495.4 361.5L494.7 362.1L494.1 362.3L493.5 362.1L492.9 361.9L492.3 361.6L491.6 361.3L491.0 361.0L490.4 360.6L489.8 360.1L489.2 359.5L488.6 358.9L487.9 358.4L487.3 357.8L486.7 357.3L486.1 356.8L485.5 356.4L484.8 355.9L484.2 355.4L483.6 355.0L483.0 354.6L482.4 354.3L481.8 354.1L481.1 353.9L480.5 353.9L479.9 353.9L479.3 353.9L478.7 353.9L478.1 353.7L477.4 353.5L476.8 353.1L476.2 352.7L475.6 352.1L475.0 351.5L474.3 350.8L473.7 350.2L473.1 349.7L472.5 349.3L471.9 349.0L471.3 348.9L471.0 349.0L470.9 349.1L470.6 349.2L470.3 349.3L470.0 349.5L469.7 349.6L469.4 349.7L469.1 349.8L468.8 350.0L468.5 350.1L468.2 350.2L467.9 350.3L467.6 350.4L467.3 350.5L467.0 350.6L466.7 350.6L466.4 350.7L466.1 350.8L465.8 350.9L465.5 350.9L465.2 351.0L464.9 351.0L464.6 351.1L464.3 351.1L464.0 351.2L463.7 351.2L463.4 351.3L463.1 351.3L462.8 351.4L462.5 351.4L462.2 351.4L461.9 351.5L461.6 351.5L461.3 351.5L461.0 351.5L460.7 351.5L460.4 351.5L460.1 351.5L459.8 351.5L459.5 351.5L459.2 351.5L458.9 351.4L458.6 351.4L458.3 351.4L458.0 351.3L457.7 351.3L457.4 351.2L457.1 351.2L456.8 351.1L456.5 351.1L456.2 351.0L455.9 351.0L455.6 350.9L455.3 350.8L455.0 350.8L454.7 350.7L454.4 350.7L454.1 350.6L453.8 350.5L453.5 350.4L453.2 350.3L452.9 350.2L452.6 350.1L452.3 349.9L452.0 349.8L451.7 349.6L451.4 349.4L451.1 349.0L450.8 348.6L450.5 348.1L450.2 347.6L449.9 347.1L449.6 346.5L449.3 346.0L449.0 345.4L448.7 344.9L448.4 344.2L448.1 343.6L447.8 343.0L447.5 342.3L447.2 341.7L446.9 341.1L446.6 340.6L446.3 340.1L446.0 339.6L445.7 339.2L445.4 338.7L445.1 338.3L444.8 337.8L444.5 337.4L444.2 337.0L443.9 336.7L443.6 336.3L443.3 336.0L443.0 335.7L442.7 335.4L442.4 335.1L442.1 334.8L441.8 334.5L441.5 334.3L441.2 334.0L440.9 333.7L440.6 333.4L440.3 333.2L440.0 332.9L439.7 332.6L439.4 332.3L439.1 332.0L438.8 331.6L438.5 331.2L438.2 330.9L437.9 330.5L437.6 330.1L437.3 329.8L437.0 329.5L436.7 329.2L436.4 328.9L436.1 328.7L435.8 328.6L435.5 328.4L435.2 328.2L434.9 328.0L434.6 327.7L434.3 327.4L434.0 327.0L433.7 326.6L433.4 326.2L433.1 325.7L432.8 325.1L432.5 324.6L432.2 324.0L431.9 323.3L431.6 322.5L431.3 321.6L431.0 320.7L430.7 319.9L430.4 319.2L430.1 318.5L429.8 317.9L429.5 317.2L429.2 316.6L428.9 316.2L428.6 315.9L428.3 315.9L428.0 316.3L427.7 316.9L427.4 317.8L427.1 318.9L426.8 320.2L426.5 321.5L426.2 322.9L425.9 324.2L425.6 325.8L425.3 327.7L425.0 329.7L424.7 331.8L424.4 333.8L424.1 335.8L423.8 338.2L423.5 341.1L423.2 345.1L422.9 350.0L422.4 337.2L421.8 346.2L421.2 354.6L420.6 362.0L420.0 367.1L419.3 369.9L418.7 371.7L418.1 372.9L417.5 374.0L416.9 374.9L416.3 375.7L415.6 376.4L415.0 377.1L414.4 377.7L413.8 378.3L413.2 378.7L412.5 379.1L411.9 379.4L411.3 379.6L410.7 379.8L410.1 379.9L409.5 380.0L408.8 380.1L408.2 380.2L407.6 380.2L407.0 380.3L406.4 380.3L405.7 380.4L405.1 380.4L404.5 380.4L403.9 380.4L403.3 380.4L402.7 380.4L402.0 380.4L401.4 380.5L400.8 380.5L400.2 380.5L399.6 380.5L398.9 380.5L398.3 380.5L397.7 380.5L397.1 380.5L396.5 380.5L395.9 380.5L395.2 380.5L394.6 380.5L394.0 380.5L393.4 380.5L392.8 380.5L392.1 380.5L391.5 380.5L390.9 380.5L390.3 380.5L389.7 380.5L389.1 380.5Z" fill="#c8a500" fill-opacity="0.45" stroke="none"/>
<path d="M389.1 380.2L389.7 380.2L390.3 380.2L390.9 380.2L391.5 380.2L392.1 380.2L392.8 380.2L393.4 380.2L394.0 380.2L394.6 380.2L395.2 380.2L395.9 380.2L396.5 380.2L397.1 380.2L397.7 380.2L398.3 380.2L398.9 380.2L399.6 380.1L400.2 380.2L400.8 380.1L401.4 380.1L402.0 380.1L402.7 380.2L403.3 380.1L403.9 380.1L404.5 380.1L405.1 380.1L405.7 380.0L406.4 380.0L407.0 380.0L407.6 380.0L408.2 379.9L408.8 379.7L409.5 379.7L410.1 379.5L410.7 379.4L411.3 379.3L411.9 379.1L412.5 379.0L413.2 378.5L413.8 377.9L414.4 377.5L415.0 376.8L415.6 375.7L416.3 375.2L416.9 374.4L417.5 373.3L418.1 372.8L418.7 370.1L419.3 370.1L420.0 369.0L420.6 367.4L421.2 364.2L421.8 355.2L422.4 338.3L423.0 302.0L423.7 306.9L424.3 308.4L424.9 303.6L425.5 299.6L426.1 295.8L426.8 290.6L427.4 290.6L428.0 292.7L428.6 292.4L429.2 294.2L429.8 300.7L430.5 304.8L431.1 299.3L431.7 296.1L432.3 297.7L432.9 300.6L433.6 305.5L434.2 311.6L434.8 311.6L435.4 311.1L436.0 309.5L436.6 307.5L437.3 305.0L437.9 306.1L438.5 309.6L439.1 313.2L439.7 314.9L440.4 316.2L441.0 319.1L441.6 317.1L442.2 321.2L442.8 324.7L443.4 324.5L444.1 325.9L444.7 327.5L445.3 327.6L445.9 329.8L446.5 329.4L447.2 333.9L447.8 338.5L448.4 341.5L449.0 336.7L449.6 340.6L450.2 345.9L450.9 347.0L451.5 345.3L452.1 346.9L452.7 348.7L453.3 354.0L453.9 348.2L454.6 344.8L455.2 343.4L455.8 342.0L456.4 344.3L457.0 344.3L457.7 343.9L458.3 346.7L458.9 349.3L459.5 356.6L460.1 349.1L460.7 347.8L461.4 347.3L462.0 343.5L462.6 349.0L463.2 346.2L463.8 349.6L464.5 348.5L465.1 346.3L465.7 349.3L466.3 347.0L466.9 347.7L467.5 347.5L468.2 346.9L468.8 351.8L469.4 345.3L470.0 348.3L470.6 344.1L471.3 343.9L471.9 345.5L472.5 345.5L473.1 346.3L473.7 347.7L474.3 346.4L475.0 343.6L475.6 347.6L476.2 349.6L476.8 351.4L477.4 353.3L478.1 349.7L478.7 351.9L479.3 349.6L479.9 350.5L480.5 351.6L481.1 352.1L481.8 350.4L482.4 352.2L483.0 349.7L483.6 350.3L484.2 352.4L484.8 353.4L485.5 353.5L486.1 354.8L486.7 354.1L487.3 356.0L487.9 353.1L488.6 356.3L489.2 356.5L489.8 357.1L490.4 361.9L491.0 358.8L491.6 357.7L492.3 359.4L492.9 358.4L493.5 359.9L494.1 361.4L494.7 360.5L495.4 360.4L496.0 360.3L496.6 356.0L497.2 352.6L497.8 351.5L498.4 352.8L499.1 353.4L499.7 350.6L500.3 351.3L500.9 346.7L501.5 345.6L502.2 344.7L502.8 341.5L503.4 341.7L504.0 338.4L504.6 339.5L505.2 336.8L505.9 336.3L506.5 335.9L507.1 335.8L507.7 338.8L508.3 338.1L509.0 339.2L509.6 335.9L510.2 344.7L510.8 344.2L511.4 344.3L512.0 344.2L512.7 343.8L513.3 345.4L513.9 343.8L514.5 347.4L515.1 348.6L515.7 351.5L516.4 352.0L517.0 349.9L517.6 351.6L518.2 349.9L518.8 352.5L519.5 356.6L520.1 355.9L520.7 359.5L521.3 356.8L521.9 358.1L522.5 358.4L523.2 359.4L523.8 360.6L524.4 361.6L525.0 362.1L525.6 362.3L526.3 362.5L526.9 363.8L527.5 363.9L528.1 365.4L528.7 362.8L529.3 364.8L530.0 364.5L530.6 364.5L531.2 365.6L531.8 367.1L532.4 367.4L533.1 369.1L533.7 371.1L534.3 369.9L534.9 370.5L535.5 370.1L536.1 371.4L536.8 371.1L537.4 372.2L538.0 373.4L538.6 372.8L539.2 372.8L539.9 372.7L540.5 373.5L541.1 373.3L541.7 374.2L542.3 374.0L542.9 373.5L543.6 374.2L544.2 372.7L544.8 373.8L545.4 374.2L546.0 374.2L546.6 374.6L547.3 374.4L547.9 374.6L548.5 375.4L549.1 375.2L549.7 375.0L550.4 375.4L551.0 374.9L551.6 374.9L552.2 374.7L552.8 374.7L553.4 374.6L554.1 375.6L554.7 375.6L555.3 374.7L555.9 374.3L556.5 373.5L557.2 373.8L557.8 373.9L558.4 373.9L559.0 373.9L559.6 374.2L560.2 372.9L560.9 373.4L561.5 372.5L562.1 373.0L562.7 372.6L563.3 372.9L564.0 372.0L564.6 372.5L565.2 372.3L565.8 370.4L566.4 370.7L567.0 370.6L567.7 371.4L568.3 371.7L568.9 369.9L569.5 370.1L570.1 369.3L570.8 369.9L571.4 368.9L572.0 369.0L572.6 367.2L573.2 368.0L573.8 367.6L574.5 365.6L575.1 366.4L575.7 366.8L576.3 368.8L576.9 368.0L577.5 367.4L578.2 368.2L578.8 367.7L579.4 367.8L580.0 369.0L580.6 368.7L581.3 368.7L581.9 367.3L582.5 367.4L583.1 366.1L583.7 365.3L584.3 366.9L585.0 366.4L585.6 367.7L586.2 366.2L586.8 367.4L587.4 361.8L588.1 365.3L588.7 365.5L589.3 364.6L589.9 364.0L590.5 364.7L591.1 365.0L591.8 362.3L592.4 362.9L593.0 362.3L593.6 360.4L594.2 361.6L594.9 361.9L595.5 359.1L596.1 355.8L596.7 358.1L597.3 357.3L597.9 358.5L598.6 356.7L599.2 356.4L599.8 353.4L600.4 354.7L601.0 356.1L601.7 354.4L602.3 351.4L602.9 354.1L603.5 350.4L604.1 355.5L604.7 354.6L605.4 356.0L606.0 358.3L606.6 359.9L607.2 361.7L607.8 361.4L608.4 362.8L609.1 361.3L609.7 367.5L610.3 365.6L610.9 366.7L611.5 365.9L612.2 368.8L612.8 364.5L613.4 365.5L614.0 367.9L614.6 367.5L615.2 367.4L615.9 365.7L616.5 366.3L617.1 365.4L617.7 365.7L618.3 366.2L619.0 367.7L619.6 367.2L620.2 368.9L620.8 368.5L621.4 369.4L622.0 369.7L622.7 369.7L623.3 370.2L623.9 371.1L624.5 372.0L625.1 371.2L625.8 372.4L626.4 371.7L627.0 372.6L627.6 373.2L628.2 374.0L628.8 374.0L629.5 374.1L630.1 374.4L630.7 374.2L631.3 374.1L631.9 374.9L632.6 375.4L633.2 375.7L633.8 375.9L634.4 375.6L635.0 375.3L635.6 375.4L636.3 375.7L636.9 376.1L637.5 376.3L638.1 375.6L638.7 375.9L639.3 375.7L640.0 376.2L640.6 375.9L641.2 375.9L641.8 375.9L642.4 375.7L643.1 375.6L643.7 375.5L644.3 375.7L644.9 375.4L645.5 375.6L646.1 375.0L646.8 374.7L647.4 374.2L648.0 373.6L648.6 374.1L649.2 373.6L649.9 373.2L650.5 373.7L651.1 373.2L651.7 372.9L652.3 372.7L652.9 373.6L653.6 373.8L654.2 373.4L654.8 373.9L655.4 373.6L656.0 372.8L656.7 372.7L657.3 373.2L657.9 373.3L658.5 373.1L659.1 373.6L659.7 373.8L660.4 374.0L661.0 373.7L661.6 373.5L662.2 374.1L662.8 374.0L663.5 373.4L664.1 373.8L664.7 373.4L665.3 373.2L665.9 373.3L666.5 373.5L667.2 373.4L667.8 373.1L668.4 373.3L669.0 373.2L669.6 372.7" fill="none" stroke="#000" stroke-width="0.3" stroke-linejoin="round"/>
<path d="M389.1 380.2L389.7 380.2L390.3 380.2L390.9 380.2L391.5 380.2L392.1 380.2L392.8 380.2L393.4 380.2L394.0 380.2L394.6 380.2L395.2 380.2L395.9 380.2L396.5 380.2L397.1 380.2L397.7 380.2L398.3 380.2L398.9 380.2L399.6 380.2L400.2 380.2L400.8 380.1L401.4 380.1L402.0 380.1L402.7 380.1L403.3 380.1L403.9 380.1L404.5 380.1L405.1 380.1L405.7 380.0L406.4 380.0L407.0 380.0L407.6 379.9L408.2 379.8L408.8 379.8L409.5 379.7L410.1 379.6L410.7 379.4L411.3 379.2L411.9 379.0L412.5 378.7L413.2 378.3L413.8 377.9L414.4 377.3L415.0 376.6L415.6 376.0L416.3 375.2L416.9 374.3L417.5 373.4L418.1 372.3L418.7 371.0L419.3 369.2L420.0 366.3L420.6 360.9L421.2 353.2L421.8 344.4L422.4 335.0L423.0 325.4L423.7 315.9L424.3 307.1L424.9 300.6L425.5 296.8L426.1 294.5L426.8 293.1L427.4 292.4L428.0 292.7L428.6 293.7L429.2 294.8L429.8 295.8L430.5 296.7L431.1 297.9L431.7 299.4L432.3 300.9L432.9 302.5L433.6 304.1L434.2 305.7L434.8 306.9L435.4 307.6L436.0 308.0L436.6 308.2L437.3 308.6L437.9 309.3L438.5 310.3L439.1 311.6L439.7 313.3L440.4 315.3L441.0 317.3L441.6 319.0L442.2 320.7L442.8 322.3L443.4 323.9L444.1 325.5L444.7 326.8L445.3 328.3L445.9 330.3L446.5 332.3L447.2 334.3L447.8 336.1L448.4 338.0L449.0 340.0L449.6 341.9L450.2 343.0L450.9 344.1L451.5 345.2L452.1 346.2L452.7 346.7L453.3 346.5L453.9 346.1L454.6 345.6L455.2 345.3L455.8 345.0L456.4 344.9L457.0 345.2L457.7 346.0L458.3 346.6L458.9 346.9L459.5 347.1L460.1 347.2L460.7 347.2L461.4 347.0L462.0 346.9L462.6 347.1L463.2 347.5L463.8 347.8L464.5 348.1L465.1 348.2L465.7 348.2L466.3 348.0L466.9 347.7L467.5 347.2L468.2 346.7L468.8 346.2L469.4 345.7L470.0 345.4L470.6 345.1L471.3 345.1L471.9 345.2L472.5 345.5L473.1 345.9L473.7 346.5L474.3 347.2L475.0 347.9L475.6 348.6L476.2 349.2L476.8 349.8L477.4 350.2L478.1 350.4L478.7 350.6L479.3 350.6L479.9 350.6L480.5 350.6L481.1 350.7L481.8 350.8L482.4 351.1L483.0 351.4L483.6 351.8L484.2 352.3L484.8 352.8L485.5 353.3L486.1 353.9L486.7 354.4L487.3 355.0L487.9 355.6L488.6 356.2L489.2 356.9L489.8 357.5L490.4 358.0L491.0 358.5L491.6 358.9L492.3 359.2L492.9 359.5L493.5 359.8L494.1 360.0L494.7 359.7L495.4 359.0L496.0 358.1L496.6 357.0L497.2 355.6L497.8 354.0L498.4 352.3L499.1 350.9L499.7 349.7L500.3 348.6L500.9 347.4L501.5 346.1L502.2 344.7L502.8 343.3L503.4 342.0L504.0 340.7L504.6 339.6L505.2 338.7L505.9 338.0L506.5 337.7L507.1 337.6L507.7 337.8L508.3 338.3L509.0 339.1L509.6 339.9L510.2 340.8L510.8 341.8L511.4 342.7L512.0 343.6L512.7 344.4L513.3 345.1L513.9 345.9L514.5 346.7L515.1 347.5L515.7 348.3L516.4 349.2L517.0 350.2L517.6 351.2L518.2 352.2L518.8 353.2L519.5 354.2L520.1 355.2L520.7 356.1L521.3 357.0L521.9 357.8L522.5 358.6L523.2 359.4L523.8 360.2L524.4 360.9L525.0 361.6L525.6 362.3L526.3 362.9L526.9 363.3L527.5 363.6L528.1 363.9L528.7 364.1L529.3 364.4L530.0 364.8L530.6 365.3L531.2 365.9L531.8 366.6L532.4 367.4L533.1 368.2L533.7 369.0L534.3 369.6L534.9 370.2L535.5 370.7L536.1 371.2L536.8 371.5L537.4 371.8L538.0 372.1L538.6 372.3L539.2 372.5L539.9 372.7L540.5 372.9L541.1 373.0L541.7 373.2L542.3 373.3L542.9 373.5L543.6 373.6L544.2 373.8L544.8 373.9L545.4 374.1L546.0 374.2L546.6 374.4L547.3 374.6L547.9 374.7L548.5 374.8L549.1 374.9L549.7 374.9L550.4 374.8L551.0 374.8L551.6 374.8L552.2 374.8L552.8 374.9L553.4 374.9L554.1 374.8L554.7 374.7L555.3 374.6L555.9 374.4L556.5 374.2L557.2 373.9L557.8 373.7L558.4 373.7L559.0 373.6L559.6 373.5L560.2 373.4L560.9 373.3L561.5 373.1L562.1 372.8L562.7 372.6L563.3 372.3L564.0 372.0L564.6 371.7L565.2 371.4L565.8 371.1L566.4 370.9L567.0 370.7L567.7 370.6L568.3 370.5L568.9 370.4L569.5 370.3L570.1 370.0L570.8 369.6L571.4 369.1L572.0 368.6L572.6 368.2L573.2 367.7L573.8 367.3L574.5 367.2L575.1 367.3L575.7 367.4L576.3 367.6L576.9 367.8L577.5 367.9L578.2 368.1L578.8 368.2L579.4 368.1L580.0 368.1L580.6 368.0L581.3 367.8L581.9 367.6L582.5 367.4L583.1 367.2L583.7 367.1L584.3 367.0L585.0 366.8L585.6 366.5L586.2 366.3L586.8 366.0L587.4 365.7L588.1 365.4L588.7 365.1L589.3 364.8L589.9 364.6L590.5 364.2L591.1 363.7L591.8 363.2L592.4 362.5L593.0 361.9L593.6 361.2L594.2 360.6L594.9 360.0L595.5 359.5L596.1 358.9L596.7 358.4L597.3 357.8L597.9 357.3L598.6 356.8L599.2 356.2L599.8 355.5L600.4 354.8L601.0 354.2L601.7 353.9L602.3 353.8L602.9 353.9L603.5 354.3L604.1 355.0L604.7 356.0L605.4 357.0L606.0 358.1L606.6 359.1L607.2 360.2L607.8 361.4L608.4 362.5L609.1 363.5L609.7 364.3L610.3 364.8L610.9 365.1L611.5 365.5L612.2 365.9L612.8 366.1L613.4 366.2L614.0 366.3L614.6 366.4L615.2 366.4L615.9 366.3L616.5 366.1L617.1 366.0L617.7 366.1L618.3 366.5L619.0 367.0L619.6 367.5L620.2 368.0L620.8 368.6L621.4 369.2L622.0 369.7L622.7 370.2L623.3 370.7L623.9 371.1L624.5 371.5L625.1 371.9L625.8 372.3L626.4 372.6L627.0 373.0L627.6 373.3L628.2 373.6L628.8 373.9L629.5 374.1L630.1 374.4L630.7 374.6L631.3 374.8L631.9 374.9L632.6 375.1L633.2 375.2L633.8 375.3L634.4 375.5L635.0 375.5L635.6 375.6L636.3 375.7L636.9 375.7L637.5 375.8L638.1 375.8L638.7 375.8L639.3 375.8L640.0 375.8L640.6 375.8L641.2 375.8L641.8 375.8L642.4 375.7L643.1 375.6L643.7 375.5L644.3 375.4L644.9 375.2L645.5 375.0L646.1 374.8L646.8 374.6L647.4 374.3L648.0 374.1L648.6 373.9L649.2 373.7L649.9 373.6L650.5 373.5L651.1 373.4L651.7 373.4L652.3 373.4L652.9 373.3L653.6 373.3L654.2 373.3L654.8 373.2L655.4 373.2L656.0 373.2L656.7 373.2L657.3 373.3L657.9 373.3L658.5 373.3L659.1 373.4L659.7 373.5L660.4 373.5L661.0 373.5L661.6 373.6L662.2 373.6L662.8 373.6L663.5 373.5L664.1 373.5L664.7 373.4L665.3 373.4L665.9 373.3L666.5 373.2L667.2 373.1L667.8 373.1L668.4 373.1L669.0 373.1L669.6 373.2" fill="none" stroke="#c8a500" stroke-width="1.0" stroke-opacity="1" stroke-linejoin="round"/>
<g fill="#000"><circle cx="389.1" cy="380.2" r="0.8"/><circle cx="389.7" cy="380.2" r="0.8"/><circle cx="390.3" cy="380.2" r="0.8"/><circle cx="390.9" cy="380.2" r="0.8"/><circle cx="391.5" cy="380.2" r="0.8"/><circle cx="392.1" cy="380.2" r="0.8"/><circle cx="392.8" cy="380.2" r="0.8"/><circle cx="393.4" cy="380.2" r="0.8"/><circle cx="394.0" cy="380.2" r="0.8"/><circle cx="394.6" cy="380.2" r="0.8"/><circle cx="395.2" cy="380.2" r="0.8"/><circle cx="395.9" cy="380.2" r="0.8"/><circle cx="396.5" cy="380.2" r="0.8"/><circle cx="397.1" cy="380.2" r="0.8"/><circle cx="397.7" cy="380.2" r="0.8"/><circle cx="398.3" cy="380.2" r="0.8"/><circle cx="398.9" cy="380.2" r="0.8"/><circle cx="399.6" cy="380.1" r="0.8"/><circle cx="400.2" cy="380.2" r="0.8"/><circle cx="400.8" cy="380.1" r="0.8"/><circle cx="401.4" cy="380.1" r="0.8"/><circle cx="402.0" cy="380.1" r="0.8"/><circle cx="402.7" cy="380.2" r="0.8"/><circle cx="403.3" cy="380.1" r="0.8"/><circle cx="403.9" cy="380.1" r="0.8"/><circle cx="404.5" cy="380.1" r="0.8"/><circle cx="405.1" cy="380.1" r="0.8"/><circle cx="405.7" cy="380.0" r="0.8"/><circle cx="406.4" cy="380.0" r="0.8"/><circle cx="407.0" cy="380.0" r="0.8"/><circle cx="407.6" cy="380.0" r="0.8"/><circle cx="408.2" cy="379.9" r="0.8"/><circle cx="408.8" cy="379.7" r="0.8"/><circle cx="409.5" cy="379.7" r="0.8"/><circle cx="410.1" cy="379.5" r="0.8"/><circle cx="410.7" cy="379.4" r="0.8"/><circle cx="411.3" cy="379.3" r="0.8"/><circle cx="411.9" cy="379.1" r="0.8"/><circle cx="412.5" cy="379.0" r="0.8"/><circle cx="413.2" cy="378.5" r="0.8"/><circle cx="413.8" cy="377.9" r="0.8"/><circle cx="414.4" cy="377.5" r="0.8"/><circle cx="415.0" cy="376.8" r="0.8"/><circle cx="415.6" cy="375.7" r="0.8"/><circle cx="416.3" cy="375.2" r="0.8"/><circle cx="416.9" cy="374.4" r="0.8"/><circle cx="417.5" cy="373.3" r="0.8"/><circle cx="418.1" cy="372.8" r="0.8"/><circle cx="418.7" cy="370.1" r="0.8"/><circle cx="419.3" cy="370.1" r="0.8"/><circle cx="420.0" cy="369.0" r="0.8"/><circle cx="420.6" cy="367.4" r="0.8"/><circle cx="421.2" cy="364.2" r="0.8"/><circle cx="421.8" cy="355.2" r="0.8"/><circle cx="422.4" cy="338.3" r="0.8"/><circle cx="423.0" cy="302.0" r="0.8"/><circle cx="423.7" cy="306.9" r="0.8"/><circle cx="424.3" cy="308.4" r="0.8"/><circle cx="424.9" cy="303.6" r="0.8"/><circle cx="425.5" cy="299.6" r="0.8"/><circle cx="426.1" cy="295.8" r="0.8"/><circle cx="426.8" cy="290.6" r="0.8"/><circle cx="427.4" cy="290.6" r="0.8"/><circle cx="428.0" cy="292.7" r="0.8"/><circle cx="428.6" cy="292.4" r="0.8"/><circle cx="429.2" cy="294.2" r="0.8"/><circle cx="429.8" cy="300.7" r="0.8"/><circle cx="430.5" cy="304.8" r="0.8"/><circle cx="431.1" cy="299.3" r="0.8"/><circle cx="431.7" cy="296.1" r="0.8"/><circle cx="432.3" cy="297.7" r="0.8"/><circle cx="432.9" cy="300.6" r="0.8"/><circle cx="433.6" cy="305.5" r="0.8"/><circle cx="434.2" cy="311.6" r="0.8"/><circle cx="434.8" cy="311.6" r="0.8"/><circle cx="435.4" cy="311.1" r="0.8"/><circle cx="436.0" cy="309.5" r="0.8"/><circle cx="436.6" cy="307.5" r="0.8"/><circle cx="437.3" cy="305.0" r="0.8"/><circle cx="437.9" cy="306.1" r="0.8"/><circle cx="438.5" cy="309.6" r="0.8"/><circle cx="439.1" cy="313.2" r="0.8"/><circle cx="439.7" cy="314.9" r="0.8"/><circle cx="440.4" cy="316.2" r="0.8"/><circle cx="441.0" cy="319.1" r="0.8"/><circle cx="441.6" cy="317.1" r="0.8"/><circle cx="442.2" cy="321.2" r="0.8"/><circle cx="442.8" cy="324.7" r="0.8"/><circle cx="443.4" cy="324.5" r="0.8"/><circle cx="444.1" cy="325.9" r="0.8"/><circle cx="444.7" cy="327.5" r="0.8"/><circle cx="445.3" cy="327.6" r="0.8"/><circle cx="445.9" cy="329.8" r="0.8"/><circle cx="446.5" cy="329.4" r="0.8"/><circle cx="447.2" cy="333.9" r="0.8"/><circle cx="447.8" cy="338.5" r="0.8"/><circle cx="448.4" cy="341.5" r="0.8"/><circle cx="449.0" cy="336.7" r="0.8"/><circle cx="449.6" cy="340.6" r="0.8"/><circle cx="450.2" cy="345.9" r="0.8"/><circle cx="450.9" cy="347.0" r="0.8"/><circle cx="451.5" cy="345.3" r="0.8"/><circle cx="452.1" cy="346.9" r="0.8"/><circle cx="452.7" cy="348.7" r="0.8"/><circle cx="453.3" cy="354.0" r="0.8"/><circle cx="453.9" cy="348.2" r="0.8"/><circle cx="454.6" cy="344.8" r="0.8"/><circle cx="455.2" cy="343.4" r="0.8"/><circle cx="455.8" cy="342.0" r="0.8"/><circle cx="456.4" cy="344.3" r="0.8"/><circle cx="457.0" cy="344.3" r="0.8"/><circle cx="457.7" cy="343.9" r="0.8"/><circle cx="458.3" cy="346.7" r="0.8"/><circle cx="458.9" cy="349.3" r="0.8"/><circle cx="459.5" cy="356.6" r="0.8"/><circle cx="460.1" cy="349.1" r="0.8"/><circle cx="460.7" cy="347.8" r="0.8"/><circle cx="461.4" cy="347.3" r="0.8"/><circle cx="462.0" cy="343.5" r="0.8"/><circle cx="462.6" cy="349.0" r="0.8"/><circle cx="463.2" cy="346.2" r="0.8"/><circle cx="463.8" cy="349.6" r="0.8"/><circle cx="464.5" cy="348.5" r="0.8"/><circle cx="465.1" cy="346.3" r="0.8"/><circle cx="465.7" cy="349.3" r="0.8"/><circle cx="466.3" cy="347.0" r="0.8"/><circle cx="466.9" cy="347.7" r="0.8"/><circle cx="467.5" cy="347.5" r="0.8"/><circle cx="468.2" cy="346.9" r="0.8"/><circle cx="468.8" cy="351.8" r="0.8"/><circle cx="469.4" cy="345.3" r="0.8"/><circle cx="470.0" cy="348.3" r="0.8"/><circle cx="470.6" cy="344.1" r="0.8"/><circle cx="471.3" cy="343.9" r="0.8"/><circle cx="471.9" cy="345.5" r="0.8"/><circle cx="472.5" cy="345.5" r="0.8"/><circle cx="473.1" cy="346.3" r="0.8"/><circle cx="473.7" cy="347.7" r="0.8"/><circle cx="474.3" cy="346.4" r="0.8"/><circle cx="475.0" cy="343.6" r="0.8"/><circle cx="475.6" cy="347.6" r="0.8"/><circle cx="476.2" cy="349.6" r="0.8"/><circle cx="476.8" cy="351.4" r="0.8"/><circle cx="477.4" cy="353.3" r="0.8"/><circle cx="478.1" cy="349.7" r="0.8"/><circle cx="478.7" cy="351.9" r="0.8"/><circle cx="479.3" cy="349.6" r="0.8"/><circle cx="479.9" cy="350.5" r="0.8"/><circle cx="480.5" cy="351.6" r="0.8"/><circle cx="481.1" cy="352.1" r="0.8"/><circle cx="481.8" cy="350.4" r="0.8"/><circle cx="482.4" cy="352.2" r="0.8"/><circle cx="483.0" cy="349.7" r="0.8"/><circle cx="483.6" cy="350.3" r="0.8"/><circle cx="484.2" cy="352.4" r="0.8"/><circle cx="484.8" cy="353.4" r="0.8"/><circle cx="485.5" cy="353.5" r="0.8"/><circle cx="486.1" cy="354.8" r="0.8"/><circle cx="486.7" cy="354.1" r="0.8"/><circle cx="487.3" cy="356.0" r="0.8"/><circle cx="487.9" cy="353.1" r="0.8"/><circle cx="488.6" cy="356.3" r="0.8"/><circle cx="489.2" cy="356.5" r="0.8"/><circle cx="489.8" cy="357.1" r="0.8"/><circle cx="490.4" cy="361.9" r="0.8"/><circle cx="491.0" cy="358.8" r="0.8"/><circle cx="491.6" cy="357.7" r="0.8"/><circle cx="492.3" cy="359.4" r="0.8"/><circle cx="492.9" cy="358.4" r="0.8"/><circle cx="493.5" cy="359.9" r="0.8"/><circle cx="494.1" cy="361.4" r="0.8"/><circle cx="494.7" cy="360.5" r="0.8"/><circle cx="495.4" cy="360.4" r="0.8"/><circle cx="496.0" cy="360.3" r="0.8"/><circle cx="496.6" cy="356.0" r="0.8"/><circle cx="497.2" cy="352.6" r="0.8"/><circle cx="497.8" cy="351.5" r="0.8"/><circle cx="498.4" cy="352.8" r="0.8"/><circle cx="499.1" cy="353.4" r="0.8"/><circle cx="499.7" cy="350.6" r="0.8"/><circle cx="500.3" cy="351.3" r="0.8"/><circle cx="500.9" cy="346.7" r="0.8"/><circle cx="501.5" cy="345.6" r="0.8"/><circle cx="502.2" cy="344.7" r="0.8"/><circle cx="502.8" cy="341.5" r="0.8"/><circle cx="503.4" cy="341.7" r="0.8"/><circle cx="504.0" cy="338.4" r="0.8"/><circle cx="504.6" cy="339.5" r="0.8"/><circle cx="505.2" cy="336.8" r="0.8"/><circle cx="505.9" cy="336.3" r="0.8"/><circle cx="506.5" cy="335.9" r="0.8"/><circle cx="507.1" cy="335.8" r="0.8"/><circle cx="507.7" cy="338.8" r="0.8"/><circle cx="508.3" cy="338.1" r="0.8"/><circle cx="509.0" cy="339.2" r="0.8"/><circle cx="509.6" cy="335.9" r="0.8"/><circle cx="510.2" cy="344.7" r="0.8"/><circle cx="510.8" cy="344.2" r="0.8"/><circle cx="511.4" cy="344.3" r="0.8"/><circle cx="512.0" cy="344.2" r="0.8"/><circle cx="512.7" cy="343.8" r="0.8"/><circle cx="513.3" cy="345.4" r="0.8"/><circle cx="513.9" cy="343.8" r="0.8"/><circle cx="514.5" cy="347.4" r="0.8"/><circle cx="515.1" cy="348.6" r="0.8"/><circle cx="515.7" cy="351.5" r="0.8"/><circle cx="516.4" cy="352.0" r="0.8"/><circle cx="517.0" cy="349.9" r="0.8"/><circle cx="517.6" cy="351.6" r="0.8"/><circle cx="518.2" cy="349.9" r="0.8"/><circle cx="518.8" cy="352.5" r="0.8"/><circle cx="519.5" cy="356.6" r="0.8"/><circle cx="520.1" cy="355.9" r="0.8"/><circle cx="520.7" cy="359.5" r="0.8"/><circle cx="521.3" cy="356.8" r="0.8"/><circle cx="521.9" cy="358.1" r="0.8"/><circle cx="522.5" cy="358.4" r="0.8"/><circle cx="523.2" cy="359.4" r="0.8"/><circle cx="523.8" cy="360.6" r="0.8"/><circle cx="524.4" cy="361.6" r="0.8"/><circle cx="525.0" cy="362.1" r="0.8"/><circle cx="525.6" cy="362.3" r="0.8"/><circle cx="526.3" cy="362.5" r="0.8"/><circle cx="526.9" cy="363.8" r="0.8"/><circle cx="527.5" cy="363.9" r="0.8"/><circle cx="528.1" cy="365.4" r="0.8"/><circle cx="528.7" cy="362.8" r="0.8"/><circle cx="529.3" cy="364.8" r="0.8"/><circle cx="530.0" cy="364.5" r="0.8"/><circle cx="530.6" cy="364.5" r="0.8"/><circle cx="531.2" cy="365.6" r="0.8"/><circle cx="531.8" cy="367.1" r="0.8"/><circle cx="532.4" cy="367.4" r="0.8"/><circle cx="533.1" cy="369.1" r="0.8"/><circle cx="533.7" cy="371.1" r="0.8"/><circle cx="534.3" cy="369.9" r="0.8"/><circle cx="534.9" cy="370.5" r="0.8"/><circle cx="535.5" cy="370.1" r="0.8"/><circle cx="536.1" cy="371.4" r="0.8"/><circle cx="536.8" cy="371.1" r="0.8"/><circle cx="537.4" cy="372.2" r="0.8"/><circle cx="538.0" cy="373.4" r="0.8"/><circle cx="538.6" cy="372.8" r="0.8"/><circle cx="539.2" cy="372.8" r="0.8"/><circle cx="539.9" cy="372.7" r="0.8"/><circle cx="540.5" cy="373.5" r="0.8"/><circle cx="541.1" cy="373.3" r="0.8"/><circle cx="541.7" cy="374.2" r="0.8"/><circle cx="542.3" cy="374.0" r="0.8"/><circle cx="542.9" cy="373.5" r="0.8"/><circle cx="543.6" cy="374.2" r="0.8"/><circle cx="544.2" cy="372.7" r="0.8"/><circle cx="544.8" cy="373.8" r="0.8"/><circle cx="545.4" cy="374.2" r="0.8"/><circle cx="546.0" cy="374.2" r="0.8"/><circle cx="546.6" cy="374.6" r="0.8"/><circle cx="547.3" cy="374.4" r="0.8"/><circle cx="547.9" cy="374.6" r="0.8"/><circle cx="548.5" cy="375.4" r="0.8"/><circle cx="549.1" cy="375.2" r="0.8"/><circle cx="549.7" cy="375.0" r="0.8"/><circle cx="550.4" cy="375.4" r="0.8"/><circle cx="551.0" cy="374.9" r="0.8"/><circle cx="551.6" cy="374.9" r="0.8"/><circle cx="552.2" cy="374.7" r="0.8"/><circle cx="552.8" cy="374.7" r="0.8"/><circle cx="553.4" cy="374.6" r="0.8"/><circle cx="554.1" cy="375.6" r="0.8"/><circle cx="554.7" cy="375.6" r="0.8"/><circle cx="555.3" cy="374.7" r="0.8"/><circle cx="555.9" cy="374.3" r="0.8"/><circle cx="556.5" cy="373.5" r="0.8"/><circle cx="557.2" cy="373.8" r="0.8"/><circle cx="557.8" cy="373.9" r="0.8"/><circle cx="558.4" cy="373.9" r="0.8"/><circle cx="559.0" cy="373.9" r="0.8"/><circle cx="559.6" cy="374.2" r="0.8"/><circle cx="560.2" cy="372.9" r="0.8"/><circle cx="560.9" cy="373.4" r="0.8"/><circle cx="561.5" cy="372.5" r="0.8"/><circle cx="562.1" cy="373.0" r="0.8"/><circle cx="562.7" cy="372.6" r="0.8"/><circle cx="563.3" cy="372.9" r="0.8"/><circle cx="564.0" cy="372.0" r="0.8"/><circle cx="564.6" cy="372.5" r="0.8"/><circle cx="565.2" cy="372.3" r="0.8"/><circle cx="565.8" cy="370.4" r="0.8"/><circle cx="566.4" cy="370.7" r="0.8"/><circle cx="567.0" cy="370.6" r="0.8"/><circle cx="567.7" cy="371.4" r="0.8"/><circle cx="568.3" cy="371.7" r="0.8"/><circle cx="568.9" cy="369.9" r="0.8"/><circle cx="569.5" cy="370.1" r="0.8"/><circle cx="570.1" cy="369.3" r="0.8"/><circle cx="570.8" cy="369.9" r="0.8"/><circle cx="571.4" cy="368.9" r="0.8"/><circle cx="572.0" cy="369.0" r="0.8"/><circle cx="572.6" cy="367.2" r="0.8"/><circle cx="573.2" cy="368.0" r="0.8"/><circle cx="573.8" cy="367.6" r="0.8"/><circle cx="574.5" cy="365.6" r="0.8"/><circle cx="575.1" cy="366.4" r="0.8"/><circle cx="575.7" cy="366.8" r="0.8"/><circle cx="576.3" cy="368.8" r="0.8"/><circle cx="576.9" cy="368.0" r="0.8"/><circle cx="577.5" cy="367.4" r="0.8"/><circle cx="578.2" cy="368.2" r="0.8"/><circle cx="578.8" cy="367.7" r="0.8"/><circle cx="579.4" cy="367.8" r="0.8"/><circle cx="580.0" cy="369.0" r="0.8"/><circle cx="580.6" cy="368.7" r="0.8"/><circle cx="581.3" cy="368.7" r="0.8"/><circle cx="581.9" cy="367.3" r="0.8"/><circle cx="582.5" cy="367.4" r="0.8"/><circle cx="583.1" cy="366.1" r="0.8"/><circle cx="583.7" cy="365.3" r="0.8"/><circle cx="584.3" cy="366.9" r="0.8"/><circle cx="585.0" cy="366.4" r="0.8"/><circle cx="585.6" cy="367.7" r="0.8"/><circle cx="586.2" cy="366.2" r="0.8"/><circle cx="586.8" cy="367.4" r="0.8"/><circle cx="587.4" cy="361.8" r="0.8"/><circle cx="588.1" cy="365.3" r="0.8"/><circle cx="588.7" cy="365.5" r="0.8"/><circle cx="589.3" cy="364.6" r="0.8"/><circle cx="589.9" cy="364.0" r="0.8"/><circle cx="590.5" cy="364.7" r="0.8"/><circle cx="591.1" cy="365.0" r="0.8"/><circle cx="591.8" cy="362.3" r="0.8"/><circle cx="592.4" cy="362.9" r="0.8"/><circle cx="593.0" cy="362.3" r="0.8"/><circle cx="593.6" cy="360.4" r="0.8"/><circle cx="594.2" cy="361.6" r="0.8"/><circle cx="594.9" cy="361.9" r="0.8"/><circle cx="595.5" cy="359.1" r="0.8"/><circle cx="596.1" cy="355.8" r="0.8"/><circle cx="596.7" cy="358.1" r="0.8"/><circle cx="597.3" cy="357.3" r="0.8"/><circle cx="597.9" cy="358.5" r="0.8"/><circle cx="598.6" cy="356.7" r="0.8"/><circle cx="599.2" cy="356.4" r="0.8"/><circle cx="599.8" cy="353.4" r="0.8"/><circle cx="600.4" cy="354.7" r="0.8"/><circle cx="601.0" cy="356.1" r="0.8"/><circle cx="601.7" cy="354.4" r="0.8"/><circle cx="602.3" cy="351.4" r="0.8"/><circle cx="602.9" cy="354.1" r="0.8"/><circle cx="603.5" cy="350.4" r="0.8"/><circle cx="604.1" cy="355.5" r="0.8"/><circle cx="604.7" cy="354.6" r="0.8"/><circle cx="605.4" cy="356.0" r="0.8"/><circle cx="606.0" cy="358.3" r="0.8"/><circle cx="606.6" cy="359.9" r="0.8"/><circle cx="607.2" cy="361.7" r="0.8"/><circle cx="607.8" cy="361.4" r="0.8"/><circle cx="608.4" cy="362.8" r="0.8"/><circle cx="609.1" cy="361.3" r="0.8"/><circle cx="609.7" cy="367.5" r="0.8"/><circle cx="610.3" cy="365.6" r="0.8"/><circle cx="610.9" cy="366.7" r="0.8"/><circle cx="611.5" cy="365.9" r="0.8"/><circle cx="612.2" cy="368.8" r="0.8"/><circle cx="612.8" cy="364.5" r="0.8"/><circle cx="613.4" cy="365.5" r="0.8"/><circle cx="614.0" cy="367.9" r="0.8"/><circle cx="614.6" cy="367.5" r="0.8"/><circle cx="615.2" cy="367.4" r="0.8"/><circle cx="615.9" cy="365.7" r="0.8"/><circle cx="616.5" cy="366.3" r="0.8"/><circle cx="617.1" cy="365.4" r="0.8"/><circle cx="617.7" cy="365.7" r="0.8"/><circle cx="618.3" cy="366.2" r="0.8"/><circle cx="619.0" cy="367.7" r="0.8"/><circle cx="619.6" cy="367.2" r="0.8"/><circle cx="620.2" cy="368.9" r="0.8"/><circle cx="620.8" cy="368.5" r="0.8"/><circle cx="621.4" cy="369.4" r="0.8"/><circle cx="622.0" cy="369.7" r="0.8"/><circle cx="622.7" cy="369.7" r="0.8"/><circle cx="623.3" cy="370.2" r="0.8"/><circle cx="623.9" cy="371.1" r="0.8"/><circle cx="624.5" cy="372.0" r="0.8"/><circle cx="625.1" cy="371.2" r="0.8"/><circle cx="625.8" cy="372.4" r="0.8"/><circle cx="626.4" cy="371.7" r="0.8"/><circle cx="627.0" cy="372.6" r="0.8"/><circle cx="627.6" cy="373.2" r="0.8"/><circle cx="628.2" cy="374.0" r="0.8"/><circle cx="628.8" cy="374.0" r="0.8"/><circle cx="629.5" cy="374.1" r="0.8"/><circle cx="630.1" cy="374.4" r="0.8"/><circle cx="630.7" cy="374.2" r="0.8"/><circle cx="631.3" cy="374.1" r="0.8"/><circle cx="631.9" cy="374.9" r="0.8"/><circle cx="632.6" cy="375.4" r="0.8"/><circle cx="633.2" cy="375.7" r="0.8"/><circle cx="633.8" cy="375.9" r="0.8"/><circle cx="634.4" cy="375.6" r="0.8"/><circle cx="635.0" cy="375.3" r="0.8"/><circle cx="635.6" cy="375.4" r="0.8"/><circle cx="636.3" cy="375.7" r="0.8"/><circle cx="636.9" cy="376.1" r="0.8"/><circle cx="637.5" cy="376.3" r="0.8"/><circle cx="638.1" cy="375.6" r="0.8"/><circle cx="638.7" cy="375.9" r="0.8"/><circle cx="639.3" cy="375.7" r="0.8"/><circle cx="640.0" cy="376.2" r="0.8"/><circle cx="640.6" cy="375.9" r="0.8"/><circle cx="641.2" cy="375.9" r="0.8"/><circle cx="641.8" cy="375.9" r="0.8"/><circle cx="642.4" cy="375.7" r="0.8"/><circle cx="643.1" cy="375.6" r="0.8"/><circle cx="643.7" cy="375.5" r="0.8"/><circle cx="644.3" cy="375.7" r="0.8"/><circle cx="644.9" cy="375.4" r="0.8"/><circle cx="645.5" cy="375.6" r="0.8"/><circle cx="646.1" cy="375.0" r="0.8"/><circle cx="646.8" cy="374.7" r="0.8"/><circle cx="647.4" cy="374.2" r="0.8"/><circle cx="648.0" cy="373.6" r="0.8"/><circle cx="648.6" cy="374.1" r="0.8"/><circle cx="649.2" cy="373.6" r="0.8"/><circle cx="649.9" cy="373.2" r="0.8"/><circle cx="650.5" cy="373.7" r="0.8"/><circle cx="651.1" cy="373.2" r="0.8"/><circle cx="651.7" cy="372.9" r="0.8"/><circle cx="652.3" cy="372.7" r="0.8"/><circle cx="652.9" cy="373.6" r="0.8"/><circle cx="653.6" cy="373.8" r="0.8"/><circle cx="654.2" cy="373.4" r="0.8"/><circle cx="654.8" cy="373.9" r="0.8"/><circle cx="655.4" cy="373.6" r="0.8"/><circle cx="656.0" cy="372.8" r="0.8"/><circle cx="656.7" cy="372.7" r="0.8"/><circle cx="657.3" cy="373.2" r="0.8"/><circle cx="657.9" cy="373.3" r="0.8"/><circle cx="658.5" cy="373.1" r="0.8"/><circle cx="659.1" cy="373.6" r="0.8"/><circle cx="659.7" cy="373.8" r="0.8"/><circle cx="660.4" cy="374.0" r="0.8"/><circle cx="661.0" cy="373.7" r="0.8"/><circle cx="661.6" cy="373.5" r="0.8"/><circle cx="662.2" cy="374.1" r="0.8"/><circle cx="662.8" cy="374.0" r="0.8"/><circle cx="663.5" cy="373.4" r="0.8"/><circle cx="664.1" cy="373.8" r="0.8"/><circle cx="664.7" cy="373.4" r="0.8"/><circle cx="665.3" cy="373.2" r="0.8"/><circle cx="665.9" cy="373.3" r="0.8"/><circle cx="666.5" cy="373.5" r="0.8"/><circle cx="667.2" cy="373.4" r="0.8"/><circle cx="667.8" cy="373.1" r="0.8"/><circle cx="668.4" cy="373.3" r="0.8"/><circle cx="669.0" cy="373.2" r="0.8"/><circle cx="669.6" cy="372.7" r="0.8"/></g></g>
<rect x="375.5" y="230.4" width="307.9" height="156.8" fill="none" stroke="#333" stroke-width="0.65"/>
<rect x="375.5" y="213.4" width="307.9" height="17.0" fill="#fff" stroke="#333" stroke-width="0.65"/>
<text x="529.5" y="225.2" text-anchor="middle" font-size="8.75" fill="#1a1a1a">(d) Reported cases</text>
<line x1="372.6" x2="375.5" y1="380.5" y2="380.5" stroke="#333" stroke-width="0.85"/>
<text x="369.9" y="383.5" text-anchor="end" font-size="8.70" fill="#4d4d4d">0</text>
<line x1="372.6" x2="375.5" y1="339.1" y2="339.1" stroke="#333" stroke-width="0.85"/>
<text x="369.9" y="342.1" text-anchor="end" font-size="8.70" fill="#4d4d4d">10000</text>
<line x1="372.6" x2="375.5" y1="297.7" y2="297.7" stroke="#333" stroke-width="0.85"/>
<text x="369.9" y="300.7" text-anchor="end" font-size="8.70" fill="#4d4d4d">20000</text>
<line x1="372.6" x2="375.5" y1="256.3" y2="256.3" stroke="#333" stroke-width="0.85"/>
<text x="369.9" y="259.3" text-anchor="end" font-size="8.70" fill="#4d4d4d">30000</text>
<line x1="389.0" x2="389.0" y1="387.2" y2="390.1" stroke="#333" stroke-width="0.85"/>
<text x="389.0" y="398.9" text-anchor="middle" font-size="8.70" fill="#4d4d4d">2022-01</text>
<line x1="500.9" x2="500.9" y1="387.2" y2="390.1" stroke="#333" stroke-width="0.85"/>
<text x="500.9" y="398.9" text-anchor="middle" font-size="8.70" fill="#4d4d4d">2022-07</text>
<line x1="614.7" x2="614.7" y1="387.2" y2="390.1" stroke="#333" stroke-width="0.85"/>
<text x="614.7" y="398.9" text-anchor="middle" font-size="8.70" fill="#4d4d4d">2023-01</text>
<text x="357.2" y="411.4" text-anchor="middle" font-size="10.7" fill="#000">Date</text>
</svg>
</body></html>
